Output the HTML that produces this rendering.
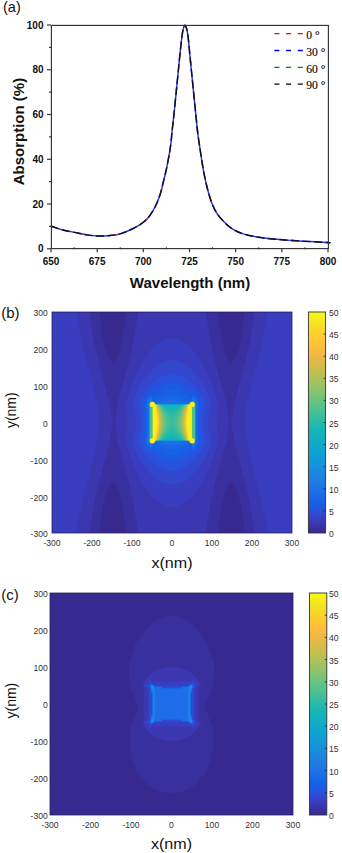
<!DOCTYPE html>
<html><head><meta charset="utf-8"><style>
html,body{margin:0;padding:0;background:#fff;}
body{width:342px;height:853px;position:relative;overflow:hidden;font-family:"Liberation Sans", sans-serif;}
</style></head><body>
<svg width="342" height="853" viewBox="0 0 342 853" style="position:absolute;left:0;top:0">
<defs><filter id="soft" x="-20%" y="-20%" width="140%" height="140%"><feGaussianBlur stdDeviation="0.45"/></filter><linearGradient id="cbg" x1="0" y1="0" x2="0" y2="1"><stop offset="0.0000" stop-color="#f9fb10"/><stop offset="0.0156" stop-color="#f7f316"/><stop offset="0.0312" stop-color="#f5ec1a"/><stop offset="0.0469" stop-color="#f5e61f"/><stop offset="0.0625" stop-color="#f5e023"/><stop offset="0.0781" stop-color="#f7da27"/><stop offset="0.0938" stop-color="#f9d42a"/><stop offset="0.1094" stop-color="#fccf2e"/><stop offset="0.1250" stop-color="#fec932"/><stop offset="0.1406" stop-color="#fec437"/><stop offset="0.1562" stop-color="#febf3c"/><stop offset="0.1719" stop-color="#f9bb41"/><stop offset="0.1875" stop-color="#f2ba43"/><stop offset="0.2031" stop-color="#eaba44"/><stop offset="0.2188" stop-color="#e1ba45"/><stop offset="0.2344" stop-color="#d9bb47"/><stop offset="0.2500" stop-color="#d0bd4a"/><stop offset="0.2656" stop-color="#c6be4e"/><stop offset="0.2812" stop-color="#bdbf53"/><stop offset="0.2969" stop-color="#b3c058"/><stop offset="0.3125" stop-color="#a8c15e"/><stop offset="0.3281" stop-color="#9ec263"/><stop offset="0.3438" stop-color="#93c369"/><stop offset="0.3594" stop-color="#88c36f"/><stop offset="0.3750" stop-color="#7dc375"/><stop offset="0.3906" stop-color="#72c37c"/><stop offset="0.4062" stop-color="#66c282"/><stop offset="0.4219" stop-color="#5cc288"/><stop offset="0.4375" stop-color="#51c08f"/><stop offset="0.4531" stop-color="#48bf95"/><stop offset="0.4688" stop-color="#3ebd9c"/><stop offset="0.4844" stop-color="#33bca2"/><stop offset="0.5000" stop-color="#29baa8"/><stop offset="0.5156" stop-color="#1fb8ae"/><stop offset="0.5312" stop-color="#18b6b4"/><stop offset="0.5469" stop-color="#13b3b9"/><stop offset="0.5625" stop-color="#11b1bf"/><stop offset="0.5781" stop-color="#0faec4"/><stop offset="0.5938" stop-color="#0eabc8"/><stop offset="0.6094" stop-color="#0da8cc"/><stop offset="0.6250" stop-color="#0ea5d0"/><stop offset="0.6406" stop-color="#0fa1d3"/><stop offset="0.6562" stop-color="#109dd6"/><stop offset="0.6719" stop-color="#1199d8"/><stop offset="0.6875" stop-color="#1495da"/><stop offset="0.7031" stop-color="#1790dc"/><stop offset="0.7188" stop-color="#1a8ade"/><stop offset="0.7344" stop-color="#1c85df"/><stop offset="0.7500" stop-color="#1e81e1"/><stop offset="0.7656" stop-color="#1f7ce2"/><stop offset="0.7812" stop-color="#1f78e4"/><stop offset="0.7969" stop-color="#1f73e5"/><stop offset="0.8125" stop-color="#1d6fe6"/><stop offset="0.8281" stop-color="#1b6ae7"/><stop offset="0.8438" stop-color="#1866e7"/><stop offset="0.8594" stop-color="#1761e7"/><stop offset="0.8750" stop-color="#195be5"/><stop offset="0.8906" stop-color="#2155e1"/><stop offset="0.9062" stop-color="#2c4dd8"/><stop offset="0.9219" stop-color="#3446cd"/><stop offset="0.9375" stop-color="#383fc1"/><stop offset="0.9531" stop-color="#3939b5"/><stop offset="0.9688" stop-color="#3a34a9"/><stop offset="0.9844" stop-color="#392e9d"/><stop offset="1.0000" stop-color="#382991"/></linearGradient></defs>
<text x="3" y="12" font-family="Liberation Sans" font-size="14.5" fill="#111">(a)</text>
<path d="M51.00,226.20 C51.33,226.30 51.00,226.17 53.00,226.80 C55.00,227.43 59.40,229.07 63.00,230.00 C66.60,230.93 70.60,231.58 74.60,232.40 C78.60,233.22 83.10,234.30 87.00,234.90 C90.90,235.50 94.17,235.90 98.00,236.00 C101.83,236.10 106.33,235.85 110.00,235.50 C113.67,235.15 116.67,234.82 120.00,233.90 C123.33,232.98 126.67,231.55 130.00,230.00 C133.33,228.45 137.17,226.42 140.00,224.60 C142.83,222.78 144.85,221.38 147.00,219.10 C149.15,216.82 151.23,213.63 152.90,210.90 C154.57,208.17 155.73,205.63 157.00,202.70 C158.27,199.77 159.43,196.82 160.50,193.30 C161.57,189.78 162.48,185.32 163.40,181.60 C164.32,177.88 165.22,174.52 166.00,171.00 C166.78,167.48 167.45,163.92 168.10,160.50 C168.75,157.08 169.40,153.63 169.90,150.50 C170.40,147.37 170.72,145.12 171.10,141.70 C171.48,138.28 171.73,134.45 172.20,130.00 C172.67,125.55 173.25,121.15 173.90,115.00 C174.55,108.85 175.37,100.40 176.10,93.10 C176.83,85.80 177.57,78.52 178.30,71.20 C179.03,63.88 179.77,55.78 180.50,49.20 C181.23,42.62 181.93,35.67 182.70,31.70 C183.47,27.73 184.25,24.92 185.10,25.40 C185.95,25.88 186.98,29.42 187.80,34.60 C188.62,39.78 189.27,49.18 190.00,56.50 C190.73,63.82 191.47,71.18 192.20,78.50 C192.93,85.82 193.72,93.58 194.40,100.40 C195.08,107.22 195.72,113.73 196.30,119.40 C196.88,125.07 197.38,130.20 197.90,134.40 C198.42,138.60 198.78,140.47 199.40,144.60 C200.02,148.73 200.82,154.32 201.60,159.20 C202.38,164.08 203.13,169.02 204.10,173.90 C205.07,178.78 206.12,183.63 207.40,188.50 C208.68,193.37 210.22,198.97 211.80,203.10 C213.38,207.23 214.83,210.13 216.90,213.30 C218.97,216.47 221.52,219.42 224.20,222.10 C226.88,224.78 229.70,227.40 233.00,229.40 C236.30,231.40 238.88,232.67 244.00,234.10 C249.12,235.53 255.65,236.93 263.70,238.00 C271.75,239.07 281.73,239.75 292.30,240.50 C302.87,241.25 321.15,242.15 327.10,242.50 C333.05,242.85 327.85,242.58 328.00,242.60" fill="none" stroke="#2233ff" stroke-width="1.45"/>
<path d="M51.00,226.20 C51.33,226.30 51.00,226.17 53.00,226.80 C55.00,227.43 59.40,229.07 63.00,230.00 C66.60,230.93 70.60,231.58 74.60,232.40 C78.60,233.22 83.10,234.30 87.00,234.90 C90.90,235.50 94.17,235.90 98.00,236.00 C101.83,236.10 106.33,235.85 110.00,235.50 C113.67,235.15 116.67,234.82 120.00,233.90 C123.33,232.98 126.67,231.55 130.00,230.00 C133.33,228.45 137.17,226.42 140.00,224.60 C142.83,222.78 144.85,221.38 147.00,219.10 C149.15,216.82 151.23,213.63 152.90,210.90 C154.57,208.17 155.73,205.63 157.00,202.70 C158.27,199.77 159.43,196.82 160.50,193.30 C161.57,189.78 162.48,185.32 163.40,181.60 C164.32,177.88 165.22,174.52 166.00,171.00 C166.78,167.48 167.45,163.92 168.10,160.50 C168.75,157.08 169.40,153.63 169.90,150.50 C170.40,147.37 170.72,145.12 171.10,141.70 C171.48,138.28 171.73,134.45 172.20,130.00 C172.67,125.55 173.25,121.15 173.90,115.00 C174.55,108.85 175.37,100.40 176.10,93.10 C176.83,85.80 177.57,78.52 178.30,71.20 C179.03,63.88 179.77,55.78 180.50,49.20 C181.23,42.62 181.93,35.67 182.70,31.70 C183.47,27.73 184.25,24.92 185.10,25.40 C185.95,25.88 186.98,29.42 187.80,34.60 C188.62,39.78 189.27,49.18 190.00,56.50 C190.73,63.82 191.47,71.18 192.20,78.50 C192.93,85.82 193.72,93.58 194.40,100.40 C195.08,107.22 195.72,113.73 196.30,119.40 C196.88,125.07 197.38,130.20 197.90,134.40 C198.42,138.60 198.78,140.47 199.40,144.60 C200.02,148.73 200.82,154.32 201.60,159.20 C202.38,164.08 203.13,169.02 204.10,173.90 C205.07,178.78 206.12,183.63 207.40,188.50 C208.68,193.37 210.22,198.97 211.80,203.10 C213.38,207.23 214.83,210.13 216.90,213.30 C218.97,216.47 221.52,219.42 224.20,222.10 C226.88,224.78 229.70,227.40 233.00,229.40 C236.30,231.40 238.88,232.67 244.00,234.10 C249.12,235.53 255.65,236.93 263.70,238.00 C271.75,239.07 281.73,239.75 292.30,240.50 C302.87,241.25 321.15,242.15 327.10,242.50 C333.05,242.85 327.85,242.58 328.00,242.60" fill="none" stroke="#ff2020" stroke-width="1.45" stroke-dasharray="3 31" stroke-dashoffset="3"/>
<path d="M51.00,226.20 C51.33,226.30 51.00,226.17 53.00,226.80 C55.00,227.43 59.40,229.07 63.00,230.00 C66.60,230.93 70.60,231.58 74.60,232.40 C78.60,233.22 83.10,234.30 87.00,234.90 C90.90,235.50 94.17,235.90 98.00,236.00 C101.83,236.10 106.33,235.85 110.00,235.50 C113.67,235.15 116.67,234.82 120.00,233.90 C123.33,232.98 126.67,231.55 130.00,230.00 C133.33,228.45 137.17,226.42 140.00,224.60 C142.83,222.78 144.85,221.38 147.00,219.10 C149.15,216.82 151.23,213.63 152.90,210.90 C154.57,208.17 155.73,205.63 157.00,202.70 C158.27,199.77 159.43,196.82 160.50,193.30 C161.57,189.78 162.48,185.32 163.40,181.60 C164.32,177.88 165.22,174.52 166.00,171.00 C166.78,167.48 167.45,163.92 168.10,160.50 C168.75,157.08 169.40,153.63 169.90,150.50 C170.40,147.37 170.72,145.12 171.10,141.70 C171.48,138.28 171.73,134.45 172.20,130.00 C172.67,125.55 173.25,121.15 173.90,115.00 C174.55,108.85 175.37,100.40 176.10,93.10 C176.83,85.80 177.57,78.52 178.30,71.20 C179.03,63.88 179.77,55.78 180.50,49.20 C181.23,42.62 181.93,35.67 182.70,31.70 C183.47,27.73 184.25,24.92 185.10,25.40 C185.95,25.88 186.98,29.42 187.80,34.60 C188.62,39.78 189.27,49.18 190.00,56.50 C190.73,63.82 191.47,71.18 192.20,78.50 C192.93,85.82 193.72,93.58 194.40,100.40 C195.08,107.22 195.72,113.73 196.30,119.40 C196.88,125.07 197.38,130.20 197.90,134.40 C198.42,138.60 198.78,140.47 199.40,144.60 C200.02,148.73 200.82,154.32 201.60,159.20 C202.38,164.08 203.13,169.02 204.10,173.90 C205.07,178.78 206.12,183.63 207.40,188.50 C208.68,193.37 210.22,198.97 211.80,203.10 C213.38,207.23 214.83,210.13 216.90,213.30 C218.97,216.47 221.52,219.42 224.20,222.10 C226.88,224.78 229.70,227.40 233.00,229.40 C236.30,231.40 238.88,232.67 244.00,234.10 C249.12,235.53 255.65,236.93 263.70,238.00 C271.75,239.07 281.73,239.75 292.30,240.50 C302.87,241.25 321.15,242.15 327.10,242.50 C333.05,242.85 327.85,242.58 328.00,242.60" fill="none" stroke="#111" stroke-width="1.45" stroke-dasharray="8 3.5"/>
<rect x="51.4" y="25.4" width="277.0" height="223.2" fill="none" stroke="#333" stroke-width="1.15"/>
<line x1="47.0" y1="248.80" x2="51.0" y2="248.80" stroke="#3a3a3a" stroke-width="1.2"/>
<text x="43.5" y="252.40" text-anchor="end" font-family="Liberation Sans" font-weight="bold" font-size="10" fill="#111">0</text>
<line x1="47.0" y1="204.04" x2="51.0" y2="204.04" stroke="#3a3a3a" stroke-width="1.2"/>
<text x="43.5" y="207.64" text-anchor="end" font-family="Liberation Sans" font-weight="bold" font-size="10" fill="#111">20</text>
<line x1="47.0" y1="159.28" x2="51.0" y2="159.28" stroke="#3a3a3a" stroke-width="1.2"/>
<text x="43.5" y="162.88" text-anchor="end" font-family="Liberation Sans" font-weight="bold" font-size="10" fill="#111">40</text>
<line x1="47.0" y1="114.52" x2="51.0" y2="114.52" stroke="#3a3a3a" stroke-width="1.2"/>
<text x="43.5" y="118.12" text-anchor="end" font-family="Liberation Sans" font-weight="bold" font-size="10" fill="#111">60</text>
<line x1="47.0" y1="69.76" x2="51.0" y2="69.76" stroke="#3a3a3a" stroke-width="1.2"/>
<text x="43.5" y="73.36" text-anchor="end" font-family="Liberation Sans" font-weight="bold" font-size="10" fill="#111">80</text>
<line x1="47.0" y1="25.00" x2="51.0" y2="25.00" stroke="#3a3a3a" stroke-width="1.2"/>
<text x="43.5" y="28.60" text-anchor="end" font-family="Liberation Sans" font-weight="bold" font-size="10" fill="#111">100</text>
<line x1="49.0" y1="226.42" x2="51.0" y2="226.42" stroke="#3a3a3a" stroke-width="1.1"/>
<line x1="49.0" y1="181.66" x2="51.0" y2="181.66" stroke="#3a3a3a" stroke-width="1.1"/>
<line x1="49.0" y1="136.90" x2="51.0" y2="136.90" stroke="#3a3a3a" stroke-width="1.1"/>
<line x1="49.0" y1="92.14" x2="51.0" y2="92.14" stroke="#3a3a3a" stroke-width="1.1"/>
<line x1="49.0" y1="47.38" x2="51.0" y2="47.38" stroke="#3a3a3a" stroke-width="1.1"/>
<line x1="51.00" y1="248.8" x2="51.00" y2="252.3" stroke="#3a3a3a" stroke-width="1.2"/>
<text x="51.00" y="265" text-anchor="middle" font-family="Liberation Sans" font-weight="bold" font-size="10" fill="#111">650</text>
<line x1="97.17" y1="248.8" x2="97.17" y2="252.3" stroke="#3a3a3a" stroke-width="1.2"/>
<text x="97.17" y="265" text-anchor="middle" font-family="Liberation Sans" font-weight="bold" font-size="10" fill="#111">675</text>
<line x1="143.33" y1="248.8" x2="143.33" y2="252.3" stroke="#3a3a3a" stroke-width="1.2"/>
<text x="143.33" y="265" text-anchor="middle" font-family="Liberation Sans" font-weight="bold" font-size="10" fill="#111">700</text>
<line x1="189.50" y1="248.8" x2="189.50" y2="252.3" stroke="#3a3a3a" stroke-width="1.2"/>
<text x="189.50" y="265" text-anchor="middle" font-family="Liberation Sans" font-weight="bold" font-size="10" fill="#111">725</text>
<line x1="235.67" y1="248.8" x2="235.67" y2="252.3" stroke="#3a3a3a" stroke-width="1.2"/>
<text x="235.67" y="265" text-anchor="middle" font-family="Liberation Sans" font-weight="bold" font-size="10" fill="#111">750</text>
<line x1="281.83" y1="248.8" x2="281.83" y2="252.3" stroke="#3a3a3a" stroke-width="1.2"/>
<text x="281.83" y="265" text-anchor="middle" font-family="Liberation Sans" font-weight="bold" font-size="10" fill="#111">775</text>
<line x1="328.00" y1="248.8" x2="328.00" y2="252.3" stroke="#3a3a3a" stroke-width="1.2"/>
<text x="328.00" y="265" text-anchor="middle" font-family="Liberation Sans" font-weight="bold" font-size="10" fill="#111">800</text>
<line x1="74.08" y1="247.3" x2="74.08" y2="249.3" stroke="#3a3a3a" stroke-width="1.1"/>
<line x1="120.25" y1="247.3" x2="120.25" y2="249.3" stroke="#3a3a3a" stroke-width="1.1"/>
<line x1="166.42" y1="247.3" x2="166.42" y2="249.3" stroke="#3a3a3a" stroke-width="1.1"/>
<line x1="212.58" y1="247.3" x2="212.58" y2="249.3" stroke="#3a3a3a" stroke-width="1.1"/>
<line x1="258.75" y1="247.3" x2="258.75" y2="249.3" stroke="#3a3a3a" stroke-width="1.1"/>
<line x1="304.92" y1="247.3" x2="304.92" y2="249.3" stroke="#3a3a3a" stroke-width="1.1"/>
<text x="190" y="288" text-anchor="middle" font-family="Liberation Sans" font-weight="bold" font-size="15" fill="#111">Wavelength (nm)</text>
<text transform="translate(23.6,131.6) rotate(-90)" x="0" y="0" text-anchor="middle" font-family="Liberation Sans" font-weight="bold" font-size="15" fill="#111">Absorption (%)</text>
<line x1="274.4" y1="33.7" x2="303" y2="33.7" stroke="#ff0000" stroke-width="1.3" stroke-dasharray="5 6.7"/>
<text transform="translate(306.3,39.0) scale(0.88,1)" font-family="Liberation Serif" font-size="13.2" fill="#000" stroke="#000" stroke-width="0.12">0 °</text>
<line x1="274.4" y1="50.5" x2="303" y2="50.5" stroke="#0000ff" stroke-width="1.3" stroke-dasharray="5 6.7"/>
<text transform="translate(306.3,55.8) scale(0.88,1)" font-family="Liberation Serif" font-size="13.2" fill="#000" stroke="#000" stroke-width="0.12">30 °</text>
<line x1="274.4" y1="67.3" x2="303" y2="67.3" stroke="#008000" stroke-width="1.3" stroke-dasharray="5 6.7"/>
<text transform="translate(306.3,72.6) scale(0.88,1)" font-family="Liberation Serif" font-size="13.2" fill="#000" stroke="#000" stroke-width="0.12">60 °</text>
<line x1="274.4" y1="84.1" x2="303" y2="84.1" stroke="#000000" stroke-width="1.3" stroke-dasharray="5 6.7"/>
<text transform="translate(306.3,89.4) scale(0.88,1)" font-family="Liberation Serif" font-size="13.2" fill="#000" stroke="#000" stroke-width="0.12">90 °</text>
<text x="1.2" y="318.2" font-family="Liberation Sans" font-size="15" fill="#111">(b)</text>
<rect x="52.0" y="312.0" width="240.0" height="221.0" fill="#382991"/>
<path fill="#3930a0" fill-rule="evenodd" d="M52.0 312.0L53.5 312.0L55.0 312.0L56.5 312.0L58.0 312.0L59.5 312.0L61.0 312.0L62.5 312.0L64.0 312.0L65.5 312.0L67.0 312.0L68.5 312.0L70.0 312.0L71.5 312.0L73.0 312.0L74.5 312.0L76.0 312.0L77.5 312.0L79.0 312.0L80.5 312.0L82.0 312.0L83.5 312.0L85.0 312.0L86.5 312.0L88.0 312.0L89.5 312.0L91.0 312.0L92.5 312.0L94.0 312.0L95.5 312.0L97.0 312.0L98.5 312.0L99.5 312.0L99.6 313.5L99.7 315.0L99.8 316.5L99.9 318.0L100.0 318.7L100.1 319.5L100.2 321.0L100.4 322.5L100.6 324.0L100.8 325.5L101.0 327.0L101.2 328.5L101.4 330.0L101.5 330.8L101.6 331.5L101.9 333.0L102.2 334.6L102.4 336.1L102.7 337.6L103.0 339.0L103.0 339.1L103.4 340.6L103.7 342.1L104.1 343.6L104.4 345.1L104.5 345.4L104.8 346.6L105.3 348.1L105.7 349.6L106.0 350.5L106.2 351.1L106.7 352.6L107.3 354.1L107.5 354.7L107.9 355.6L108.6 357.1L109.0 358.0L109.4 358.6L110.4 360.1L110.5 360.3L112.0 361.6L112.0 361.6L113.5 361.9L114.0 361.6L115.0 361.0L115.7 360.1L116.5 359.0L116.7 358.6L117.4 357.1L118.0 355.7L118.0 355.6L118.6 354.1L119.1 352.6L119.5 351.2L119.5 351.1L119.9 349.6L120.3 348.1L120.7 346.6L121.0 345.4L121.1 345.1L121.4 343.6L121.7 342.1L122.0 340.6L122.3 339.1L122.5 338.1L122.6 337.6L122.8 336.1L123.1 334.6L123.3 333.0L123.5 331.5L123.8 330.0L124.0 328.5L124.0 328.3L124.2 327.0L124.3 325.5L124.5 324.0L124.7 322.5L124.8 321.0L125.0 319.5L125.1 318.0L125.2 316.5L125.3 315.0L125.4 313.5L125.5 312.0L125.5 312.0L127.0 312.0L128.5 312.0L130.0 312.0L131.5 312.0L133.0 312.0L134.5 312.0L136.0 312.0L137.5 312.0L139.0 312.0L140.5 312.0L142.0 312.0L143.5 312.0L145.0 312.0L146.5 312.0L148.0 312.0L149.5 312.0L151.0 312.0L152.5 312.0L154.0 312.0L155.5 312.0L157.0 312.0L158.5 312.0L160.0 312.0L161.5 312.0L163.0 312.0L164.5 312.0L166.0 312.0L167.5 312.0L169.0 312.0L170.5 312.0L172.0 312.0L173.5 312.0L175.0 312.0L176.5 312.0L178.0 312.0L179.5 312.0L181.0 312.0L182.5 312.0L184.0 312.0L185.5 312.0L187.0 312.0L188.5 312.0L190.0 312.0L191.5 312.0L193.0 312.0L194.5 312.0L196.0 312.0L197.5 312.0L199.0 312.0L200.5 312.0L202.0 312.0L203.5 312.0L205.0 312.0L206.5 312.0L208.0 312.0L209.5 312.0L211.0 312.0L212.5 312.0L214.0 312.0L215.5 312.0L217.0 312.0L218.5 312.0L218.5 312.0L218.6 313.5L218.7 315.0L218.8 316.5L218.9 318.0L219.0 319.5L219.2 321.0L219.3 322.5L219.5 324.0L219.7 325.5L219.8 327.0L220.0 328.3L220.0 328.5L220.2 330.0L220.5 331.5L220.7 333.0L220.9 334.6L221.2 336.1L221.4 337.6L221.5 338.1L221.7 339.1L222.0 340.6L222.3 342.1L222.6 343.6L222.9 345.1L223.0 345.4L223.3 346.6L223.7 348.1L224.1 349.6L224.5 351.1L224.5 351.2L224.9 352.6L225.4 354.1L226.0 355.6L226.0 355.7L226.6 357.1L227.3 358.6L227.5 359.0L228.3 360.1L229.0 361.0L230.0 361.6L230.5 361.9L232.0 361.6L232.0 361.6L233.5 360.3L233.6 360.1L234.6 358.6L235.0 358.0L235.4 357.1L236.1 355.6L236.5 354.7L236.7 354.1L237.3 352.6L237.8 351.1L238.0 350.5L238.3 349.6L238.7 348.1L239.2 346.6L239.5 345.4L239.6 345.1L239.9 343.6L240.3 342.1L240.6 340.6L241.0 339.1L241.0 339.0L241.3 337.6L241.6 336.1L241.8 334.6L242.1 333.0L242.4 331.5L242.5 330.8L242.6 330.0L242.8 328.5L243.0 327.0L243.2 325.5L243.4 324.0L243.6 322.5L243.8 321.0L243.9 319.5L244.0 318.7L244.1 318.0L244.2 316.5L244.3 315.0L244.4 313.5L244.5 312.0L245.5 312.0L247.0 312.0L248.5 312.0L250.0 312.0L251.5 312.0L253.0 312.0L254.5 312.0L256.0 312.0L257.5 312.0L259.0 312.0L260.5 312.0L262.0 312.0L263.5 312.0L265.0 312.0L266.5 312.0L268.0 312.0L269.5 312.0L271.0 312.0L272.5 312.0L274.0 312.0L275.5 312.0L277.0 312.0L278.5 312.0L280.0 312.0L281.5 312.0L283.0 312.0L284.5 312.0L286.0 312.0L287.5 312.0L289.0 312.0L290.5 312.0L292.0 312.0L292.0 313.5L292.0 315.0L292.0 316.5L292.0 318.0L292.0 319.5L292.0 321.0L292.0 322.5L292.0 324.0L292.0 325.5L292.0 327.0L292.0 328.5L292.0 330.0L292.0 331.5L292.0 333.0L292.0 334.6L292.0 336.1L292.0 337.6L292.0 339.1L292.0 340.6L292.0 342.1L292.0 343.6L292.0 345.1L292.0 346.6L292.0 348.1L292.0 349.6L292.0 351.1L292.0 352.6L292.0 354.1L292.0 355.6L292.0 357.1L292.0 358.6L292.0 360.1L292.0 361.6L292.0 363.1L292.0 364.6L292.0 366.1L292.0 367.6L292.0 369.1L292.0 370.6L292.0 372.1L292.0 373.6L292.0 375.1L292.0 376.6L292.0 378.1L292.0 379.7L292.0 381.2L292.0 382.7L292.0 384.2L292.0 385.7L292.0 387.2L292.0 388.7L292.0 390.2L292.0 391.7L292.0 393.2L292.0 394.7L292.0 396.2L292.0 397.7L292.0 399.2L292.0 400.7L292.0 402.2L292.0 403.7L292.0 405.2L292.0 406.7L292.0 408.2L292.0 409.7L292.0 411.2L292.0 412.7L292.0 414.2L292.0 415.7L292.0 417.2L292.0 418.7L292.0 420.2L292.0 421.7L292.0 423.3L292.0 424.8L292.0 426.3L292.0 427.8L292.0 429.3L292.0 430.8L292.0 432.3L292.0 433.8L292.0 435.3L292.0 436.8L292.0 438.3L292.0 439.8L292.0 441.3L292.0 442.8L292.0 444.3L292.0 445.8L292.0 447.3L292.0 448.8L292.0 450.3L292.0 451.8L292.0 453.3L292.0 454.8L292.0 456.3L292.0 457.8L292.0 459.3L292.0 460.8L292.0 462.3L292.0 463.8L292.0 465.3L292.0 466.9L292.0 468.4L292.0 469.9L292.0 471.4L292.0 472.9L292.0 474.4L292.0 475.9L292.0 477.4L292.0 478.9L292.0 480.4L292.0 481.9L292.0 483.4L292.0 484.9L292.0 486.4L292.0 487.9L292.0 489.4L292.0 490.9L292.0 492.4L292.0 493.9L292.0 495.4L292.0 496.9L292.0 498.4L292.0 499.9L292.0 501.4L292.0 502.9L292.0 504.4L292.0 505.9L292.0 507.4L292.0 508.9L292.0 510.4L292.0 512.0L292.0 513.5L292.0 515.0L292.0 516.5L292.0 518.0L292.0 519.5L292.0 521.0L292.0 522.5L292.0 524.0L292.0 525.5L292.0 527.0L292.0 528.5L292.0 530.0L292.0 531.5L292.0 533.0L290.5 533.0L289.0 533.0L287.5 533.0L286.0 533.0L284.5 533.0L283.0 533.0L281.5 533.0L280.0 533.0L278.5 533.0L277.0 533.0L275.5 533.0L274.0 533.0L272.5 533.0L271.0 533.0L269.5 533.0L268.0 533.0L266.5 533.0L265.0 533.0L263.5 533.0L262.0 533.0L260.5 533.0L259.0 533.0L257.5 533.0L256.0 533.0L254.5 533.0L253.0 533.0L251.5 533.0L250.0 533.0L248.5 533.0L247.0 533.0L245.5 533.0L244.5 533.0L244.4 531.5L244.3 530.0L244.2 528.5L244.1 527.0L244.0 526.3L243.9 525.5L243.8 524.0L243.6 522.5L243.4 521.0L243.2 519.5L243.0 518.0L242.8 516.5L242.6 515.0L242.5 514.2L242.4 513.5L242.1 512.0L241.8 510.4L241.6 508.9L241.3 507.4L241.0 506.0L241.0 505.9L240.6 504.4L240.3 502.9L239.9 501.4L239.6 499.9L239.5 499.6L239.2 498.4L238.7 496.9L238.3 495.4L238.0 494.5L237.8 493.9L237.3 492.4L236.7 490.9L236.5 490.3L236.1 489.4L235.4 487.9L235.0 487.0L234.6 486.4L233.6 484.9L233.5 484.7L232.0 483.4L232.0 483.4L230.5 483.1L230.0 483.4L229.0 484.0L228.3 484.9L227.5 486.0L227.3 486.4L226.6 487.9L226.0 489.3L226.0 489.4L225.4 490.9L224.9 492.4L224.5 493.8L224.5 493.9L224.1 495.4L223.7 496.9L223.3 498.4L223.0 499.6L222.9 499.9L222.6 501.4L222.3 502.9L222.0 504.4L221.7 505.9L221.5 506.9L221.4 507.4L221.2 508.9L220.9 510.4L220.7 512.0L220.5 513.5L220.2 515.0L220.0 516.5L220.0 516.7L219.8 518.0L219.7 519.5L219.5 521.0L219.3 522.5L219.2 524.0L219.0 525.5L218.9 527.0L218.8 528.5L218.7 530.0L218.6 531.5L218.5 533.0L218.5 533.0L217.0 533.0L215.5 533.0L214.0 533.0L212.5 533.0L211.0 533.0L209.5 533.0L208.0 533.0L206.5 533.0L205.0 533.0L203.5 533.0L202.0 533.0L200.5 533.0L199.0 533.0L197.5 533.0L196.0 533.0L194.5 533.0L193.0 533.0L191.5 533.0L190.0 533.0L188.5 533.0L187.0 533.0L185.5 533.0L184.0 533.0L182.5 533.0L181.0 533.0L179.5 533.0L178.0 533.0L176.5 533.0L175.0 533.0L173.5 533.0L172.0 533.0L170.5 533.0L169.0 533.0L167.5 533.0L166.0 533.0L164.5 533.0L163.0 533.0L161.5 533.0L160.0 533.0L158.5 533.0L157.0 533.0L155.5 533.0L154.0 533.0L152.5 533.0L151.0 533.0L149.5 533.0L148.0 533.0L146.5 533.0L145.0 533.0L143.5 533.0L142.0 533.0L140.5 533.0L139.0 533.0L137.5 533.0L136.0 533.0L134.5 533.0L133.0 533.0L131.5 533.0L130.0 533.0L128.5 533.0L127.0 533.0L125.5 533.0L125.5 533.0L125.4 531.5L125.3 530.0L125.2 528.5L125.1 527.0L125.0 525.5L124.8 524.0L124.7 522.5L124.5 521.0L124.3 519.5L124.2 518.0L124.0 516.7L124.0 516.5L123.8 515.0L123.5 513.5L123.3 512.0L123.1 510.4L122.8 508.9L122.6 507.4L122.5 506.9L122.3 505.9L122.0 504.4L121.7 502.9L121.4 501.4L121.1 499.9L121.0 499.6L120.7 498.4L120.3 496.9L119.9 495.4L119.5 493.9L119.5 493.8L119.1 492.4L118.6 490.9L118.0 489.4L118.0 489.3L117.4 487.9L116.7 486.4L116.5 486.0L115.7 484.9L115.0 484.0L114.0 483.4L113.5 483.1L112.0 483.4L112.0 483.4L110.5 484.7L110.4 484.9L109.4 486.4L109.0 487.0L108.6 487.9L107.9 489.4L107.5 490.3L107.3 490.9L106.7 492.4L106.2 493.9L106.0 494.5L105.7 495.4L105.3 496.9L104.8 498.4L104.5 499.6L104.4 499.9L104.1 501.4L103.7 502.9L103.4 504.4L103.0 505.9L103.0 506.0L102.7 507.4L102.4 508.9L102.2 510.4L101.9 512.0L101.6 513.5L101.5 514.2L101.4 515.0L101.2 516.5L101.0 518.0L100.8 519.5L100.6 521.0L100.4 522.5L100.2 524.0L100.1 525.5L100.0 526.3L99.9 527.0L99.8 528.5L99.7 530.0L99.6 531.5L99.5 533.0L98.5 533.0L97.0 533.0L95.5 533.0L94.0 533.0L92.5 533.0L91.0 533.0L89.5 533.0L88.0 533.0L86.5 533.0L85.0 533.0L83.5 533.0L82.0 533.0L80.5 533.0L79.0 533.0L77.5 533.0L76.0 533.0L74.5 533.0L73.0 533.0L71.5 533.0L70.0 533.0L68.5 533.0L67.0 533.0L65.5 533.0L64.0 533.0L62.5 533.0L61.0 533.0L59.5 533.0L58.0 533.0L56.5 533.0L55.0 533.0L53.5 533.0L52.0 533.0L52.0 531.5L52.0 530.0L52.0 528.5L52.0 527.0L52.0 525.5L52.0 524.0L52.0 522.5L52.0 521.0L52.0 519.5L52.0 518.0L52.0 516.5L52.0 515.0L52.0 513.5L52.0 512.0L52.0 510.4L52.0 508.9L52.0 507.4L52.0 505.9L52.0 504.4L52.0 502.9L52.0 501.4L52.0 499.9L52.0 498.4L52.0 496.9L52.0 495.4L52.0 493.9L52.0 492.4L52.0 490.9L52.0 489.4L52.0 487.9L52.0 486.4L52.0 484.9L52.0 483.4L52.0 481.9L52.0 480.4L52.0 478.9L52.0 477.4L52.0 475.9L52.0 474.4L52.0 472.9L52.0 471.4L52.0 469.9L52.0 468.4L52.0 466.9L52.0 465.3L52.0 463.8L52.0 462.3L52.0 460.8L52.0 459.3L52.0 457.8L52.0 456.3L52.0 454.8L52.0 453.3L52.0 451.8L52.0 450.3L52.0 448.8L52.0 447.3L52.0 445.8L52.0 444.3L52.0 442.8L52.0 441.3L52.0 439.8L52.0 438.3L52.0 436.8L52.0 435.3L52.0 433.8L52.0 432.3L52.0 430.8L52.0 429.3L52.0 427.8L52.0 426.3L52.0 424.8L52.0 423.3L52.0 421.7L52.0 420.2L52.0 418.7L52.0 417.2L52.0 415.7L52.0 414.2L52.0 412.7L52.0 411.2L52.0 409.7L52.0 408.2L52.0 406.7L52.0 405.2L52.0 403.7L52.0 402.2L52.0 400.7L52.0 399.2L52.0 397.7L52.0 396.2L52.0 394.7L52.0 393.2L52.0 391.7L52.0 390.2L52.0 388.7L52.0 387.2L52.0 385.7L52.0 384.2L52.0 382.7L52.0 381.2L52.0 379.7L52.0 378.1L52.0 376.6L52.0 375.1L52.0 373.6L52.0 372.1L52.0 370.6L52.0 369.1L52.0 367.6L52.0 366.1L52.0 364.6L52.0 363.1L52.0 361.6L52.0 360.1L52.0 358.6L52.0 357.1L52.0 355.6L52.0 354.1L52.0 352.6L52.0 351.1L52.0 349.6L52.0 348.1L52.0 346.6L52.0 345.1L52.0 343.6L52.0 342.1L52.0 340.6L52.0 339.1L52.0 337.6L52.0 336.1L52.0 334.6L52.0 333.0L52.0 331.5L52.0 330.0L52.0 328.5L52.0 327.0L52.0 325.5L52.0 324.0L52.0 322.5L52.0 321.0L52.0 319.5L52.0 318.0L52.0 316.5L52.0 315.0L52.0 313.5Z"/>
<path fill="#3a37b0" fill-rule="evenodd" d="M52.0 312.0L53.5 312.0L55.0 312.0L56.5 312.0L58.0 312.0L59.5 312.0L61.0 312.0L62.5 312.0L64.0 312.0L65.5 312.0L67.0 312.0L68.5 312.0L70.0 312.0L71.5 312.0L73.0 312.0L74.5 312.0L76.0 312.0L77.5 312.0L79.0 312.0L80.5 312.0L82.0 312.0L83.5 312.0L85.0 312.0L86.5 312.0L88.0 312.0L89.5 312.0L89.6 312.0L89.7 313.5L89.9 315.0L90.1 316.5L90.3 318.0L90.5 319.5L90.7 321.0L91.0 322.5L91.0 322.8L91.2 324.0L91.4 325.5L91.6 327.0L91.9 328.5L92.1 330.0L92.4 331.5L92.5 332.3L92.6 333.0L92.9 334.6L93.2 336.1L93.4 337.6L93.7 339.1L94.0 340.5L94.0 340.6L94.3 342.1L94.6 343.6L94.9 345.1L95.2 346.6L95.5 347.8L95.5 348.1L95.9 349.6L96.2 351.1L96.5 352.6L96.9 354.1L97.0 354.6L97.2 355.6L97.6 357.1L98.0 358.6L98.3 360.1L98.5 360.8L98.7 361.6L99.1 363.1L99.5 364.6L99.8 366.1L100.0 366.7L100.2 367.6L100.6 369.1L101.0 370.6L101.4 372.1L101.5 372.4L101.8 373.6L102.2 375.1L102.6 376.6L103.0 378.0L103.0 378.1L103.4 379.7L103.9 381.2L104.3 382.7L104.5 383.6L104.7 384.2L105.1 385.7L105.5 387.2L105.8 388.7L106.0 389.3L106.2 390.2L106.6 391.7L107.0 393.2L107.4 394.7L107.5 395.3L107.7 396.2L108.1 397.7L108.4 399.2L108.8 400.7L109.0 401.9L109.1 402.2L109.4 403.7L109.7 405.2L110.0 406.7L110.2 408.2L110.5 409.7L110.5 410.0L110.8 411.2L111.1 412.7L111.4 414.2L111.6 415.7L111.8 417.2L112.0 418.7L112.0 418.9L112.4 420.2L112.7 421.7L112.7 423.3L112.4 424.8L112.0 426.1L112.0 426.3L111.8 427.8L111.6 429.3L111.4 430.8L111.1 432.3L110.8 433.8L110.5 435.0L110.5 435.3L110.2 436.8L110.0 438.3L109.7 439.8L109.4 441.3L109.1 442.8L109.0 443.1L108.8 444.3L108.4 445.8L108.1 447.3L107.7 448.8L107.5 449.7L107.4 450.3L107.0 451.8L106.6 453.3L106.2 454.8L106.0 455.7L105.8 456.3L105.5 457.8L105.1 459.3L104.7 460.8L104.5 461.4L104.3 462.3L103.9 463.8L103.4 465.3L103.0 466.9L103.0 467.0L102.6 468.4L102.2 469.9L101.8 471.4L101.5 472.6L101.4 472.9L101.0 474.4L100.6 475.9L100.2 477.4L100.0 478.3L99.8 478.9L99.5 480.4L99.1 481.9L98.7 483.4L98.5 484.2L98.3 484.9L98.0 486.4L97.6 487.9L97.2 489.4L97.0 490.4L96.9 490.9L96.5 492.4L96.2 493.9L95.9 495.4L95.5 496.9L95.5 497.2L95.2 498.4L94.9 499.9L94.6 501.4L94.3 502.9L94.0 504.4L94.0 504.5L93.7 505.9L93.4 507.4L93.2 508.9L92.9 510.4L92.6 512.0L92.5 512.7L92.4 513.5L92.1 515.0L91.9 516.5L91.6 518.0L91.4 519.5L91.2 521.0L91.0 522.2L91.0 522.5L90.7 524.0L90.5 525.5L90.3 527.0L90.1 528.5L89.9 530.0L89.7 531.5L89.6 533.0L89.5 533.0L88.0 533.0L86.5 533.0L85.0 533.0L83.5 533.0L82.0 533.0L80.5 533.0L79.0 533.0L77.5 533.0L76.0 533.0L74.5 533.0L73.0 533.0L71.5 533.0L70.0 533.0L68.5 533.0L67.0 533.0L65.5 533.0L64.0 533.0L62.5 533.0L61.0 533.0L59.5 533.0L58.0 533.0L56.5 533.0L55.0 533.0L53.5 533.0L52.0 533.0L52.0 531.5L52.0 530.0L52.0 528.5L52.0 527.0L52.0 525.5L52.0 524.0L52.0 522.5L52.0 521.0L52.0 519.5L52.0 518.0L52.0 516.5L52.0 515.0L52.0 513.5L52.0 512.0L52.0 510.4L52.0 508.9L52.0 507.4L52.0 505.9L52.0 504.4L52.0 502.9L52.0 501.4L52.0 499.9L52.0 498.4L52.0 496.9L52.0 495.4L52.0 493.9L52.0 492.4L52.0 490.9L52.0 489.4L52.0 487.9L52.0 486.4L52.0 484.9L52.0 483.4L52.0 481.9L52.0 480.4L52.0 478.9L52.0 477.4L52.0 475.9L52.0 474.4L52.0 472.9L52.0 471.4L52.0 469.9L52.0 468.4L52.0 466.9L52.0 465.3L52.0 463.8L52.0 462.3L52.0 460.8L52.0 459.3L52.0 457.8L52.0 456.3L52.0 454.8L52.0 453.3L52.0 451.8L52.0 450.3L52.0 448.8L52.0 447.3L52.0 445.8L52.0 444.3L52.0 442.8L52.0 441.3L52.0 439.8L52.0 438.3L52.0 436.8L52.0 435.3L52.0 433.8L52.0 432.3L52.0 430.8L52.0 429.3L52.0 427.8L52.0 426.3L52.0 424.8L52.0 423.3L52.0 421.7L52.0 420.2L52.0 418.7L52.0 417.2L52.0 415.7L52.0 414.2L52.0 412.7L52.0 411.2L52.0 409.7L52.0 408.2L52.0 406.7L52.0 405.2L52.0 403.7L52.0 402.2L52.0 400.7L52.0 399.2L52.0 397.7L52.0 396.2L52.0 394.7L52.0 393.2L52.0 391.7L52.0 390.2L52.0 388.7L52.0 387.2L52.0 385.7L52.0 384.2L52.0 382.7L52.0 381.2L52.0 379.7L52.0 378.1L52.0 376.6L52.0 375.1L52.0 373.6L52.0 372.1L52.0 370.6L52.0 369.1L52.0 367.6L52.0 366.1L52.0 364.6L52.0 363.1L52.0 361.6L52.0 360.1L52.0 358.6L52.0 357.1L52.0 355.6L52.0 354.1L52.0 352.6L52.0 351.1L52.0 349.6L52.0 348.1L52.0 346.6L52.0 345.1L52.0 343.6L52.0 342.1L52.0 340.6L52.0 339.1L52.0 337.6L52.0 336.1L52.0 334.6L52.0 333.0L52.0 331.5L52.0 330.0L52.0 328.5L52.0 327.0L52.0 325.5L52.0 324.0L52.0 322.5L52.0 321.0L52.0 319.5L52.0 318.0L52.0 316.5L52.0 315.0L52.0 313.5ZM138.4 312.0L139.0 312.0L140.5 312.0L142.0 312.0L143.5 312.0L145.0 312.0L146.5 312.0L148.0 312.0L149.5 312.0L151.0 312.0L152.5 312.0L154.0 312.0L155.5 312.0L157.0 312.0L158.5 312.0L160.0 312.0L161.5 312.0L163.0 312.0L164.5 312.0L166.0 312.0L167.5 312.0L169.0 312.0L170.5 312.0L172.0 312.0L173.5 312.0L175.0 312.0L176.5 312.0L178.0 312.0L179.5 312.0L181.0 312.0L182.5 312.0L184.0 312.0L185.5 312.0L187.0 312.0L188.5 312.0L190.0 312.0L191.5 312.0L193.0 312.0L194.5 312.0L196.0 312.0L197.5 312.0L199.0 312.0L200.5 312.0L202.0 312.0L203.5 312.0L205.0 312.0L205.6 312.0L205.8 313.5L206.1 315.0L206.3 316.5L206.5 317.4L206.6 318.0L206.8 319.5L207.1 321.0L207.3 322.5L207.6 324.0L207.8 325.5L208.0 326.4L208.1 327.0L208.3 328.5L208.6 330.0L208.8 331.5L209.1 333.0L209.4 334.6L209.5 335.3L209.6 336.1L209.9 337.6L210.1 339.1L210.4 340.6L210.7 342.1L210.9 343.6L211.0 343.9L211.2 345.1L211.5 346.6L211.7 348.1L212.0 349.6L212.3 351.1L212.5 352.1L212.6 352.6L212.9 354.1L213.3 355.6L213.7 357.1L214.0 358.3L214.1 358.6L214.5 360.1L214.9 361.6L215.3 363.1L215.5 363.9L215.7 364.6L216.1 366.1L216.5 367.6L217.0 369.1L217.0 369.3L217.4 370.6L217.8 372.1L218.2 373.6L218.5 374.6L218.6 375.1L219.1 376.6L219.5 378.1L219.9 379.7L220.0 379.9L220.3 381.2L220.8 382.7L221.2 384.2L221.5 385.3L221.6 385.7L222.0 387.2L222.5 388.7L222.9 390.2L223.0 390.6L223.3 391.7L223.7 393.2L224.1 394.7L224.5 396.1L224.5 396.2L225.0 397.7L225.4 399.2L225.8 400.7L226.0 401.5L226.2 402.2L226.7 403.7L226.9 405.2L227.1 406.7L227.2 408.2L227.3 409.7L227.4 411.2L227.5 412.3L227.6 412.7L227.7 414.2L227.9 415.7L228.1 417.2L228.2 418.7L228.5 420.2L228.7 421.7L228.7 423.3L228.5 424.8L228.2 426.3L228.1 427.8L227.9 429.3L227.7 430.8L227.6 432.3L227.5 432.7L227.4 433.8L227.3 435.3L227.2 436.8L227.1 438.3L226.9 439.8L226.7 441.3L226.2 442.8L226.0 443.5L225.8 444.3L225.4 445.8L225.0 447.3L224.5 448.8L224.5 448.9L224.1 450.3L223.7 451.8L223.3 453.3L223.0 454.4L222.9 454.8L222.5 456.3L222.0 457.8L221.6 459.3L221.5 459.7L221.2 460.8L220.8 462.3L220.3 463.8L220.0 465.1L219.9 465.3L219.5 466.9L219.1 468.4L218.6 469.9L218.5 470.4L218.2 471.4L217.8 472.9L217.4 474.4L217.0 475.7L217.0 475.9L216.5 477.4L216.1 478.9L215.7 480.4L215.5 481.1L215.3 481.9L214.9 483.4L214.5 484.9L214.1 486.4L214.0 486.7L213.7 487.9L213.3 489.4L212.9 490.9L212.6 492.4L212.5 492.9L212.3 493.9L212.0 495.4L211.7 496.9L211.5 498.4L211.2 499.9L211.0 501.1L210.9 501.4L210.7 502.9L210.4 504.4L210.1 505.9L209.9 507.4L209.6 508.9L209.5 509.7L209.4 510.4L209.1 512.0L208.8 513.5L208.6 515.0L208.3 516.5L208.1 518.0L208.0 518.6L207.8 519.5L207.6 521.0L207.3 522.5L207.1 524.0L206.8 525.5L206.6 527.0L206.5 527.6L206.3 528.5L206.1 530.0L205.8 531.5L205.6 533.0L205.0 533.0L203.5 533.0L202.0 533.0L200.5 533.0L199.0 533.0L197.5 533.0L196.0 533.0L194.5 533.0L193.0 533.0L191.5 533.0L190.0 533.0L188.5 533.0L187.0 533.0L185.5 533.0L184.0 533.0L182.5 533.0L181.0 533.0L179.5 533.0L178.0 533.0L176.5 533.0L175.0 533.0L173.5 533.0L172.0 533.0L170.5 533.0L169.0 533.0L167.5 533.0L166.0 533.0L164.5 533.0L163.0 533.0L161.5 533.0L160.0 533.0L158.5 533.0L157.0 533.0L155.5 533.0L154.0 533.0L152.5 533.0L151.0 533.0L149.5 533.0L148.0 533.0L146.5 533.0L145.0 533.0L143.5 533.0L142.0 533.0L140.5 533.0L139.0 533.0L138.4 533.0L138.2 531.5L137.9 530.0L137.7 528.5L137.5 527.6L137.4 527.0L137.2 525.5L136.9 524.0L136.7 522.5L136.4 521.0L136.2 519.5L136.0 518.6L135.9 518.0L135.7 516.5L135.4 515.0L135.2 513.5L134.9 512.0L134.6 510.4L134.5 509.7L134.4 508.9L134.1 507.4L133.9 505.9L133.6 504.4L133.3 502.9L133.1 501.4L133.0 501.1L132.8 499.9L132.5 498.4L132.3 496.9L132.0 495.4L131.7 493.9L131.5 492.9L131.4 492.4L131.1 490.9L130.7 489.4L130.3 487.9L130.0 486.7L129.9 486.4L129.5 484.9L129.1 483.4L128.7 481.9L128.5 481.1L128.3 480.4L127.9 478.9L127.5 477.4L127.0 475.9L127.0 475.7L126.6 474.4L126.2 472.9L125.8 471.4L125.5 470.4L125.4 469.9L124.9 468.4L124.5 466.9L124.1 465.3L124.0 465.1L123.7 463.8L123.2 462.3L122.8 460.8L122.5 459.7L122.4 459.3L122.0 457.8L121.5 456.3L121.1 454.8L121.0 454.4L120.7 453.3L120.3 451.8L119.9 450.3L119.5 448.9L119.5 448.8L119.0 447.3L118.6 445.8L118.2 444.3L118.0 443.5L117.8 442.8L117.3 441.3L117.1 439.8L116.9 438.3L116.8 436.8L116.7 435.3L116.6 433.8L116.5 432.7L116.4 432.3L116.3 430.8L116.1 429.3L115.9 427.8L115.8 426.3L115.5 424.8L115.3 423.3L115.3 421.7L115.5 420.2L115.8 418.7L115.9 417.2L116.1 415.7L116.3 414.2L116.4 412.7L116.5 412.3L116.6 411.2L116.7 409.7L116.8 408.2L116.9 406.7L117.1 405.2L117.3 403.7L117.8 402.2L118.0 401.5L118.2 400.7L118.6 399.2L119.0 397.7L119.5 396.2L119.5 396.1L119.9 394.7L120.3 393.2L120.7 391.7L121.0 390.6L121.1 390.2L121.5 388.7L122.0 387.2L122.4 385.7L122.5 385.3L122.8 384.2L123.2 382.7L123.7 381.2L124.0 379.9L124.1 379.7L124.5 378.1L124.9 376.6L125.4 375.1L125.5 374.6L125.8 373.6L126.2 372.1L126.6 370.6L127.0 369.3L127.0 369.1L127.5 367.6L127.9 366.1L128.3 364.6L128.5 363.9L128.7 363.1L129.1 361.6L129.5 360.1L129.9 358.6L130.0 358.3L130.3 357.1L130.7 355.6L131.1 354.1L131.4 352.6L131.5 352.1L131.7 351.1L132.0 349.6L132.3 348.1L132.5 346.6L132.8 345.1L133.0 343.9L133.1 343.6L133.3 342.1L133.6 340.6L133.9 339.1L134.1 337.6L134.4 336.1L134.5 335.3L134.6 334.6L134.9 333.0L135.2 331.5L135.4 330.0L135.7 328.5L135.9 327.0L136.0 326.4L136.2 325.5L136.4 324.0L136.7 322.5L136.9 321.0L137.2 319.5L137.4 318.0L137.5 317.4L137.7 316.5L137.9 315.0L138.2 313.5ZM254.4 312.0L254.5 312.0L256.0 312.0L257.5 312.0L259.0 312.0L260.5 312.0L262.0 312.0L263.5 312.0L265.0 312.0L266.5 312.0L268.0 312.0L269.5 312.0L271.0 312.0L272.5 312.0L274.0 312.0L275.5 312.0L277.0 312.0L278.5 312.0L280.0 312.0L281.5 312.0L283.0 312.0L284.5 312.0L286.0 312.0L287.5 312.0L289.0 312.0L290.5 312.0L292.0 312.0L292.0 313.5L292.0 315.0L292.0 316.5L292.0 318.0L292.0 319.5L292.0 321.0L292.0 322.5L292.0 324.0L292.0 325.5L292.0 327.0L292.0 328.5L292.0 330.0L292.0 331.5L292.0 333.0L292.0 334.6L292.0 336.1L292.0 337.6L292.0 339.1L292.0 340.6L292.0 342.1L292.0 343.6L292.0 345.1L292.0 346.6L292.0 348.1L292.0 349.6L292.0 351.1L292.0 352.6L292.0 354.1L292.0 355.6L292.0 357.1L292.0 358.6L292.0 360.1L292.0 361.6L292.0 363.1L292.0 364.6L292.0 366.1L292.0 367.6L292.0 369.1L292.0 370.6L292.0 372.1L292.0 373.6L292.0 375.1L292.0 376.6L292.0 378.1L292.0 379.7L292.0 381.2L292.0 382.7L292.0 384.2L292.0 385.7L292.0 387.2L292.0 388.7L292.0 390.2L292.0 391.7L292.0 393.2L292.0 394.7L292.0 396.2L292.0 397.7L292.0 399.2L292.0 400.7L292.0 402.2L292.0 403.7L292.0 405.2L292.0 406.7L292.0 408.2L292.0 409.7L292.0 411.2L292.0 412.7L292.0 414.2L292.0 415.7L292.0 417.2L292.0 418.7L292.0 420.2L292.0 421.7L292.0 423.3L292.0 424.8L292.0 426.3L292.0 427.8L292.0 429.3L292.0 430.8L292.0 432.3L292.0 433.8L292.0 435.3L292.0 436.8L292.0 438.3L292.0 439.8L292.0 441.3L292.0 442.8L292.0 444.3L292.0 445.8L292.0 447.3L292.0 448.8L292.0 450.3L292.0 451.8L292.0 453.3L292.0 454.8L292.0 456.3L292.0 457.8L292.0 459.3L292.0 460.8L292.0 462.3L292.0 463.8L292.0 465.3L292.0 466.9L292.0 468.4L292.0 469.9L292.0 471.4L292.0 472.9L292.0 474.4L292.0 475.9L292.0 477.4L292.0 478.9L292.0 480.4L292.0 481.9L292.0 483.4L292.0 484.9L292.0 486.4L292.0 487.9L292.0 489.4L292.0 490.9L292.0 492.4L292.0 493.9L292.0 495.4L292.0 496.9L292.0 498.4L292.0 499.9L292.0 501.4L292.0 502.9L292.0 504.4L292.0 505.9L292.0 507.4L292.0 508.9L292.0 510.4L292.0 512.0L292.0 513.5L292.0 515.0L292.0 516.5L292.0 518.0L292.0 519.5L292.0 521.0L292.0 522.5L292.0 524.0L292.0 525.5L292.0 527.0L292.0 528.5L292.0 530.0L292.0 531.5L292.0 533.0L290.5 533.0L289.0 533.0L287.5 533.0L286.0 533.0L284.5 533.0L283.0 533.0L281.5 533.0L280.0 533.0L278.5 533.0L277.0 533.0L275.5 533.0L274.0 533.0L272.5 533.0L271.0 533.0L269.5 533.0L268.0 533.0L266.5 533.0L265.0 533.0L263.5 533.0L262.0 533.0L260.5 533.0L259.0 533.0L257.5 533.0L256.0 533.0L254.5 533.0L254.4 533.0L254.3 531.5L254.1 530.0L253.9 528.5L253.7 527.0L253.5 525.5L253.3 524.0L253.0 522.5L253.0 522.2L252.8 521.0L252.6 519.5L252.4 518.0L252.1 516.5L251.9 515.0L251.6 513.5L251.5 512.7L251.4 512.0L251.1 510.4L250.8 508.9L250.6 507.4L250.3 505.9L250.0 504.5L250.0 504.4L249.7 502.9L249.4 501.4L249.1 499.9L248.8 498.4L248.5 497.2L248.5 496.9L248.1 495.4L247.8 493.9L247.5 492.4L247.1 490.9L247.0 490.4L246.8 489.4L246.4 487.9L246.0 486.4L245.7 484.9L245.5 484.2L245.3 483.4L244.9 481.9L244.5 480.4L244.2 478.9L244.0 478.3L243.8 477.4L243.4 475.9L243.0 474.4L242.6 472.9L242.5 472.6L242.2 471.4L241.8 469.9L241.4 468.4L241.0 467.0L241.0 466.9L240.6 465.3L240.1 463.8L239.7 462.3L239.5 461.4L239.3 460.8L238.9 459.3L238.5 457.8L238.2 456.3L238.0 455.7L237.8 454.8L237.4 453.3L237.0 451.8L236.6 450.3L236.5 449.7L236.3 448.8L235.9 447.3L235.6 445.8L235.2 444.3L235.0 443.1L234.9 442.8L234.6 441.3L234.3 439.8L234.0 438.3L233.8 436.8L233.5 435.3L233.5 435.0L233.2 433.8L232.9 432.3L232.6 430.8L232.4 429.3L232.2 427.8L232.0 426.3L232.0 426.1L231.6 424.8L231.3 423.3L231.3 421.7L231.6 420.2L232.0 418.9L232.0 418.7L232.2 417.2L232.4 415.7L232.6 414.2L232.9 412.7L233.2 411.2L233.5 410.0L233.5 409.7L233.8 408.2L234.0 406.7L234.3 405.2L234.6 403.7L234.9 402.2L235.0 401.9L235.2 400.7L235.6 399.2L235.9 397.7L236.3 396.2L236.5 395.3L236.6 394.7L237.0 393.2L237.4 391.7L237.8 390.2L238.0 389.3L238.2 388.7L238.5 387.2L238.9 385.7L239.3 384.2L239.5 383.6L239.7 382.7L240.1 381.2L240.6 379.7L241.0 378.1L241.0 378.0L241.4 376.6L241.8 375.1L242.2 373.6L242.5 372.4L242.6 372.1L243.0 370.6L243.4 369.1L243.8 367.6L244.0 366.7L244.2 366.1L244.5 364.6L244.9 363.1L245.3 361.6L245.5 360.8L245.7 360.1L246.0 358.6L246.4 357.1L246.8 355.6L247.0 354.6L247.1 354.1L247.5 352.6L247.8 351.1L248.1 349.6L248.5 348.1L248.5 347.8L248.8 346.6L249.1 345.1L249.4 343.6L249.7 342.1L250.0 340.6L250.0 340.5L250.3 339.1L250.6 337.6L250.8 336.1L251.1 334.6L251.4 333.0L251.5 332.3L251.6 331.5L251.9 330.0L252.1 328.5L252.4 327.0L252.6 325.5L252.8 324.0L253.0 322.8L253.0 322.5L253.3 321.0L253.5 319.5L253.7 318.0L253.9 316.5L254.1 315.0L254.3 313.5Z"/>
<path fill="#383ebf" fill-rule="evenodd" d="M52.0 312.0L53.5 312.0L55.0 312.0L56.5 312.0L58.0 312.0L59.5 312.0L61.0 312.0L62.5 312.0L64.0 312.0L65.5 312.0L67.0 312.0L68.5 312.0L70.0 312.0L71.5 312.0L73.0 312.0L74.5 312.0L76.0 312.0L76.3 312.0L76.5 313.5L76.8 315.0L77.0 316.5L77.3 318.0L77.5 319.3L77.5 319.5L77.8 321.0L78.1 322.5L78.3 324.0L78.6 325.5L78.9 327.0L79.0 327.5L79.2 328.5L79.5 330.0L79.8 331.5L80.1 333.0L80.4 334.6L80.5 334.9L80.7 336.1L81.1 337.6L81.4 339.1L81.7 340.6L82.0 341.7L82.1 342.1L82.4 343.6L82.8 345.1L83.1 346.6L83.5 348.0L83.5 348.1L83.9 349.6L84.3 351.1L84.6 352.6L85.0 354.0L85.0 354.1L85.4 355.6L85.8 357.1L86.2 358.6L86.5 359.7L86.6 360.1L87.0 361.6L87.4 363.1L87.8 364.6L88.0 365.3L88.2 366.1L88.6 367.6L89.0 369.1L89.4 370.6L89.5 370.9L89.8 372.1L90.2 373.6L90.6 375.1L91.0 376.5L91.0 376.6L91.4 378.1L91.8 379.7L92.2 381.2L92.5 382.3L92.6 382.7L92.9 384.2L93.3 385.7L93.7 387.2L94.0 388.5L94.0 388.7L94.4 390.2L94.7 391.7L95.0 393.2L95.3 394.7L95.5 395.4L95.6 396.2L95.9 397.7L96.2 399.2L96.4 400.7L96.7 402.2L96.9 403.7L97.0 404.2L97.1 405.2L97.3 406.7L97.5 408.2L97.7 409.7L97.8 411.2L98.0 412.7L98.1 414.2L98.2 415.7L98.3 417.2L98.4 418.7L98.4 420.2L98.5 421.7L98.5 423.3L98.4 424.8L98.4 426.3L98.3 427.8L98.2 429.3L98.1 430.8L98.0 432.3L97.8 433.8L97.7 435.3L97.5 436.8L97.3 438.3L97.1 439.8L97.0 440.8L96.9 441.3L96.7 442.8L96.4 444.3L96.2 445.8L95.9 447.3L95.6 448.8L95.5 449.6L95.3 450.3L95.0 451.8L94.7 453.3L94.4 454.8L94.0 456.3L94.0 456.5L93.7 457.8L93.3 459.3L92.9 460.8L92.6 462.3L92.5 462.7L92.2 463.8L91.8 465.3L91.4 466.9L91.0 468.4L91.0 468.5L90.6 469.9L90.2 471.4L89.8 472.9L89.5 474.1L89.4 474.4L89.0 475.9L88.6 477.4L88.2 478.9L88.0 479.7L87.8 480.4L87.4 481.9L87.0 483.4L86.6 484.9L86.5 485.3L86.2 486.4L85.8 487.9L85.4 489.4L85.0 490.9L85.0 491.0L84.6 492.4L84.3 493.9L83.9 495.4L83.5 496.9L83.5 497.0L83.1 498.4L82.8 499.9L82.4 501.4L82.1 502.9L82.0 503.3L81.7 504.4L81.4 505.9L81.1 507.4L80.7 508.9L80.5 510.1L80.4 510.4L80.1 512.0L79.8 513.5L79.5 515.0L79.2 516.5L79.0 517.5L78.9 518.0L78.6 519.5L78.3 521.0L78.1 522.5L77.8 524.0L77.5 525.5L77.5 525.7L77.3 527.0L77.0 528.5L76.8 530.0L76.5 531.5L76.3 533.0L76.0 533.0L74.5 533.0L73.0 533.0L71.5 533.0L70.0 533.0L68.5 533.0L67.0 533.0L65.5 533.0L64.0 533.0L62.5 533.0L61.0 533.0L59.5 533.0L58.0 533.0L56.5 533.0L55.0 533.0L53.5 533.0L52.0 533.0L52.0 531.5L52.0 530.0L52.0 528.5L52.0 527.0L52.0 525.5L52.0 524.0L52.0 522.5L52.0 521.0L52.0 519.5L52.0 518.0L52.0 516.5L52.0 515.0L52.0 513.5L52.0 512.0L52.0 510.4L52.0 508.9L52.0 507.4L52.0 505.9L52.0 504.4L52.0 502.9L52.0 501.4L52.0 499.9L52.0 498.4L52.0 496.9L52.0 495.4L52.0 493.9L52.0 492.4L52.0 490.9L52.0 489.4L52.0 487.9L52.0 486.4L52.0 484.9L52.0 483.4L52.0 481.9L52.0 480.4L52.0 478.9L52.0 477.4L52.0 475.9L52.0 474.4L52.0 472.9L52.0 471.4L52.0 469.9L52.0 468.4L52.0 466.9L52.0 465.3L52.0 463.8L52.0 462.3L52.0 460.8L52.0 459.3L52.0 457.8L52.0 456.3L52.0 454.8L52.0 453.3L52.0 451.8L52.0 450.3L52.0 448.8L52.0 447.3L52.0 445.8L52.0 444.3L52.0 442.8L52.0 441.3L52.0 439.8L52.0 438.3L52.0 436.8L52.0 435.3L52.0 433.8L52.0 432.3L52.0 430.8L52.0 429.3L52.0 427.8L52.0 426.3L52.0 424.8L52.0 423.3L52.0 421.7L52.0 420.2L52.0 418.7L52.0 417.2L52.0 415.7L52.0 414.2L52.0 412.7L52.0 411.2L52.0 409.7L52.0 408.2L52.0 406.7L52.0 405.2L52.0 403.7L52.0 402.2L52.0 400.7L52.0 399.2L52.0 397.7L52.0 396.2L52.0 394.7L52.0 393.2L52.0 391.7L52.0 390.2L52.0 388.7L52.0 387.2L52.0 385.7L52.0 384.2L52.0 382.7L52.0 381.2L52.0 379.7L52.0 378.1L52.0 376.6L52.0 375.1L52.0 373.6L52.0 372.1L52.0 370.6L52.0 369.1L52.0 367.6L52.0 366.1L52.0 364.6L52.0 363.1L52.0 361.6L52.0 360.1L52.0 358.6L52.0 357.1L52.0 355.6L52.0 354.1L52.0 352.6L52.0 351.1L52.0 349.6L52.0 348.1L52.0 346.6L52.0 345.1L52.0 343.6L52.0 342.1L52.0 340.6L52.0 339.1L52.0 337.6L52.0 336.1L52.0 334.6L52.0 333.0L52.0 331.5L52.0 330.0L52.0 328.5L52.0 327.0L52.0 325.5L52.0 324.0L52.0 322.5L52.0 321.0L52.0 319.5L52.0 318.0L52.0 316.5L52.0 315.0L52.0 313.5ZM267.7 312.0L268.0 312.0L269.5 312.0L271.0 312.0L272.5 312.0L274.0 312.0L275.5 312.0L277.0 312.0L278.5 312.0L280.0 312.0L281.5 312.0L283.0 312.0L284.5 312.0L286.0 312.0L287.5 312.0L289.0 312.0L290.5 312.0L292.0 312.0L292.0 313.5L292.0 315.0L292.0 316.5L292.0 318.0L292.0 319.5L292.0 321.0L292.0 322.5L292.0 324.0L292.0 325.5L292.0 327.0L292.0 328.5L292.0 330.0L292.0 331.5L292.0 333.0L292.0 334.6L292.0 336.1L292.0 337.6L292.0 339.1L292.0 340.6L292.0 342.1L292.0 343.6L292.0 345.1L292.0 346.6L292.0 348.1L292.0 349.6L292.0 351.1L292.0 352.6L292.0 354.1L292.0 355.6L292.0 357.1L292.0 358.6L292.0 360.1L292.0 361.6L292.0 363.1L292.0 364.6L292.0 366.1L292.0 367.6L292.0 369.1L292.0 370.6L292.0 372.1L292.0 373.6L292.0 375.1L292.0 376.6L292.0 378.1L292.0 379.7L292.0 381.2L292.0 382.7L292.0 384.2L292.0 385.7L292.0 387.2L292.0 388.7L292.0 390.2L292.0 391.7L292.0 393.2L292.0 394.7L292.0 396.2L292.0 397.7L292.0 399.2L292.0 400.7L292.0 402.2L292.0 403.7L292.0 405.2L292.0 406.7L292.0 408.2L292.0 409.7L292.0 411.2L292.0 412.7L292.0 414.2L292.0 415.7L292.0 417.2L292.0 418.7L292.0 420.2L292.0 421.7L292.0 423.3L292.0 424.8L292.0 426.3L292.0 427.8L292.0 429.3L292.0 430.8L292.0 432.3L292.0 433.8L292.0 435.3L292.0 436.8L292.0 438.3L292.0 439.8L292.0 441.3L292.0 442.8L292.0 444.3L292.0 445.8L292.0 447.3L292.0 448.8L292.0 450.3L292.0 451.8L292.0 453.3L292.0 454.8L292.0 456.3L292.0 457.8L292.0 459.3L292.0 460.8L292.0 462.3L292.0 463.8L292.0 465.3L292.0 466.9L292.0 468.4L292.0 469.9L292.0 471.4L292.0 472.9L292.0 474.4L292.0 475.9L292.0 477.4L292.0 478.9L292.0 480.4L292.0 481.9L292.0 483.4L292.0 484.9L292.0 486.4L292.0 487.9L292.0 489.4L292.0 490.9L292.0 492.4L292.0 493.9L292.0 495.4L292.0 496.9L292.0 498.4L292.0 499.9L292.0 501.4L292.0 502.9L292.0 504.4L292.0 505.9L292.0 507.4L292.0 508.9L292.0 510.4L292.0 512.0L292.0 513.5L292.0 515.0L292.0 516.5L292.0 518.0L292.0 519.5L292.0 521.0L292.0 522.5L292.0 524.0L292.0 525.5L292.0 527.0L292.0 528.5L292.0 530.0L292.0 531.5L292.0 533.0L290.5 533.0L289.0 533.0L287.5 533.0L286.0 533.0L284.5 533.0L283.0 533.0L281.5 533.0L280.0 533.0L278.5 533.0L277.0 533.0L275.5 533.0L274.0 533.0L272.5 533.0L271.0 533.0L269.5 533.0L268.0 533.0L267.7 533.0L267.5 531.5L267.2 530.0L267.0 528.5L266.7 527.0L266.5 525.7L266.5 525.5L266.2 524.0L265.9 522.5L265.7 521.0L265.4 519.5L265.1 518.0L265.0 517.5L264.8 516.5L264.5 515.0L264.2 513.5L263.9 512.0L263.6 510.4L263.5 510.1L263.3 508.9L262.9 507.4L262.6 505.9L262.3 504.4L262.0 503.3L261.9 502.9L261.6 501.4L261.2 499.9L260.9 498.4L260.5 497.0L260.5 496.9L260.1 495.4L259.7 493.9L259.4 492.4L259.0 491.0L259.0 490.9L258.6 489.4L258.2 487.9L257.8 486.4L257.5 485.3L257.4 484.9L257.0 483.4L256.6 481.9L256.2 480.4L256.0 479.7L255.8 478.9L255.4 477.4L255.0 475.9L254.6 474.4L254.5 474.1L254.2 472.9L253.8 471.4L253.4 469.9L253.0 468.5L253.0 468.4L252.6 466.9L252.2 465.3L251.8 463.8L251.5 462.7L251.4 462.3L251.1 460.8L250.7 459.3L250.3 457.8L250.0 456.5L250.0 456.3L249.6 454.8L249.3 453.3L249.0 451.8L248.7 450.3L248.5 449.6L248.4 448.8L248.1 447.3L247.8 445.8L247.6 444.3L247.3 442.8L247.1 441.3L247.0 440.8L246.9 439.8L246.7 438.3L246.5 436.8L246.3 435.3L246.2 433.8L246.0 432.3L245.9 430.8L245.8 429.3L245.7 427.8L245.6 426.3L245.6 424.8L245.5 423.3L245.5 421.7L245.6 420.2L245.6 418.7L245.7 417.2L245.8 415.7L245.9 414.2L246.0 412.7L246.2 411.2L246.3 409.7L246.5 408.2L246.7 406.7L246.9 405.2L247.0 404.2L247.1 403.7L247.3 402.2L247.6 400.7L247.8 399.2L248.1 397.7L248.4 396.2L248.5 395.4L248.7 394.7L249.0 393.2L249.3 391.7L249.6 390.2L250.0 388.7L250.0 388.5L250.3 387.2L250.7 385.7L251.1 384.2L251.4 382.7L251.5 382.3L251.8 381.2L252.2 379.7L252.6 378.1L253.0 376.6L253.0 376.5L253.4 375.1L253.8 373.6L254.2 372.1L254.5 370.9L254.6 370.6L255.0 369.1L255.4 367.6L255.8 366.1L256.0 365.3L256.2 364.6L256.6 363.1L257.0 361.6L257.4 360.1L257.5 359.7L257.8 358.6L258.2 357.1L258.6 355.6L259.0 354.1L259.0 354.0L259.4 352.6L259.7 351.1L260.1 349.6L260.5 348.1L260.5 348.0L260.9 346.6L261.2 345.1L261.6 343.6L261.9 342.1L262.0 341.7L262.3 340.6L262.6 339.1L262.9 337.6L263.3 336.1L263.5 334.9L263.6 334.6L263.9 333.0L264.2 331.5L264.5 330.0L264.8 328.5L265.0 327.5L265.1 327.0L265.4 325.5L265.7 324.0L265.9 322.5L266.2 321.0L266.5 319.5L266.5 319.3L266.7 318.0L267.0 316.5L267.2 315.0L267.5 313.5ZM167.4 339.1L167.5 339.0L169.0 338.8L170.5 338.6L172.0 338.5L173.5 338.6L175.0 338.8L176.5 339.0L176.6 339.1L178.0 339.4L179.5 340.0L180.9 340.6L181.0 340.6L182.5 341.3L183.7 342.1L184.0 342.2L185.5 343.2L186.0 343.6L187.0 344.3L187.9 345.1L188.5 345.6L189.6 346.6L190.0 346.9L191.2 348.1L191.5 348.4L192.6 349.6L193.0 350.0L193.9 351.1L194.5 351.8L195.1 352.6L196.0 353.7L196.3 354.1L197.4 355.6L197.5 355.8L198.4 357.1L199.0 358.0L199.4 358.6L200.3 360.1L200.5 360.4L201.2 361.6L202.0 362.9L202.1 363.1L203.0 364.6L203.5 365.6L203.8 366.1L204.6 367.6L205.0 368.4L205.4 369.1L206.1 370.6L206.5 371.4L206.9 372.1L207.6 373.6L208.0 374.5L208.3 375.1L209.0 376.6L209.5 377.8L209.6 378.1L210.3 379.7L210.9 381.2L211.0 381.4L211.5 382.7L212.1 384.2L212.5 385.1L212.7 385.7L213.2 387.2L213.8 388.7L214.0 389.3L214.3 390.2L214.8 391.7L215.3 393.2L215.5 394.0L215.7 394.7L216.2 396.2L216.6 397.7L217.0 399.2L217.0 399.3L217.4 400.7L217.8 402.2L218.1 403.7L218.1 405.2L218.0 406.7L217.9 408.2L217.7 409.7L217.6 411.2L217.5 412.7L217.3 414.2L217.2 415.7L217.1 417.2L217.0 418.4L217.0 418.7L216.9 420.2L216.9 421.7L216.9 423.3L216.9 424.8L217.0 426.3L217.0 426.6L217.1 427.8L217.2 429.3L217.3 430.8L217.5 432.3L217.6 433.8L217.7 435.3L217.9 436.8L218.0 438.3L218.1 439.8L218.1 441.3L217.8 442.8L217.4 444.3L217.0 445.7L217.0 445.8L216.6 447.3L216.2 448.8L215.7 450.3L215.5 451.0L215.3 451.8L214.8 453.3L214.3 454.8L214.0 455.7L213.8 456.3L213.2 457.8L212.7 459.3L212.5 459.9L212.1 460.8L211.5 462.3L211.0 463.6L210.9 463.8L210.3 465.3L209.6 466.9L209.5 467.2L209.0 468.4L208.3 469.9L208.0 470.5L207.6 471.4L206.9 472.9L206.5 473.6L206.1 474.4L205.4 475.9L205.0 476.6L204.6 477.4L203.8 478.9L203.5 479.4L203.0 480.4L202.1 481.9L202.0 482.1L201.2 483.4L200.5 484.6L200.3 484.9L199.4 486.4L199.0 487.0L198.4 487.9L197.5 489.2L197.4 489.4L196.3 490.9L196.0 491.3L195.1 492.4L194.5 493.2L193.9 493.9L193.0 495.0L192.6 495.4L191.5 496.6L191.2 496.9L190.0 498.1L189.6 498.4L188.5 499.4L187.9 499.9L187.0 500.7L186.0 501.4L185.5 501.8L184.0 502.8L183.7 502.9L182.5 503.7L181.0 504.4L180.9 504.4L179.5 505.0L178.0 505.6L176.6 505.9L176.5 506.0L175.0 506.2L173.5 506.4L172.0 506.5L170.5 506.4L169.0 506.2L167.5 506.0L167.4 505.9L166.0 505.6L164.5 505.0L163.1 504.4L163.0 504.4L161.5 503.7L160.3 502.9L160.0 502.8L158.5 501.8L158.0 501.4L157.0 500.7L156.1 499.9L155.5 499.4L154.4 498.4L154.0 498.1L152.8 496.9L152.5 496.6L151.4 495.4L151.0 495.0L150.1 493.9L149.5 493.2L148.9 492.4L148.0 491.3L147.7 490.9L146.6 489.4L146.5 489.2L145.6 487.9L145.0 487.0L144.6 486.4L143.7 484.9L143.5 484.6L142.8 483.4L142.0 482.1L141.9 481.9L141.0 480.4L140.5 479.4L140.2 478.9L139.4 477.4L139.0 476.6L138.6 475.9L137.9 474.4L137.5 473.6L137.1 472.9L136.4 471.4L136.0 470.5L135.7 469.9L135.0 468.4L134.5 467.2L134.4 466.9L133.7 465.3L133.1 463.8L133.0 463.6L132.5 462.3L131.9 460.8L131.5 459.9L131.3 459.3L130.8 457.8L130.2 456.3L130.0 455.7L129.7 454.8L129.2 453.3L128.7 451.8L128.5 451.0L128.3 450.3L127.8 448.8L127.4 447.3L127.0 445.8L127.0 445.7L126.6 444.3L126.2 442.8L125.9 441.3L125.9 439.8L126.0 438.3L126.1 436.8L126.3 435.3L126.4 433.8L126.5 432.3L126.7 430.8L126.8 429.3L126.9 427.8L127.0 426.6L127.0 426.3L127.1 424.8L127.1 423.3L127.1 421.7L127.1 420.2L127.0 418.7L127.0 418.4L126.9 417.2L126.8 415.7L126.7 414.2L126.5 412.7L126.4 411.2L126.3 409.7L126.1 408.2L126.0 406.7L125.9 405.2L125.9 403.7L126.2 402.2L126.6 400.7L127.0 399.3L127.0 399.2L127.4 397.7L127.8 396.2L128.3 394.7L128.5 394.0L128.7 393.2L129.2 391.7L129.7 390.2L130.0 389.3L130.2 388.7L130.8 387.2L131.3 385.7L131.5 385.1L131.9 384.2L132.5 382.7L133.0 381.4L133.1 381.2L133.7 379.7L134.4 378.1L134.5 377.8L135.0 376.6L135.7 375.1L136.0 374.5L136.4 373.6L137.1 372.1L137.5 371.4L137.9 370.6L138.6 369.1L139.0 368.4L139.4 367.6L140.2 366.1L140.5 365.6L141.0 364.6L141.9 363.1L142.0 362.9L142.8 361.6L143.5 360.4L143.7 360.1L144.6 358.6L145.0 358.0L145.6 357.1L146.5 355.8L146.6 355.6L147.7 354.1L148.0 353.7L148.9 352.6L149.5 351.8L150.1 351.1L151.0 350.0L151.4 349.6L152.5 348.4L152.8 348.1L154.0 346.9L154.4 346.6L155.5 345.6L156.1 345.1L157.0 344.3L158.0 343.6L158.5 343.2L160.0 342.2L160.3 342.1L161.5 341.3L163.0 340.6L163.1 340.6L164.5 340.0L166.0 339.4Z"/>
<path fill="#3346ce" fill-rule="evenodd" d="M164.3 361.6L164.5 361.5L166.0 361.0L167.5 360.7L169.0 360.4L170.5 360.2L172.0 360.2L173.5 360.2L175.0 360.4L176.5 360.7L178.0 361.0L179.5 361.5L179.7 361.6L181.0 362.2L182.5 362.9L182.9 363.1L184.0 363.7L185.5 364.6L185.5 364.6L187.0 365.7L187.6 366.1L188.5 366.8L189.4 367.6L190.0 368.1L191.1 369.1L191.5 369.5L192.7 370.6L193.0 371.0L194.1 372.1L194.5 372.6L195.4 373.6L196.0 374.3L196.7 375.1L197.5 376.1L197.9 376.6L199.0 378.1L199.1 378.1L200.1 379.7L200.5 380.1L201.2 381.2L202.0 382.4L202.2 382.7L203.1 384.2L203.5 384.8L204.0 385.7L204.9 387.2L205.0 387.4L205.7 388.7L206.5 390.2L206.5 390.2L207.2 391.7L207.9 393.2L208.0 393.4L208.6 394.7L209.2 396.2L209.5 397.1L209.7 397.7L210.2 399.2L210.7 400.7L211.0 402.1L211.0 402.2L211.3 403.7L211.1 405.2L211.0 405.8L210.8 406.7L210.4 408.2L209.9 409.7L209.5 411.2L209.5 411.2L209.2 412.7L208.9 414.2L208.6 415.7L208.3 417.2L208.1 418.7L208.0 420.1L208.0 420.2L207.9 421.7L207.9 423.3L208.0 424.8L208.0 424.9L208.1 426.3L208.3 427.8L208.6 429.3L208.9 430.8L209.2 432.3L209.5 433.8L209.5 433.8L209.9 435.3L210.4 436.8L210.8 438.3L211.0 439.2L211.1 439.8L211.3 441.3L211.0 442.8L211.0 442.9L210.7 444.3L210.2 445.8L209.7 447.3L209.5 447.9L209.2 448.8L208.6 450.3L208.0 451.6L207.9 451.8L207.2 453.3L206.5 454.8L206.5 454.8L205.7 456.3L205.0 457.6L204.9 457.8L204.0 459.3L203.5 460.2L203.1 460.8L202.2 462.3L202.0 462.6L201.2 463.8L200.5 464.9L200.1 465.3L199.1 466.9L199.0 466.9L197.9 468.4L197.5 468.9L196.7 469.9L196.0 470.7L195.4 471.4L194.5 472.4L194.1 472.9L193.0 474.0L192.7 474.4L191.5 475.5L191.1 475.9L190.0 476.9L189.4 477.4L188.5 478.2L187.6 478.9L187.0 479.3L185.5 480.4L185.5 480.4L184.0 481.3L182.9 481.9L182.5 482.1L181.0 482.8L179.7 483.4L179.5 483.5L178.0 484.0L176.5 484.3L175.0 484.6L173.5 484.8L172.0 484.8L170.5 484.8L169.0 484.6L167.5 484.3L166.0 484.0L164.5 483.5L164.3 483.4L163.0 482.8L161.5 482.1L161.1 481.9L160.0 481.3L158.5 480.4L158.5 480.4L157.0 479.3L156.4 478.9L155.5 478.2L154.6 477.4L154.0 476.9L152.9 475.9L152.5 475.5L151.3 474.4L151.0 474.0L149.9 472.9L149.5 472.4L148.6 471.4L148.0 470.7L147.3 469.9L146.5 468.9L146.1 468.4L145.0 466.9L144.9 466.9L143.9 465.3L143.5 464.9L142.8 463.8L142.0 462.6L141.8 462.3L140.9 460.8L140.5 460.2L140.0 459.3L139.1 457.8L139.0 457.6L138.3 456.3L137.5 454.8L137.5 454.8L136.8 453.3L136.1 451.8L136.0 451.6L135.4 450.3L134.8 448.8L134.5 447.9L134.3 447.3L133.8 445.8L133.3 444.3L133.0 442.9L133.0 442.8L132.7 441.3L132.9 439.8L133.0 439.2L133.2 438.3L133.6 436.8L134.1 435.3L134.5 433.8L134.5 433.8L134.8 432.3L135.1 430.8L135.4 429.3L135.7 427.8L135.9 426.3L136.0 424.9L136.0 424.8L136.1 423.3L136.1 421.7L136.0 420.2L136.0 420.1L135.9 418.7L135.7 417.2L135.4 415.7L135.1 414.2L134.8 412.7L134.5 411.2L134.5 411.2L134.1 409.7L133.6 408.2L133.2 406.7L133.0 405.8L132.9 405.2L132.7 403.7L133.0 402.2L133.0 402.1L133.3 400.7L133.8 399.2L134.3 397.7L134.5 397.1L134.8 396.2L135.4 394.7L136.0 393.4L136.1 393.2L136.8 391.7L137.5 390.2L137.5 390.2L138.3 388.7L139.0 387.4L139.1 387.2L140.0 385.7L140.5 384.8L140.9 384.2L141.8 382.7L142.0 382.4L142.8 381.2L143.5 380.1L143.9 379.7L144.9 378.1L145.0 378.1L146.1 376.6L146.5 376.1L147.3 375.1L148.0 374.3L148.6 373.6L149.5 372.6L149.9 372.1L151.0 371.0L151.3 370.6L152.5 369.5L152.9 369.1L154.0 368.1L154.6 367.6L155.5 366.8L156.4 366.1L157.0 365.7L158.5 364.6L158.5 364.6L160.0 363.7L161.1 363.1L161.5 362.9L163.0 362.2Z"/>
<path fill="#2850dc" fill-rule="evenodd" d="M165.3 375.1L166.0 374.9L167.5 374.5L169.0 374.3L170.5 374.1L172.0 374.0L173.5 374.1L175.0 374.3L176.5 374.5L178.0 374.9L178.7 375.1L179.5 375.4L181.0 376.0L182.3 376.6L182.5 376.7L184.0 377.5L185.0 378.1L185.5 378.5L187.0 379.5L187.2 379.7L188.5 380.6L189.1 381.2L190.0 381.9L190.9 382.7L191.5 383.2L192.5 384.2L193.0 384.6L194.0 385.7L194.5 386.2L195.4 387.2L196.0 387.8L196.7 388.7L197.5 389.7L197.9 390.2L199.0 391.6L199.1 391.7L200.2 393.2L200.5 393.6L201.2 394.7L202.0 395.9L202.2 396.2L203.1 397.7L203.5 398.5L203.9 399.2L204.5 400.7L205.0 402.2L205.0 402.2L205.4 403.7L205.2 405.2L205.0 406.2L204.9 406.7L204.5 408.2L204.2 409.7L203.8 411.2L203.5 412.4L203.4 412.7L203.1 414.2L202.9 415.7L202.7 417.2L202.5 418.7L202.4 420.2L202.3 421.7L202.3 423.3L202.4 424.8L202.5 426.3L202.7 427.8L202.9 429.3L203.1 430.8L203.4 432.3L203.5 432.6L203.8 433.8L204.2 435.3L204.5 436.8L204.9 438.3L205.0 438.8L205.2 439.8L205.4 441.3L205.0 442.8L205.0 442.8L204.5 444.3L203.9 445.8L203.5 446.5L203.1 447.3L202.2 448.8L202.0 449.1L201.2 450.3L200.5 451.4L200.2 451.8L199.1 453.3L199.0 453.4L197.9 454.8L197.5 455.3L196.7 456.3L196.0 457.2L195.4 457.8L194.5 458.8L194.0 459.3L193.0 460.4L192.5 460.8L191.5 461.8L190.9 462.3L190.0 463.1L189.1 463.8L188.5 464.4L187.2 465.3L187.0 465.5L185.5 466.5L185.0 466.9L184.0 467.5L182.5 468.3L182.3 468.4L181.0 469.0L179.5 469.6L178.7 469.9L178.0 470.1L176.5 470.5L175.0 470.7L173.5 470.9L172.0 471.0L170.5 470.9L169.0 470.7L167.5 470.5L166.0 470.1L165.3 469.9L164.5 469.6L163.0 469.0L161.7 468.4L161.5 468.3L160.0 467.5L159.0 466.9L158.5 466.5L157.0 465.5L156.8 465.3L155.5 464.4L154.9 463.8L154.0 463.1L153.1 462.3L152.5 461.8L151.5 460.8L151.0 460.4L150.0 459.3L149.5 458.8L148.6 457.8L148.0 457.2L147.3 456.3L146.5 455.3L146.1 454.8L145.0 453.4L144.9 453.3L143.8 451.8L143.5 451.4L142.8 450.3L142.0 449.1L141.8 448.8L140.9 447.3L140.5 446.5L140.1 445.8L139.5 444.3L139.0 442.8L139.0 442.8L138.6 441.3L138.8 439.8L139.0 438.8L139.1 438.3L139.5 436.8L139.8 435.3L140.2 433.8L140.5 432.6L140.6 432.3L140.9 430.8L141.1 429.3L141.3 427.8L141.5 426.3L141.6 424.8L141.7 423.3L141.7 421.7L141.6 420.2L141.5 418.7L141.3 417.2L141.1 415.7L140.9 414.2L140.6 412.7L140.5 412.4L140.2 411.2L139.8 409.7L139.5 408.2L139.1 406.7L139.0 406.2L138.8 405.2L138.6 403.7L139.0 402.2L139.0 402.2L139.5 400.7L140.1 399.2L140.5 398.5L140.9 397.7L141.8 396.2L142.0 395.9L142.8 394.7L143.5 393.6L143.8 393.2L144.9 391.7L145.0 391.6L146.1 390.2L146.5 389.7L147.3 388.7L148.0 387.8L148.6 387.2L149.5 386.2L150.0 385.7L151.0 384.6L151.5 384.2L152.5 383.2L153.1 382.7L154.0 381.9L154.9 381.2L155.5 380.6L156.8 379.7L157.0 379.5L158.5 378.5L159.0 378.1L160.0 377.5L161.5 376.7L161.7 376.6L163.0 376.0L164.5 375.4Z"/>
<path fill="#1b59e4" fill-rule="evenodd" d="M166.3 384.2L167.5 383.8L169.0 383.5L170.5 383.3L172.0 383.3L173.5 383.3L175.0 383.5L176.5 383.8L177.7 384.2L178.0 384.2L179.5 384.6L181.0 385.2L181.8 385.7L182.5 386.0L184.0 386.7L184.6 387.2L185.5 387.7L186.8 388.7L187.0 388.8L188.5 389.8L188.9 390.2L190.0 391.0L190.7 391.7L191.5 392.4L192.0 391.7L193.0 390.9L193.8 391.7L194.5 392.2L195.5 393.2L196.0 393.7L196.9 394.7L197.5 395.4L198.1 396.2L199.0 397.5L199.1 397.7L200.0 399.2L200.5 400.4L200.7 400.7L201.2 402.2L201.5 403.7L201.4 405.2L201.2 406.7L200.9 408.2L200.7 409.7L200.5 411.0L200.5 411.2L200.3 412.7L200.2 414.2L200.1 415.7L200.0 417.2L199.9 418.7L199.8 420.2L199.8 421.7L199.8 423.3L199.8 424.8L199.9 426.3L200.0 427.8L200.1 429.3L200.2 430.8L200.3 432.3L200.5 433.8L200.5 434.0L200.7 435.3L200.9 436.8L201.2 438.3L201.4 439.8L201.5 441.3L201.2 442.8L200.7 444.3L200.5 444.6L200.0 445.8L199.1 447.3L199.0 447.5L198.1 448.8L197.5 449.6L196.9 450.3L196.0 451.3L195.5 451.8L194.5 452.8L193.8 453.3L193.0 454.1L192.0 453.3L191.5 452.6L190.7 453.3L190.0 454.0L188.9 454.8L188.5 455.2L187.0 456.2L186.8 456.3L185.5 457.3L184.6 457.8L184.0 458.3L182.5 459.0L181.8 459.3L181.0 459.8L179.5 460.4L178.0 460.8L177.7 460.8L176.5 461.2L175.0 461.5L173.5 461.7L172.0 461.7L170.5 461.7L169.0 461.5L167.5 461.2L166.3 460.8L166.0 460.8L164.5 460.4L163.0 459.8L162.2 459.3L161.5 459.0L160.0 458.3L159.4 457.8L158.5 457.3L157.2 456.3L157.0 456.2L155.5 455.2L155.1 454.8L154.0 454.0L153.3 453.3L152.5 452.6L152.0 453.3L151.0 454.1L150.2 453.3L149.5 452.8L148.5 451.8L148.0 451.3L147.1 450.3L146.5 449.6L145.9 448.8L145.0 447.5L144.9 447.3L144.0 445.8L143.5 444.6L143.3 444.3L142.8 442.8L142.5 441.3L142.6 439.8L142.8 438.3L143.1 436.8L143.3 435.3L143.5 434.0L143.5 433.8L143.7 432.3L143.8 430.8L143.9 429.3L144.0 427.8L144.1 426.3L144.2 424.8L144.2 423.3L144.2 421.7L144.2 420.2L144.1 418.7L144.0 417.2L143.9 415.7L143.8 414.2L143.7 412.7L143.5 411.2L143.5 411.0L143.3 409.7L143.1 408.2L142.8 406.7L142.6 405.2L142.5 403.7L142.8 402.2L143.3 400.7L143.5 400.4L144.0 399.2L144.9 397.7L145.0 397.5L145.9 396.2L146.5 395.4L147.1 394.7L148.0 393.7L148.5 393.2L149.5 392.2L150.2 391.7L151.0 390.9L152.0 391.7L152.5 392.4L153.3 391.7L154.0 391.0L155.1 390.2L155.5 389.8L157.0 388.8L157.2 388.7L158.5 387.7L159.4 387.2L160.0 386.7L161.5 386.0L162.2 385.7L163.0 385.2L164.5 384.6L166.0 384.2Z"/>
<path fill="#1761e7" fill-rule="evenodd" d="M167.1 390.2L167.5 390.1L169.0 389.8L170.5 389.7L172.0 389.6L173.5 389.7L175.0 389.8L176.5 390.1L176.9 390.2L178.0 390.5L179.5 390.9L181.0 391.5L181.3 391.7L182.5 392.2L184.0 393.0L184.2 393.2L185.5 394.0L186.6 394.7L187.0 395.0L188.5 396.1L188.6 396.2L190.0 397.3L190.4 397.7L191.5 398.7L191.6 397.7L191.8 396.2L192.3 394.7L193.0 393.6L194.1 394.7L194.5 395.0L195.6 396.2L196.0 396.7L196.8 397.7L197.5 399.0L197.6 399.2L198.4 400.7L198.9 402.2L199.0 402.5L199.3 403.7L199.3 405.2L199.1 406.7L199.0 407.8L199.0 408.2L198.9 409.7L198.8 411.2L198.7 412.7L198.6 414.2L198.5 415.7L198.4 417.2L198.4 418.7L198.3 420.2L198.3 421.7L198.3 423.3L198.3 424.8L198.4 426.3L198.4 427.8L198.5 429.3L198.6 430.8L198.7 432.3L198.8 433.8L198.9 435.3L199.0 436.8L199.0 437.2L199.1 438.3L199.3 439.8L199.3 441.3L199.0 442.5L198.9 442.8L198.4 444.3L197.6 445.8L197.5 446.0L196.8 447.3L196.0 448.3L195.6 448.8L194.5 450.0L194.1 450.3L193.0 451.4L192.3 450.3L191.8 448.8L191.6 447.3L191.5 446.3L190.4 447.3L190.0 447.7L188.6 448.8L188.5 448.9L187.0 450.0L186.6 450.3L185.5 451.0L184.2 451.8L184.0 452.0L182.5 452.8L181.3 453.3L181.0 453.5L179.5 454.1L178.0 454.5L176.9 454.8L176.5 454.9L175.0 455.2L173.5 455.3L172.0 455.4L170.5 455.3L169.0 455.2L167.5 454.9L167.1 454.8L166.0 454.5L164.5 454.1L163.0 453.5L162.7 453.3L161.5 452.8L160.0 452.0L159.8 451.8L158.5 451.0L157.4 450.3L157.0 450.0L155.5 448.9L155.4 448.8L154.0 447.7L153.6 447.3L152.5 446.3L152.4 447.3L152.2 448.8L151.7 450.3L151.0 451.4L149.9 450.3L149.5 450.0L148.4 448.8L148.0 448.3L147.2 447.3L146.5 446.0L146.4 445.8L145.6 444.3L145.1 442.8L145.0 442.5L144.7 441.3L144.7 439.8L144.9 438.3L145.0 437.2L145.0 436.8L145.1 435.3L145.2 433.8L145.3 432.3L145.4 430.8L145.5 429.3L145.6 427.8L145.6 426.3L145.7 424.8L145.7 423.3L145.7 421.7L145.7 420.2L145.6 418.7L145.6 417.2L145.5 415.7L145.4 414.2L145.3 412.7L145.2 411.2L145.1 409.7L145.0 408.2L145.0 407.8L144.9 406.7L144.7 405.2L144.7 403.7L145.0 402.5L145.1 402.2L145.6 400.7L146.4 399.2L146.5 399.0L147.2 397.7L148.0 396.7L148.4 396.2L149.5 395.0L149.9 394.7L151.0 393.6L151.7 394.7L152.2 396.2L152.4 397.7L152.5 398.7L153.6 397.7L154.0 397.3L155.4 396.2L155.5 396.1L157.0 395.0L157.4 394.7L158.5 394.0L159.8 393.2L160.0 393.0L161.5 392.2L162.7 391.7L163.0 391.5L164.5 390.9L166.0 390.5Z"/>
<path fill="#1967e7" fill-rule="evenodd" d="M150.1 396.2L151.0 395.2L151.5 396.2L152.0 397.7L152.2 399.2L152.4 400.7L152.5 400.9L154.0 400.9L155.5 401.3L157.0 400.9L157.4 400.7L158.5 399.9L159.6 399.2L160.0 399.0L161.5 398.2L162.6 397.7L163.0 397.4L164.5 396.9L166.0 396.4L166.8 396.2L167.5 396.0L169.0 395.7L170.5 395.5L172.0 395.5L173.5 395.5L175.0 395.7L176.5 396.0L177.2 396.2L178.0 396.4L179.5 396.9L181.0 397.4L181.4 397.7L182.5 398.2L184.0 399.0L184.4 399.2L185.5 399.9L186.6 400.7L187.0 400.9L188.5 401.3L190.0 400.9L191.5 400.9L191.6 400.7L191.8 399.2L192.0 397.7L192.5 396.2L193.0 395.2L193.9 396.2L194.5 396.8L195.2 397.7L196.0 398.9L196.2 399.2L197.0 400.7L197.5 402.2L197.5 402.2L197.9 403.7L197.9 405.2L197.8 406.7L197.7 408.2L197.6 409.7L197.5 410.8L197.5 411.2L197.4 412.7L197.4 414.2L197.3 415.7L197.3 417.2L197.3 418.7L197.2 420.2L197.2 421.7L197.2 423.3L197.2 424.8L197.3 426.3L197.3 427.8L197.3 429.3L197.4 430.8L197.4 432.3L197.5 433.8L197.5 434.2L197.6 435.3L197.7 436.8L197.8 438.3L197.9 439.8L197.9 441.3L197.5 442.8L197.5 442.8L197.0 444.3L196.2 445.8L196.0 446.1L195.2 447.3L194.5 448.2L193.9 448.8L193.0 449.8L192.5 448.8L192.0 447.3L191.8 445.8L191.6 444.3L191.5 444.1L190.0 444.1L188.5 443.7L187.0 444.1L186.6 444.3L185.5 445.1L184.4 445.8L184.0 446.0L182.5 446.8L181.4 447.3L181.0 447.6L179.5 448.1L178.0 448.6L177.2 448.8L176.5 449.0L175.0 449.3L173.5 449.5L172.0 449.5L170.5 449.5L169.0 449.3L167.5 449.0L166.8 448.8L166.0 448.6L164.5 448.1L163.0 447.6L162.6 447.3L161.5 446.8L160.0 446.0L159.6 445.8L158.5 445.1L157.4 444.3L157.0 444.1L155.5 443.7L154.0 444.1L152.5 444.1L152.4 444.3L152.2 445.8L152.0 447.3L151.5 448.8L151.0 449.8L150.1 448.8L149.5 448.2L148.8 447.3L148.0 446.1L147.8 445.8L147.0 444.3L146.5 442.8L146.5 442.8L146.1 441.3L146.1 439.8L146.2 438.3L146.3 436.8L146.4 435.3L146.5 434.2L146.5 433.8L146.6 432.3L146.6 430.8L146.7 429.3L146.7 427.8L146.7 426.3L146.8 424.8L146.8 423.3L146.8 421.7L146.8 420.2L146.7 418.7L146.7 417.2L146.7 415.7L146.6 414.2L146.6 412.7L146.5 411.2L146.5 410.8L146.4 409.7L146.3 408.2L146.2 406.7L146.1 405.2L146.1 403.7L146.5 402.2L146.5 402.2L147.0 400.7L147.8 399.2L148.0 398.9L148.8 397.7L149.5 396.8Z"/>
<path fill="#1c6de7" fill-rule="evenodd" d="M149.9 397.7L151.0 396.5L151.5 397.7L151.9 399.2L152.1 400.7L152.5 401.3L154.0 401.6L154.9 402.2L155.5 402.7L156.8 403.7L157.0 403.7L158.5 403.7L159.0 403.7L160.0 403.1L161.5 402.3L161.7 402.2L163.0 401.6L164.5 401.0L165.4 400.7L166.0 400.5L167.5 400.1L169.0 399.9L170.5 399.7L172.0 399.7L173.5 399.7L175.0 399.9L176.5 400.1L178.0 400.5L178.6 400.7L179.5 401.0L181.0 401.6L182.3 402.2L182.5 402.3L184.0 403.1L185.0 403.7L185.5 403.7L187.0 403.7L187.2 403.7L188.5 402.7L189.1 402.2L190.0 401.6L191.5 401.3L191.9 400.7L192.1 399.2L192.5 397.7L193.0 396.5L194.1 397.7L194.5 398.3L195.1 399.2L195.9 400.7L196.0 401.1L196.5 402.2L196.9 403.7L196.9 405.2L196.8 406.7L196.7 408.2L196.6 409.7L196.6 411.2L196.5 412.7L196.5 414.2L196.4 415.7L196.4 417.2L196.4 418.7L196.4 420.2L196.4 421.7L196.4 423.3L196.4 424.8L196.4 426.3L196.4 427.8L196.4 429.3L196.5 430.8L196.5 432.3L196.6 433.8L196.6 435.3L196.7 436.8L196.8 438.3L196.9 439.8L196.9 441.3L196.5 442.8L196.0 443.9L195.9 444.3L195.1 445.8L194.5 446.7L194.1 447.3L193.0 448.5L192.5 447.3L192.1 445.8L191.9 444.3L191.5 443.7L190.0 443.4L189.1 442.8L188.5 442.3L187.2 441.3L187.0 441.3L185.5 441.3L185.0 441.3L184.0 441.9L182.5 442.7L182.3 442.8L181.0 443.4L179.5 444.0L178.6 444.3L178.0 444.5L176.5 444.9L175.0 445.1L173.5 445.3L172.0 445.3L170.5 445.3L169.0 445.1L167.5 444.9L166.0 444.5L165.4 444.3L164.5 444.0L163.0 443.4L161.7 442.8L161.5 442.7L160.0 441.9L159.0 441.3L158.5 441.3L157.0 441.3L156.8 441.3L155.5 442.3L154.9 442.8L154.0 443.4L152.5 443.7L152.1 444.3L151.9 445.8L151.5 447.3L151.0 448.5L149.9 447.3L149.5 446.7L148.9 445.8L148.1 444.3L148.0 443.9L147.5 442.8L147.1 441.3L147.1 439.8L147.2 438.3L147.3 436.8L147.4 435.3L147.4 433.8L147.5 432.3L147.5 430.8L147.6 429.3L147.6 427.8L147.6 426.3L147.6 424.8L147.6 423.3L147.6 421.7L147.6 420.2L147.6 418.7L147.6 417.2L147.6 415.7L147.5 414.2L147.5 412.7L147.4 411.2L147.4 409.7L147.3 408.2L147.2 406.7L147.1 405.2L147.1 403.7L147.5 402.2L148.0 401.1L148.1 400.7L148.9 399.2L149.5 398.3Z"/>
<path fill="#1e72e5" fill-rule="evenodd" d="M150.9 397.7L151.0 397.6L151.0 397.7L151.5 399.2L151.9 400.7L152.5 401.6L153.9 402.2L154.0 402.2L155.5 403.5L155.8 403.7L157.0 403.8L158.5 403.8L160.0 403.8L161.5 403.8L163.0 403.8L164.5 403.7L166.0 403.7L167.5 403.7L169.0 403.7L170.5 403.7L172.0 403.7L173.5 403.7L175.0 403.7L176.5 403.7L178.0 403.7L179.5 403.7L181.0 403.8L182.5 403.8L184.0 403.8L185.5 403.8L187.0 403.8L188.2 403.7L188.5 403.5L190.0 402.2L190.1 402.2L191.5 401.6L192.1 400.7L192.5 399.2L193.0 397.7L193.0 397.6L193.1 397.7L194.2 399.2L194.5 399.8L195.0 400.7L195.7 402.2L196.0 403.7L196.0 404.3L196.0 405.2L196.0 405.6L195.9 406.7L195.8 408.2L195.8 409.7L195.8 411.2L195.7 412.7L195.7 414.2L195.7 415.7L195.7 417.2L195.7 418.7L195.6 420.2L195.6 421.7L195.6 423.3L195.6 424.8L195.7 426.3L195.7 427.8L195.7 429.3L195.7 430.8L195.7 432.3L195.8 433.8L195.8 435.3L195.8 436.8L195.9 438.3L196.0 439.4L196.0 439.8L196.0 440.7L196.0 441.3L195.7 442.8L195.0 444.3L194.5 445.2L194.2 445.8L193.1 447.3L193.0 447.4L193.0 447.3L192.5 445.8L192.1 444.3L191.5 443.4L190.1 442.8L190.0 442.8L188.5 441.5L188.2 441.3L187.0 441.2L185.5 441.2L184.0 441.2L182.5 441.2L181.0 441.2L179.5 441.3L178.0 441.3L176.5 441.3L175.0 441.3L173.5 441.3L172.0 441.3L170.5 441.3L169.0 441.3L167.5 441.3L166.0 441.3L164.5 441.3L163.0 441.2L161.5 441.2L160.0 441.2L158.5 441.2L157.0 441.2L155.8 441.3L155.5 441.5L154.0 442.8L153.9 442.8L152.5 443.4L151.9 444.3L151.5 445.8L151.0 447.3L151.0 447.4L150.9 447.3L149.8 445.8L149.5 445.2L149.0 444.3L148.3 442.8L148.0 441.3L148.0 440.7L148.0 439.8L148.0 439.4L148.1 438.3L148.2 436.8L148.2 435.3L148.2 433.8L148.3 432.3L148.3 430.8L148.3 429.3L148.3 427.8L148.3 426.3L148.4 424.8L148.4 423.3L148.4 421.7L148.4 420.2L148.3 418.7L148.3 417.2L148.3 415.7L148.3 414.2L148.3 412.7L148.2 411.2L148.2 409.7L148.2 408.2L148.1 406.7L148.0 405.6L148.0 405.2L148.0 404.3L148.0 403.7L148.3 402.2L149.0 400.7L149.5 399.8L149.8 399.2Z"/>
<path fill="#2078e4" fill-rule="evenodd" d="M150.5 399.2L151.0 398.6L151.2 399.2L151.6 400.7L152.5 402.0L153.0 402.2L154.0 402.4L155.4 403.7L155.5 403.7L157.0 403.8L158.5 403.8L160.0 403.9L161.5 403.9L163.0 403.9L164.5 403.9L166.0 403.8L167.5 403.8L169.0 403.8L170.5 403.8L172.0 403.8L173.5 403.8L175.0 403.8L176.5 403.8L178.0 403.8L179.5 403.9L181.0 403.9L182.5 403.9L184.0 403.9L185.5 403.8L187.0 403.8L188.5 403.7L188.6 403.7L190.0 402.4L191.0 402.2L191.5 402.0L192.4 400.7L192.8 399.2L193.0 398.6L193.5 399.2L194.3 400.7L194.5 401.1L195.1 402.2L195.7 403.7L195.7 405.2L195.5 406.7L195.2 408.2L195.1 409.7L195.1 411.2L195.1 412.7L195.1 414.2L195.0 415.7L195.0 417.2L195.0 418.7L195.0 420.2L195.0 421.7L195.0 423.3L195.0 424.8L195.0 426.3L195.0 427.8L195.0 429.3L195.1 430.8L195.1 432.3L195.1 433.8L195.1 435.3L195.2 436.8L195.5 438.3L195.7 439.8L195.7 441.3L195.1 442.8L194.5 443.9L194.3 444.3L193.5 445.8L193.0 446.4L192.8 445.8L192.4 444.3L191.5 443.0L191.0 442.8L190.0 442.6L188.6 441.3L188.5 441.3L187.0 441.2L185.5 441.2L184.0 441.1L182.5 441.1L181.0 441.1L179.5 441.1L178.0 441.2L176.5 441.2L175.0 441.2L173.5 441.2L172.0 441.2L170.5 441.2L169.0 441.2L167.5 441.2L166.0 441.2L164.5 441.1L163.0 441.1L161.5 441.1L160.0 441.1L158.5 441.2L157.0 441.2L155.5 441.3L155.4 441.3L154.0 442.6L153.0 442.8L152.5 443.0L151.6 444.3L151.2 445.8L151.0 446.4L150.5 445.8L149.7 444.3L149.5 443.9L148.9 442.8L148.3 441.3L148.3 439.8L148.5 438.3L148.8 436.8L148.9 435.3L148.9 433.8L148.9 432.3L148.9 430.8L149.0 429.3L149.0 427.8L149.0 426.3L149.0 424.8L149.0 423.3L149.0 421.7L149.0 420.2L149.0 418.7L149.0 417.2L149.0 415.7L148.9 414.2L148.9 412.7L148.9 411.2L148.9 409.7L148.8 408.2L148.5 406.7L148.3 405.2L148.3 403.7L148.9 402.2L149.5 401.1L149.7 400.7Z"/>
<path fill="#1f7ee2" fill-rule="evenodd" d="M150.3 400.7L151.0 399.5L151.3 400.7L152.4 402.2L152.5 402.2L154.0 402.5L155.2 403.7L155.5 403.8L157.0 403.9L158.5 403.9L160.0 403.9L161.5 403.9L163.0 404.0L164.5 404.0L166.0 404.0L167.5 404.0L169.0 404.0L170.5 404.0L172.0 404.0L173.5 404.0L175.0 404.0L176.5 404.0L178.0 404.0L179.5 404.0L181.0 404.0L182.5 403.9L184.0 403.9L185.5 403.9L187.0 403.9L188.5 403.8L188.8 403.7L190.0 402.5L191.5 402.2L191.6 402.2L192.7 400.7L193.0 399.5L193.7 400.7L194.5 402.2L194.5 402.2L195.3 403.7L195.5 405.2L195.1 406.7L194.6 408.2L194.5 409.1L194.5 409.7L194.5 411.2L194.5 412.7L194.4 414.2L194.4 415.7L194.4 417.2L194.4 418.7L194.4 420.2L194.4 421.7L194.4 423.3L194.4 424.8L194.4 426.3L194.4 427.8L194.4 429.3L194.4 430.8L194.5 432.3L194.5 433.8L194.5 435.3L194.5 435.9L194.6 436.8L195.1 438.3L195.5 439.8L195.3 441.3L194.5 442.8L194.5 442.8L193.7 444.3L193.0 445.5L192.7 444.3L191.6 442.8L191.5 442.8L190.0 442.5L188.8 441.3L188.5 441.2L187.0 441.1L185.5 441.1L184.0 441.1L182.5 441.1L181.0 441.0L179.5 441.0L178.0 441.0L176.5 441.0L175.0 441.0L173.5 441.0L172.0 441.0L170.5 441.0L169.0 441.0L167.5 441.0L166.0 441.0L164.5 441.0L163.0 441.0L161.5 441.1L160.0 441.1L158.5 441.1L157.0 441.1L155.5 441.2L155.2 441.3L154.0 442.5L152.5 442.8L152.4 442.8L151.3 444.3L151.0 445.5L150.3 444.3L149.5 442.8L149.5 442.8L148.7 441.3L148.5 439.8L148.9 438.3L149.4 436.8L149.5 435.9L149.5 435.3L149.5 433.8L149.5 432.3L149.6 430.8L149.6 429.3L149.6 427.8L149.6 426.3L149.6 424.8L149.6 423.3L149.6 421.7L149.6 420.2L149.6 418.7L149.6 417.2L149.6 415.7L149.6 414.2L149.5 412.7L149.5 411.2L149.5 409.7L149.5 409.1L149.4 408.2L148.9 406.7L148.5 405.2L148.7 403.7L149.5 402.2L149.5 402.2Z"/>
<path fill="#1c84df" fill-rule="evenodd" d="M150.9 400.7L151.0 400.5L151.1 400.7L152.1 402.2L152.5 402.3L154.0 402.7L155.0 403.7L155.5 403.8L157.0 403.9L158.5 404.0L160.0 404.0L161.5 404.0L163.0 404.1L164.5 404.1L166.0 404.1L167.5 404.1L169.0 404.1L170.5 404.1L172.0 404.1L173.5 404.1L175.0 404.1L176.5 404.1L178.0 404.1L179.5 404.1L181.0 404.1L182.5 404.0L184.0 404.0L185.5 404.0L187.0 403.9L188.5 403.8L189.0 403.7L190.0 402.7L191.5 402.3L191.9 402.2L192.9 400.7L193.0 400.5L193.1 400.7L194.2 402.2L194.5 402.8L195.0 403.7L195.2 405.2L194.6 406.7L194.5 407.0L194.1 408.2L194.0 409.7L194.0 411.2L194.0 412.7L194.0 414.2L194.0 415.7L194.0 417.2L194.0 418.7L194.0 420.2L194.0 421.7L194.0 423.3L194.0 424.8L194.0 426.3L194.0 427.8L194.0 429.3L194.0 430.8L194.0 432.3L194.0 433.8L194.0 435.3L194.1 436.8L194.5 438.0L194.6 438.3L195.2 439.8L195.0 441.3L194.5 442.2L194.2 442.8L193.1 444.3L193.0 444.5L192.9 444.3L191.9 442.8L191.5 442.7L190.0 442.3L189.0 441.3L188.5 441.2L187.0 441.1L185.5 441.0L184.0 441.0L182.5 441.0L181.0 440.9L179.5 440.9L178.0 440.9L176.5 440.9L175.0 440.9L173.5 440.9L172.0 440.9L170.5 440.9L169.0 440.9L167.5 440.9L166.0 440.9L164.5 440.9L163.0 440.9L161.5 441.0L160.0 441.0L158.5 441.0L157.0 441.1L155.5 441.2L155.0 441.3L154.0 442.3L152.5 442.7L152.1 442.8L151.1 444.3L151.0 444.5L150.9 444.3L149.8 442.8L149.5 442.2L149.0 441.3L148.8 439.8L149.4 438.3L149.5 438.0L149.9 436.8L150.0 435.3L150.0 433.8L150.0 432.3L150.0 430.8L150.0 429.3L150.0 427.8L150.0 426.3L150.0 424.8L150.0 423.3L150.0 421.7L150.0 420.2L150.0 418.7L150.0 417.2L150.0 415.7L150.0 414.2L150.0 412.7L150.0 411.2L150.0 409.7L149.9 408.2L149.5 407.0L149.4 406.7L148.8 405.2L149.0 403.7L149.5 402.8L149.8 402.2Z"/>
<path fill="#1a8ade" fill-rule="evenodd" d="M150.1 402.2L151.0 401.0L151.8 402.2L152.5 402.4L154.0 402.9L154.9 403.7L155.5 403.9L157.0 404.0L158.5 404.0L160.0 404.1L161.5 404.1L163.0 404.2L164.5 404.2L166.0 404.2L167.5 404.2L169.0 404.2L170.5 404.2L172.0 404.2L173.5 404.2L175.0 404.2L176.5 404.2L178.0 404.2L179.5 404.2L181.0 404.2L182.5 404.1L184.0 404.1L185.5 404.0L187.0 404.0L188.5 403.9L189.1 403.7L190.0 402.9L191.5 402.4L192.2 402.2L193.0 401.0L193.9 402.2L194.5 403.4L194.7 403.7L194.9 405.2L194.5 406.2L194.4 406.7L193.7 408.2L193.5 409.7L193.5 411.2L193.5 412.7L193.5 414.2L193.5 415.7L193.5 417.2L193.5 418.7L193.5 420.2L193.5 421.7L193.5 423.3L193.5 424.8L193.5 426.3L193.5 427.8L193.5 429.3L193.5 430.8L193.5 432.3L193.5 433.8L193.5 435.3L193.7 436.8L194.4 438.3L194.5 438.8L194.9 439.8L194.7 441.3L194.5 441.6L193.9 442.8L193.0 444.0L192.2 442.8L191.5 442.6L190.0 442.1L189.1 441.3L188.5 441.1L187.0 441.0L185.5 441.0L184.0 440.9L182.5 440.9L181.0 440.8L179.5 440.8L178.0 440.8L176.5 440.8L175.0 440.8L173.5 440.8L172.0 440.8L170.5 440.8L169.0 440.8L167.5 440.8L166.0 440.8L164.5 440.8L163.0 440.8L161.5 440.9L160.0 440.9L158.5 441.0L157.0 441.0L155.5 441.1L154.9 441.3L154.0 442.1L152.5 442.6L151.8 442.8L151.0 444.0L150.1 442.8L149.5 441.6L149.3 441.3L149.1 439.8L149.5 438.8L149.6 438.3L150.3 436.8L150.5 435.3L150.5 433.8L150.5 432.3L150.5 430.8L150.5 429.3L150.5 427.8L150.5 426.3L150.5 424.8L150.5 423.3L150.5 421.7L150.5 420.2L150.5 418.7L150.5 417.2L150.5 415.7L150.5 414.2L150.5 412.7L150.5 411.2L150.5 409.7L150.3 408.2L149.6 406.7L149.5 406.2L149.1 405.2L149.3 403.7L149.5 403.4Z"/>
<path fill="#1691dc" fill-rule="evenodd" d="M150.5 402.2L151.0 401.5L151.5 402.2L152.5 402.5L154.0 403.0L154.7 403.7L155.5 403.9L157.0 404.0L158.5 404.1L160.0 404.2L161.5 404.2L163.0 404.3L164.5 404.3L166.0 404.3L167.5 404.3L169.0 404.3L170.5 404.3L172.0 404.3L173.5 404.3L175.0 404.3L176.5 404.3L178.0 404.3L179.5 404.3L181.0 404.3L182.5 404.2L184.0 404.2L185.5 404.1L187.0 404.0L188.5 403.9L189.3 403.7L190.0 403.0L191.5 402.5L192.5 402.2L193.0 401.5L193.5 402.2L194.4 403.7L194.5 404.5L194.6 405.2L194.5 405.5L194.2 406.7L193.3 408.2L193.0 409.7L193.0 411.2L193.0 412.7L193.0 414.2L193.0 415.7L193.0 417.2L193.0 418.7L193.0 420.2L193.0 421.7L193.0 423.3L193.0 424.8L193.0 426.3L193.0 427.8L193.0 429.3L193.0 430.8L193.0 432.3L193.0 433.8L193.0 435.3L193.3 436.8L194.2 438.3L194.5 439.5L194.6 439.8L194.5 440.5L194.4 441.3L193.5 442.8L193.0 443.5L192.5 442.8L191.5 442.5L190.0 442.0L189.3 441.3L188.5 441.1L187.0 441.0L185.5 440.9L184.0 440.8L182.5 440.8L181.0 440.7L179.5 440.7L178.0 440.7L176.5 440.7L175.0 440.7L173.5 440.7L172.0 440.7L170.5 440.7L169.0 440.7L167.5 440.7L166.0 440.7L164.5 440.7L163.0 440.7L161.5 440.8L160.0 440.8L158.5 440.9L157.0 441.0L155.5 441.1L154.7 441.3L154.0 442.0L152.5 442.5L151.5 442.8L151.0 443.5L150.5 442.8L149.6 441.3L149.5 440.5L149.4 439.8L149.5 439.5L149.8 438.3L150.7 436.8L151.0 435.3L151.0 433.8L151.0 432.3L151.0 430.8L151.0 429.3L151.0 427.8L151.0 426.3L151.0 424.8L151.0 423.3L151.0 421.7L151.0 420.2L151.0 418.7L151.0 417.2L151.0 415.7L151.0 414.2L151.0 412.7L151.0 411.2L151.0 409.7L150.7 408.2L149.8 406.7L149.5 405.5L149.4 405.2L149.5 404.5L149.6 403.7Z"/>
<path fill="#1397da" fill-rule="evenodd" d="M150.8 402.2L151.0 401.9L151.2 402.2L152.5 402.6L154.0 403.2L154.5 403.7L155.5 403.9L157.0 404.1L158.5 404.2L160.0 404.3L161.5 404.3L163.0 404.4L164.5 404.4L166.0 404.4L167.5 404.4L169.0 404.4L170.5 404.4L172.0 404.5L173.5 404.4L175.0 404.4L176.5 404.4L178.0 404.4L179.5 404.4L181.0 404.4L182.5 404.3L184.0 404.3L185.5 404.2L187.0 404.1L188.5 403.9L189.5 403.7L190.0 403.2L191.5 402.6L192.8 402.2L193.0 401.9L193.2 402.2L194.3 403.7L194.5 405.2L194.0 406.7L193.0 408.1L193.0 408.2L193.0 409.7L193.0 411.2L193.0 412.7L193.0 414.2L193.0 415.7L193.0 417.2L193.0 418.7L193.0 420.2L193.0 421.7L193.0 423.3L193.0 424.8L193.0 426.3L193.0 427.8L193.0 429.3L193.0 430.8L193.0 432.3L193.0 433.8L193.0 435.3L193.0 436.8L193.0 436.9L194.0 438.3L194.5 439.8L194.3 441.3L193.2 442.8L193.0 443.1L192.8 442.8L191.5 442.4L190.0 441.8L189.5 441.3L188.5 441.1L187.0 440.9L185.5 440.8L184.0 440.7L182.5 440.7L181.0 440.6L179.5 440.6L178.0 440.6L176.5 440.6L175.0 440.6L173.5 440.6L172.0 440.5L170.5 440.6L169.0 440.6L167.5 440.6L166.0 440.6L164.5 440.6L163.0 440.6L161.5 440.7L160.0 440.7L158.5 440.8L157.0 440.9L155.5 441.1L154.5 441.3L154.0 441.8L152.5 442.4L151.2 442.8L151.0 443.1L150.8 442.8L149.7 441.3L149.5 439.8L150.0 438.3L151.0 436.9L151.0 436.8L151.0 435.3L151.0 433.8L151.0 432.3L151.0 430.8L151.0 429.3L151.0 427.8L151.0 426.3L151.0 424.8L151.0 423.3L151.0 421.7L151.0 420.2L151.0 418.7L151.0 417.2L151.0 415.7L151.0 414.2L151.0 412.7L151.0 411.2L151.0 409.7L151.0 408.2L151.0 408.1L150.0 406.7L149.5 405.2L149.7 403.7Z"/>
<path fill="#109cd7" fill-rule="evenodd" d="M149.8 403.7L151.0 402.2L152.5 402.7L154.0 403.4L154.4 403.7L155.5 404.0L157.0 404.1L158.5 404.2L160.0 404.3L161.5 404.4L163.0 404.5L164.5 404.5L166.0 404.5L167.5 404.5L169.0 404.6L170.5 404.6L172.0 404.6L173.5 404.6L175.0 404.6L176.5 404.5L178.0 404.5L179.5 404.5L181.0 404.5L182.5 404.4L184.0 404.3L185.5 404.2L187.0 404.1L188.5 404.0L189.6 403.7L190.0 403.4L191.5 402.7L193.0 402.2L194.2 403.7L194.4 405.2L193.8 406.7L193.0 407.9L192.9 408.2L192.9 409.7L192.9 411.2L192.9 412.7L192.9 414.2L192.9 415.7L192.9 417.2L192.9 418.7L192.9 420.2L192.9 421.7L192.9 423.3L192.9 424.8L192.9 426.3L192.9 427.8L192.9 429.3L192.9 430.8L192.9 432.3L192.9 433.8L192.9 435.3L192.9 436.8L193.0 437.1L193.8 438.3L194.4 439.8L194.2 441.3L193.0 442.8L191.5 442.3L190.0 441.6L189.6 441.3L188.5 441.0L187.0 440.9L185.5 440.8L184.0 440.7L182.5 440.6L181.0 440.5L179.5 440.5L178.0 440.5L176.5 440.5L175.0 440.4L173.5 440.4L172.0 440.4L170.5 440.4L169.0 440.4L167.5 440.5L166.0 440.5L164.5 440.5L163.0 440.5L161.5 440.6L160.0 440.7L158.5 440.8L157.0 440.9L155.5 441.0L154.4 441.3L154.0 441.6L152.5 442.3L151.0 442.8L149.8 441.3L149.6 439.8L150.2 438.3L151.0 437.1L151.1 436.8L151.1 435.3L151.1 433.8L151.1 432.3L151.1 430.8L151.1 429.3L151.1 427.8L151.1 426.3L151.1 424.8L151.1 423.3L151.1 421.7L151.1 420.2L151.1 418.7L151.1 417.2L151.1 415.7L151.1 414.2L151.1 412.7L151.1 411.2L151.1 409.7L151.1 408.2L151.0 407.9L150.2 406.7L149.6 405.2Z"/>
<path fill="#0fa1d3" fill-rule="evenodd" d="M149.9 403.7L151.0 402.4L152.5 402.8L154.0 403.5L154.2 403.7L155.5 404.0L157.0 404.2L158.5 404.3L160.0 404.4L161.5 404.5L163.0 404.6L164.5 404.6L166.0 404.6L167.5 404.7L169.0 404.7L170.5 404.7L172.0 404.7L173.5 404.7L175.0 404.7L176.5 404.7L178.0 404.6L179.5 404.6L181.0 404.6L182.5 404.5L184.0 404.4L185.5 404.3L187.0 404.2L188.5 404.0L189.8 403.7L190.0 403.5L191.5 402.8L193.0 402.4L194.1 403.7L194.3 405.2L193.6 406.7L193.0 407.6L192.9 408.2L192.9 409.7L192.9 411.2L192.9 412.7L192.9 414.2L192.9 415.7L192.9 417.2L192.9 418.7L192.9 420.2L192.9 421.7L192.9 423.3L192.9 424.8L192.9 426.3L192.9 427.8L192.9 429.3L192.9 430.8L192.9 432.3L192.9 433.8L192.9 435.3L192.9 436.8L193.0 437.4L193.6 438.3L194.3 439.8L194.1 441.3L193.0 442.6L191.5 442.2L190.0 441.5L189.8 441.3L188.5 441.0L187.0 440.8L185.5 440.7L184.0 440.6L182.5 440.5L181.0 440.4L179.5 440.4L178.0 440.4L176.5 440.3L175.0 440.3L173.5 440.3L172.0 440.3L170.5 440.3L169.0 440.3L167.5 440.3L166.0 440.4L164.5 440.4L163.0 440.4L161.5 440.5L160.0 440.6L158.5 440.7L157.0 440.8L155.5 441.0L154.2 441.3L154.0 441.5L152.5 442.2L151.0 442.6L149.9 441.3L149.7 439.8L150.4 438.3L151.0 437.4L151.1 436.8L151.1 435.3L151.1 433.8L151.1 432.3L151.1 430.8L151.1 429.3L151.1 427.8L151.1 426.3L151.1 424.8L151.1 423.3L151.1 421.7L151.1 420.2L151.1 418.7L151.1 417.2L151.1 415.7L151.1 414.2L151.1 412.7L151.1 411.2L151.1 409.7L151.1 408.2L151.0 407.6L150.4 406.7L149.7 405.2Z"/>
<path fill="#0ea6cf" fill-rule="evenodd" d="M150.0 403.7L151.0 402.5L152.5 402.9L154.0 403.7L154.0 403.7L155.5 404.1L157.0 404.2L158.5 404.4L160.0 404.5L161.5 404.6L163.0 404.7L164.5 404.7L166.0 404.8L167.5 404.8L169.0 404.8L170.5 404.8L172.0 404.8L173.5 404.8L175.0 404.8L176.5 404.8L178.0 404.8L179.5 404.7L181.0 404.7L182.5 404.6L184.0 404.5L185.5 404.4L187.0 404.2L188.5 404.1L190.0 403.7L190.0 403.7L191.5 402.9L193.0 402.5L194.0 403.7L194.2 405.2L193.4 406.7L193.0 407.4L192.9 408.2L192.8 409.7L192.8 411.2L192.8 412.7L192.8 414.2L192.8 415.7L192.8 417.2L192.8 418.7L192.8 420.2L192.8 421.7L192.8 423.3L192.8 424.8L192.8 426.3L192.8 427.8L192.8 429.3L192.8 430.8L192.8 432.3L192.8 433.8L192.8 435.3L192.9 436.8L193.0 437.6L193.4 438.3L194.2 439.8L194.0 441.3L193.0 442.5L191.5 442.1L190.0 441.3L190.0 441.3L188.5 440.9L187.0 440.8L185.5 440.6L184.0 440.5L182.5 440.4L181.0 440.3L179.5 440.3L178.0 440.2L176.5 440.2L175.0 440.2L173.5 440.2L172.0 440.2L170.5 440.2L169.0 440.2L167.5 440.2L166.0 440.2L164.5 440.3L163.0 440.3L161.5 440.4L160.0 440.5L158.5 440.6L157.0 440.8L155.5 440.9L154.0 441.3L154.0 441.3L152.5 442.1L151.0 442.5L150.0 441.3L149.8 439.8L150.6 438.3L151.0 437.6L151.1 436.8L151.2 435.3L151.2 433.8L151.2 432.3L151.2 430.8L151.2 429.3L151.2 427.8L151.2 426.3L151.2 424.8L151.2 423.3L151.2 421.7L151.2 420.2L151.2 418.7L151.2 417.2L151.2 415.7L151.2 414.2L151.2 412.7L151.2 411.2L151.2 409.7L151.1 408.2L151.0 407.4L150.6 406.7L149.8 405.2Z"/>
<path fill="#0daaca" fill-rule="evenodd" d="M150.1 403.7L151.0 402.6L152.5 402.9L153.9 403.7L154.0 403.8L155.5 404.1L157.0 404.3L158.5 404.4L160.0 404.6L161.5 404.7L163.0 404.8L164.5 404.8L166.0 404.9L167.5 404.9L169.0 404.9L170.5 404.9L172.0 404.9L173.5 404.9L175.0 404.9L176.5 404.9L178.0 404.9L179.5 404.8L181.0 404.8L182.5 404.7L184.0 404.6L185.5 404.4L187.0 404.3L188.5 404.1L190.0 403.8L190.1 403.7L191.5 402.9L193.0 402.6L193.9 403.7L194.1 405.2L193.3 406.7L193.0 407.1L192.8 408.2L192.8 409.7L192.8 411.2L192.8 412.7L192.8 414.2L192.8 415.7L192.8 417.2L192.8 418.7L192.8 420.2L192.8 421.7L192.8 423.3L192.8 424.8L192.8 426.3L192.8 427.8L192.8 429.3L192.8 430.8L192.8 432.3L192.8 433.8L192.8 435.3L192.8 436.8L193.0 437.9L193.3 438.3L194.1 439.8L193.9 441.3L193.0 442.4L191.5 442.1L190.1 441.3L190.0 441.2L188.5 440.9L187.0 440.7L185.5 440.6L184.0 440.4L182.5 440.3L181.0 440.2L179.5 440.2L178.0 440.1L176.5 440.1L175.0 440.1L173.5 440.1L172.0 440.1L170.5 440.1L169.0 440.1L167.5 440.1L166.0 440.1L164.5 440.2L163.0 440.2L161.5 440.3L160.0 440.4L158.5 440.6L157.0 440.7L155.5 440.9L154.0 441.2L153.9 441.3L152.5 442.1L151.0 442.4L150.1 441.3L149.9 439.8L150.7 438.3L151.0 437.9L151.2 436.8L151.2 435.3L151.2 433.8L151.2 432.3L151.2 430.8L151.2 429.3L151.2 427.8L151.2 426.3L151.2 424.8L151.2 423.3L151.2 421.7L151.2 420.2L151.2 418.7L151.2 417.2L151.2 415.7L151.2 414.2L151.2 412.7L151.2 411.2L151.2 409.7L151.2 408.2L151.0 407.1L150.7 406.7L149.9 405.2Z"/>
<path fill="#0faec4" fill-rule="evenodd" d="M150.2 403.7L151.0 402.8L152.5 403.0L153.7 403.7L154.0 403.8L155.5 404.1L157.0 404.4L158.5 404.5L160.0 404.6L161.5 404.8L163.0 404.9L164.5 404.9L166.0 405.0L167.5 405.0L169.0 405.0L170.5 405.1L172.0 405.1L173.5 405.1L175.0 405.0L176.5 405.0L178.0 405.0L179.5 404.9L181.0 404.9L182.5 404.8L184.0 404.6L185.5 404.5L187.0 404.4L188.5 404.1L190.0 403.8L190.3 403.7L191.5 403.0L193.0 402.8L193.8 403.7L194.0 405.2L193.1 406.7L193.0 406.8L192.8 408.2L192.7 409.7L192.7 411.2L192.7 412.7L192.7 414.2L192.7 415.7L192.7 417.2L192.7 418.7L192.7 420.2L192.7 421.7L192.7 423.3L192.7 424.8L192.7 426.3L192.7 427.8L192.7 429.3L192.7 430.8L192.7 432.3L192.7 433.8L192.7 435.3L192.8 436.8L193.0 438.2L193.1 438.3L194.0 439.8L193.8 441.3L193.0 442.2L191.5 442.0L190.3 441.3L190.0 441.2L188.5 440.9L187.0 440.6L185.5 440.5L184.0 440.4L182.5 440.2L181.0 440.1L179.5 440.1L178.0 440.0L176.5 440.0L175.0 440.0L173.5 439.9L172.0 439.9L170.5 439.9L169.0 440.0L167.5 440.0L166.0 440.0L164.5 440.1L163.0 440.1L161.5 440.2L160.0 440.4L158.5 440.5L157.0 440.6L155.5 440.9L154.0 441.2L153.7 441.3L152.5 442.0L151.0 442.2L150.2 441.3L150.0 439.8L150.9 438.3L151.0 438.2L151.2 436.8L151.3 435.3L151.3 433.8L151.3 432.3L151.3 430.8L151.3 429.3L151.3 427.8L151.3 426.3L151.3 424.8L151.3 423.3L151.3 421.7L151.3 420.2L151.3 418.7L151.3 417.2L151.3 415.7L151.3 414.2L151.3 412.7L151.3 411.2L151.3 409.7L151.2 408.2L151.0 406.8L150.9 406.7L150.0 405.2Z"/>
<path fill="#11b1be" fill-rule="evenodd" d="M150.3 403.7L151.0 402.9L152.5 403.1L153.5 403.7L154.0 403.8L155.5 404.2L157.0 404.4L158.5 404.6L160.0 404.7L161.5 404.9L163.0 405.0L164.5 405.0L166.0 405.1L167.5 405.1L169.0 405.2L170.5 405.2L172.0 405.2L173.5 405.2L175.0 405.2L176.5 405.1L178.0 405.1L179.5 405.0L181.0 405.0L182.5 404.9L184.0 404.7L185.5 404.6L187.0 404.4L188.5 404.2L190.0 403.8L190.5 403.7L191.5 403.1L193.0 402.9L193.7 403.7L193.9 405.2L193.0 406.6L193.0 406.7L192.7 408.2L192.7 409.7L192.7 411.2L192.7 412.7L192.7 414.2L192.7 415.7L192.7 417.2L192.7 418.7L192.7 420.2L192.7 421.7L192.7 423.3L192.7 424.8L192.7 426.3L192.7 427.8L192.7 429.3L192.7 430.8L192.7 432.3L192.7 433.8L192.7 435.3L192.7 436.8L193.0 438.3L193.0 438.4L193.9 439.8L193.7 441.3L193.0 442.1L191.5 441.9L190.5 441.3L190.0 441.2L188.5 440.8L187.0 440.6L185.5 440.4L184.0 440.3L182.5 440.1L181.0 440.0L179.5 440.0L178.0 439.9L176.5 439.9L175.0 439.8L173.5 439.8L172.0 439.8L170.5 439.8L169.0 439.8L167.5 439.9L166.0 439.9L164.5 440.0L163.0 440.0L161.5 440.1L160.0 440.3L158.5 440.4L157.0 440.6L155.5 440.8L154.0 441.2L153.5 441.3L152.5 441.9L151.0 442.1L150.3 441.3L150.1 439.8L151.0 438.4L151.0 438.3L151.3 436.8L151.3 435.3L151.3 433.8L151.3 432.3L151.3 430.8L151.3 429.3L151.3 427.8L151.3 426.3L151.3 424.8L151.3 423.3L151.3 421.7L151.3 420.2L151.3 418.7L151.3 417.2L151.3 415.7L151.3 414.2L151.3 412.7L151.3 411.2L151.3 409.7L151.3 408.2L151.0 406.7L151.0 406.6L150.1 405.2Z"/>
<path fill="#14b4b7" fill-rule="evenodd" d="M150.5 403.7L151.0 403.1L152.5 403.2L153.4 403.7L154.0 403.9L155.5 404.2L157.0 404.5L158.5 404.6L160.0 404.8L161.5 404.9L163.0 405.1L164.5 405.1L166.0 405.2L166.0 405.2L167.5 405.9L169.0 406.4L170.1 406.7L170.5 406.8L172.0 407.2L173.5 406.8L173.9 406.7L175.0 406.4L176.5 405.9L178.0 405.2L178.0 405.2L179.5 405.1L181.0 405.1L182.5 404.9L184.0 404.8L185.5 404.6L187.0 404.5L188.5 404.2L190.0 403.9L190.6 403.7L191.5 403.2L193.0 403.1L193.5 403.7L193.8 405.2L193.0 406.5L192.9 406.7L192.7 408.2L192.7 409.7L192.7 411.2L192.7 412.7L192.7 414.2L192.7 415.7L192.7 417.2L192.7 418.7L192.7 420.2L192.7 421.7L192.7 423.3L192.7 424.8L192.7 426.3L192.7 427.8L192.7 429.3L192.7 430.8L192.7 432.3L192.7 433.8L192.7 435.3L192.7 436.8L192.9 438.3L193.0 438.5L193.8 439.8L193.5 441.3L193.0 441.9L191.5 441.8L190.6 441.3L190.0 441.1L188.5 440.8L187.0 440.5L185.5 440.4L184.0 440.2L182.5 440.1L181.0 439.9L179.5 439.9L178.0 439.8L178.0 439.8L176.5 439.1L175.0 438.6L173.9 438.3L173.5 438.2L172.0 437.8L170.5 438.2L170.1 438.3L169.0 438.6L167.5 439.1L166.0 439.8L166.0 439.8L164.5 439.9L163.0 439.9L161.5 440.1L160.0 440.2L158.5 440.4L157.0 440.5L155.5 440.8L154.0 441.1L153.4 441.3L152.5 441.8L151.0 441.9L150.5 441.3L150.2 439.8L151.0 438.5L151.1 438.3L151.3 436.8L151.3 435.3L151.3 433.8L151.3 432.3L151.3 430.8L151.3 429.3L151.3 427.8L151.3 426.3L151.3 424.8L151.3 423.3L151.3 421.7L151.3 420.2L151.3 418.7L151.3 417.2L151.3 415.7L151.3 414.2L151.3 412.7L151.3 411.2L151.3 409.7L151.3 408.2L151.1 406.7L151.0 406.5L150.2 405.2Z"/>
<path fill="#1db7b0" fill-rule="evenodd" d="M150.6 403.7L151.0 403.2L152.5 403.3L153.2 403.7L154.0 403.9L155.5 404.3L157.0 404.5L158.5 404.7L160.0 404.9L161.5 405.0L163.0 405.2L163.8 405.2L164.5 405.8L165.8 406.7L166.0 406.9L167.5 407.7L168.5 408.2L169.0 408.5L170.5 409.1L172.0 409.6L173.5 409.1L175.0 408.5L175.5 408.2L176.5 407.7L178.0 406.9L178.2 406.7L179.5 405.8L180.2 405.2L181.0 405.2L182.5 405.0L184.0 404.9L185.5 404.7L187.0 404.5L188.5 404.3L190.0 403.9L190.8 403.7L191.5 403.3L193.0 403.2L193.4 403.7L193.8 405.2L193.0 406.4L192.9 406.7L192.6 408.2L192.6 409.7L192.6 411.2L192.6 412.7L192.6 414.2L192.6 415.7L192.6 417.2L192.6 418.7L192.6 420.2L192.6 421.7L192.6 423.3L192.6 424.8L192.6 426.3L192.6 427.8L192.6 429.3L192.6 430.8L192.6 432.3L192.6 433.8L192.6 435.3L192.6 436.8L192.9 438.3L193.0 438.6L193.8 439.8L193.4 441.3L193.0 441.8L191.5 441.7L190.8 441.3L190.0 441.1L188.5 440.7L187.0 440.5L185.5 440.3L184.0 440.1L182.5 440.0L181.0 439.8L180.2 439.8L179.5 439.2L178.2 438.3L178.0 438.1L176.5 437.3L175.5 436.8L175.0 436.5L173.5 435.9L172.0 435.4L170.5 435.9L169.0 436.5L168.5 436.8L167.5 437.3L166.0 438.1L165.8 438.3L164.5 439.2L163.8 439.8L163.0 439.8L161.5 440.0L160.0 440.1L158.5 440.3L157.0 440.5L155.5 440.7L154.0 441.1L153.2 441.3L152.5 441.7L151.0 441.8L150.6 441.3L150.2 439.8L151.0 438.6L151.1 438.3L151.4 436.8L151.4 435.3L151.4 433.8L151.4 432.3L151.4 430.8L151.4 429.3L151.4 427.8L151.4 426.3L151.4 424.8L151.4 423.3L151.4 421.7L151.4 420.2L151.4 418.7L151.4 417.2L151.4 415.7L151.4 414.2L151.4 412.7L151.4 411.2L151.4 409.7L151.4 408.2L151.1 406.7L151.0 406.4L150.2 405.2Z"/>
<path fill="#29baa8" fill-rule="evenodd" d="M150.7 403.7L151.0 403.3L152.5 403.4L153.1 403.7L154.0 404.0L155.5 404.3L157.0 404.6L158.5 404.8L160.0 405.0L161.5 405.1L162.4 405.2L163.0 405.9L164.0 406.7L164.5 407.3L165.6 408.2L166.0 408.6L167.5 409.7L167.5 409.7L169.0 410.8L169.7 411.2L170.5 411.8L172.0 412.6L173.5 411.8L174.3 411.2L175.0 410.8L176.5 409.7L176.5 409.7L178.0 408.6L178.4 408.2L179.5 407.3L180.0 406.7L181.0 405.9L181.6 405.2L182.5 405.1L184.0 405.0L185.5 404.8L187.0 404.6L188.5 404.3L190.0 404.0L190.9 403.7L191.5 403.4L193.0 403.3L193.3 403.7L193.7 405.2L193.0 406.2L192.8 406.7L192.6 408.2L192.6 409.7L192.6 411.2L192.6 412.7L192.6 414.2L192.6 415.7L192.6 417.2L192.6 418.7L192.6 420.2L192.6 421.7L192.6 423.3L192.6 424.8L192.6 426.3L192.6 427.8L192.6 429.3L192.6 430.8L192.6 432.3L192.6 433.8L192.6 435.3L192.6 436.8L192.8 438.3L193.0 438.8L193.7 439.8L193.3 441.3L193.0 441.7L191.5 441.6L190.9 441.3L190.0 441.0L188.5 440.7L187.0 440.4L185.5 440.2L184.0 440.0L182.5 439.9L181.6 439.8L181.0 439.1L180.0 438.3L179.5 437.7L178.4 436.8L178.0 436.4L176.5 435.3L176.5 435.3L175.0 434.2L174.3 433.8L173.5 433.2L172.0 432.4L170.5 433.2L169.7 433.8L169.0 434.2L167.5 435.3L167.5 435.3L166.0 436.4L165.6 436.8L164.5 437.7L164.0 438.3L163.0 439.1L162.4 439.8L161.5 439.9L160.0 440.0L158.5 440.2L157.0 440.4L155.5 440.7L154.0 441.0L153.1 441.3L152.5 441.6L151.0 441.7L150.7 441.3L150.3 439.8L151.0 438.8L151.2 438.3L151.4 436.8L151.4 435.3L151.4 433.8L151.4 432.3L151.4 430.8L151.4 429.3L151.4 427.8L151.4 426.3L151.4 424.8L151.4 423.3L151.4 421.7L151.4 420.2L151.4 418.7L151.4 417.2L151.4 415.7L151.4 414.2L151.4 412.7L151.4 411.2L151.4 409.7L151.4 408.2L151.2 406.7L151.0 406.2L150.3 405.2Z"/>
<path fill="#36bca0" fill-rule="evenodd" d="M150.8 403.7L151.0 403.5L152.5 403.5L152.9 403.7L154.0 404.0L155.5 404.3L157.0 404.6L158.5 404.8L160.0 405.0L161.4 405.2L161.5 405.3L162.7 406.7L163.0 407.1L164.1 408.2L164.5 408.8L165.4 409.7L166.0 410.4L166.8 411.2L167.5 412.0L168.3 412.7L169.0 413.6L169.8 414.2L170.5 415.1L171.2 415.7L172.0 416.6L172.8 415.7L173.5 415.1L174.2 414.2L175.0 413.6L175.7 412.7L176.5 412.0L177.2 411.2L178.0 410.4L178.6 409.7L179.5 408.8L179.9 408.2L181.0 407.1L181.3 406.7L182.5 405.3L182.6 405.2L184.0 405.0L185.5 404.8L187.0 404.6L188.5 404.3L190.0 404.0L191.1 403.7L191.5 403.5L193.0 403.5L193.2 403.7L193.6 405.2L193.0 406.1L192.8 406.7L192.5 408.2L192.5 409.7L192.5 411.2L192.5 412.7L192.5 414.2L192.5 415.7L192.5 417.2L192.5 418.7L192.5 420.2L192.5 421.7L192.5 423.3L192.5 424.8L192.5 426.3L192.5 427.8L192.5 429.3L192.5 430.8L192.5 432.3L192.5 433.8L192.5 435.3L192.5 436.8L192.8 438.3L193.0 438.9L193.6 439.8L193.2 441.3L193.0 441.5L191.5 441.5L191.1 441.3L190.0 441.0L188.5 440.7L187.0 440.4L185.5 440.2L184.0 440.0L182.6 439.8L182.5 439.7L181.3 438.3L181.0 437.9L179.9 436.8L179.5 436.2L178.6 435.3L178.0 434.6L177.2 433.8L176.5 433.0L175.7 432.3L175.0 431.4L174.2 430.8L173.5 429.9L172.8 429.3L172.0 428.4L171.2 429.3L170.5 429.9L169.8 430.8L169.0 431.4L168.3 432.3L167.5 433.0L166.8 433.8L166.0 434.6L165.4 435.3L164.5 436.2L164.1 436.8L163.0 437.9L162.7 438.3L161.5 439.7L161.4 439.8L160.0 440.0L158.5 440.2L157.0 440.4L155.5 440.7L154.0 441.0L152.9 441.3L152.5 441.5L151.0 441.5L150.8 441.3L150.4 439.8L151.0 438.9L151.2 438.3L151.5 436.8L151.5 435.3L151.5 433.8L151.5 432.3L151.5 430.8L151.5 429.3L151.5 427.8L151.5 426.3L151.5 424.8L151.5 423.3L151.5 421.7L151.5 420.2L151.5 418.7L151.5 417.2L151.5 415.7L151.5 414.2L151.5 412.7L151.5 411.2L151.5 409.7L151.5 408.2L151.2 406.7L151.0 406.1L150.4 405.2Z"/>
<path fill="#43be98" fill-rule="evenodd" d="M150.9 403.7L151.0 403.6L152.5 403.6L152.8 403.7L154.0 404.1L155.5 404.4L157.0 404.7L158.5 404.9L160.0 405.1L160.8 405.2L161.5 406.4L161.8 406.7L162.9 408.2L163.0 408.4L164.0 409.7L164.5 410.5L165.1 411.2L166.0 412.6L166.1 412.7L167.2 414.2L167.5 414.8L168.1 415.7L168.9 417.2L169.0 417.4L169.7 418.7L170.1 420.2L170.4 421.7L170.4 423.3L170.1 424.8L169.7 426.3L169.0 427.6L168.9 427.8L168.1 429.3L167.5 430.2L167.2 430.8L166.1 432.3L166.0 432.4L165.1 433.8L164.5 434.5L164.0 435.3L163.0 436.6L162.9 436.8L161.8 438.3L161.5 438.6L160.8 439.8L160.0 439.9L158.5 440.1L157.0 440.3L155.5 440.6L154.0 440.9L152.8 441.3L152.5 441.4L151.0 441.4L150.9 441.3L150.5 439.8L151.0 439.0L151.3 438.3L151.5 436.8L151.5 435.3L151.5 433.8L151.5 432.3L151.5 430.8L151.5 429.3L151.5 427.8L151.5 426.3L151.5 424.8L151.5 423.3L151.5 421.7L151.5 420.2L151.5 418.7L151.5 417.2L151.5 415.7L151.5 414.2L151.5 412.7L151.5 411.2L151.5 409.7L151.5 408.2L151.3 406.7L151.0 406.0L150.5 405.2ZM191.2 403.7L191.5 403.6L193.0 403.6L193.1 403.7L193.5 405.2L193.0 406.0L192.7 406.7L192.5 408.2L192.5 409.7L192.5 411.2L192.5 412.7L192.5 414.2L192.5 415.7L192.5 417.2L192.5 418.7L192.5 420.2L192.5 421.7L192.5 423.3L192.5 424.8L192.5 426.3L192.5 427.8L192.5 429.3L192.5 430.8L192.5 432.3L192.5 433.8L192.5 435.3L192.5 436.8L192.7 438.3L193.0 439.0L193.5 439.8L193.1 441.3L193.0 441.4L191.5 441.4L191.2 441.3L190.0 440.9L188.5 440.6L187.0 440.3L185.5 440.1L184.0 439.9L183.2 439.8L182.5 438.6L182.2 438.3L181.1 436.8L181.0 436.6L180.0 435.3L179.5 434.5L178.9 433.8L178.0 432.4L177.9 432.3L176.8 430.8L176.5 430.2L175.9 429.3L175.1 427.8L175.0 427.6L174.3 426.3L173.9 424.8L173.6 423.3L173.6 421.7L173.9 420.2L174.3 418.7L175.0 417.4L175.1 417.2L175.9 415.7L176.5 414.8L176.8 414.2L177.9 412.7L178.0 412.6L178.9 411.2L179.5 410.5L180.0 409.7L181.0 408.4L181.1 408.2L182.2 406.7L182.5 406.4L183.2 405.2L184.0 405.1L185.5 404.9L187.0 404.7L188.5 404.4L190.0 404.1Z"/>
<path fill="#50c090" fill-rule="evenodd" d="M151.5 403.7L152.5 403.7L152.6 403.7L154.0 404.1L155.5 404.4L157.0 404.7L158.5 405.0L160.0 405.2L160.1 405.2L161.1 406.7L161.5 407.5L162.1 408.2L162.9 409.7L163.0 409.8L163.9 411.2L164.5 412.4L164.8 412.7L165.6 414.2L166.0 415.2L166.3 415.7L166.9 417.2L167.4 418.7L167.5 419.3L167.7 420.2L167.9 421.7L167.9 423.3L167.7 424.8L167.5 425.7L167.4 426.3L166.9 427.8L166.3 429.3L166.0 429.8L165.6 430.8L164.8 432.3L164.5 432.6L163.9 433.8L163.0 435.2L162.9 435.3L162.1 436.8L161.5 437.5L161.1 438.3L160.1 439.8L160.0 439.8L158.5 440.0L157.0 440.3L155.5 440.6L154.0 440.9L152.6 441.3L152.5 441.3L151.5 441.3L151.0 441.2L150.6 439.8L151.0 439.2L151.3 438.3L151.5 436.8L151.6 435.3L151.6 433.8L151.6 432.3L151.6 430.8L151.6 429.3L151.6 427.8L151.6 426.3L151.6 424.8L151.6 423.3L151.6 421.7L151.6 420.2L151.6 418.7L151.6 417.2L151.6 415.7L151.6 414.2L151.6 412.7L151.6 411.2L151.6 409.7L151.5 408.2L151.3 406.7L151.0 405.8L150.6 405.2L151.0 403.8ZM191.4 403.7L191.5 403.7L192.5 403.7L193.0 403.8L193.4 405.2L193.0 405.8L192.7 406.7L192.5 408.2L192.4 409.7L192.4 411.2L192.4 412.7L192.4 414.2L192.4 415.7L192.4 417.2L192.4 418.7L192.4 420.2L192.4 421.7L192.4 423.3L192.4 424.8L192.4 426.3L192.4 427.8L192.4 429.3L192.4 430.8L192.4 432.3L192.4 433.8L192.4 435.3L192.5 436.8L192.7 438.3L193.0 439.2L193.4 439.8L193.0 441.2L192.5 441.3L191.5 441.3L191.4 441.3L190.0 440.9L188.5 440.6L187.0 440.3L185.5 440.0L184.0 439.8L183.9 439.8L182.9 438.3L182.5 437.5L181.9 436.8L181.1 435.3L181.0 435.2L180.1 433.8L179.5 432.6L179.2 432.3L178.4 430.8L178.0 429.8L177.7 429.3L177.1 427.8L176.6 426.3L176.5 425.7L176.3 424.8L176.1 423.3L176.1 421.7L176.3 420.2L176.5 419.3L176.6 418.7L177.1 417.2L177.7 415.7L178.0 415.2L178.4 414.2L179.2 412.7L179.5 412.4L180.1 411.2L181.0 409.8L181.1 409.7L181.9 408.2L182.5 407.5L182.9 406.7L183.9 405.2L184.0 405.2L185.5 405.0L187.0 404.7L188.5 404.4L190.0 404.1Z"/>
<path fill="#5dc287" fill-rule="evenodd" d="M150.7 405.2L151.0 404.1L152.5 403.7L154.0 404.2L155.5 404.4L157.0 404.8L158.5 405.0L159.6 405.2L160.0 406.0L160.5 406.7L161.3 408.2L161.5 408.6L162.2 409.7L162.9 411.2L163.0 411.4L163.7 412.7L164.4 414.2L164.5 414.6L165.0 415.7L165.5 417.2L165.9 418.7L166.0 419.5L166.1 420.2L166.3 421.7L166.3 423.3L166.1 424.8L166.0 425.5L165.9 426.3L165.5 427.8L165.0 429.3L164.5 430.4L164.4 430.8L163.7 432.3L163.0 433.6L162.9 433.8L162.2 435.3L161.5 436.4L161.3 436.8L160.5 438.3L160.0 439.0L159.6 439.8L158.5 440.0L157.0 440.2L155.5 440.6L154.0 440.8L152.5 441.3L151.0 440.9L150.7 439.8L151.0 439.3L151.4 438.3L151.6 436.8L151.6 435.3L151.6 433.8L151.6 432.3L151.6 430.8L151.6 429.3L151.6 427.8L151.6 426.3L151.6 424.8L151.6 423.3L151.6 421.7L151.6 420.2L151.6 418.7L151.6 417.2L151.6 415.7L151.6 414.2L151.6 412.7L151.6 411.2L151.6 409.7L151.6 408.2L151.4 406.7L151.0 405.7ZM184.4 405.2L185.5 405.0L187.0 404.8L188.5 404.4L190.0 404.2L191.5 403.7L193.0 404.1L193.3 405.2L193.0 405.7L192.6 406.7L192.4 408.2L192.4 409.7L192.4 411.2L192.4 412.7L192.4 414.2L192.4 415.7L192.4 417.2L192.4 418.7L192.4 420.2L192.4 421.7L192.4 423.3L192.4 424.8L192.4 426.3L192.4 427.8L192.4 429.3L192.4 430.8L192.4 432.3L192.4 433.8L192.4 435.3L192.4 436.8L192.6 438.3L193.0 439.3L193.3 439.8L193.0 440.9L191.5 441.3L190.0 440.8L188.5 440.6L187.0 440.2L185.5 440.0L184.4 439.8L184.0 439.0L183.5 438.3L182.7 436.8L182.5 436.4L181.8 435.3L181.1 433.8L181.0 433.6L180.3 432.3L179.6 430.8L179.5 430.4L179.0 429.3L178.5 427.8L178.1 426.3L178.0 425.5L177.9 424.8L177.7 423.3L177.7 421.7L177.9 420.2L178.0 419.5L178.1 418.7L178.5 417.2L179.0 415.7L179.5 414.6L179.6 414.2L180.3 412.7L181.0 411.4L181.1 411.2L181.8 409.7L182.5 408.6L182.7 408.2L183.5 406.7L184.0 406.0Z"/>
<path fill="#6bc37f" fill-rule="evenodd" d="M150.8 405.2L151.0 404.4L152.5 403.8L154.0 404.2L155.5 404.5L157.0 404.8L158.5 405.1L159.2 405.2L159.9 406.7L160.0 406.9L160.8 408.2L161.5 409.7L161.5 409.8L162.2 411.2L162.8 412.7L163.0 413.2L163.5 414.2L164.0 415.7L164.4 417.2L164.5 417.8L164.7 418.7L165.0 420.2L165.1 421.7L165.1 423.3L165.0 424.8L164.7 426.3L164.5 427.2L164.4 427.8L164.0 429.3L163.5 430.8L163.0 431.8L162.8 432.3L162.2 433.8L161.5 435.2L161.5 435.3L160.8 436.8L160.0 438.1L159.9 438.3L159.2 439.8L158.5 439.9L157.0 440.2L155.5 440.5L154.0 440.8L152.5 441.2L151.0 440.6L150.8 439.8L151.0 439.4L151.4 438.3L151.6 436.8L151.6 435.3L151.6 433.8L151.6 432.3L151.6 430.8L151.6 429.3L151.6 427.8L151.6 426.3L151.6 424.8L151.6 423.3L151.6 421.7L151.6 420.2L151.6 418.7L151.6 417.2L151.6 415.7L151.6 414.2L151.6 412.7L151.6 411.2L151.6 409.7L151.6 408.2L151.4 406.7L151.0 405.6ZM184.8 405.2L185.5 405.1L187.0 404.8L188.5 404.5L190.0 404.2L191.5 403.8L193.0 404.4L193.2 405.2L193.0 405.6L192.6 406.7L192.4 408.2L192.4 409.7L192.4 411.2L192.4 412.7L192.4 414.2L192.4 415.7L192.4 417.2L192.4 418.7L192.4 420.2L192.4 421.7L192.4 423.3L192.4 424.8L192.4 426.3L192.4 427.8L192.4 429.3L192.4 430.8L192.4 432.3L192.4 433.8L192.4 435.3L192.4 436.8L192.6 438.3L193.0 439.4L193.2 439.8L193.0 440.6L191.5 441.2L190.0 440.8L188.5 440.5L187.0 440.2L185.5 439.9L184.8 439.8L184.1 438.3L184.0 438.1L183.2 436.8L182.5 435.3L182.5 435.2L181.8 433.8L181.2 432.3L181.0 431.8L180.5 430.8L180.0 429.3L179.6 427.8L179.5 427.2L179.3 426.3L179.0 424.8L178.9 423.3L178.9 421.7L179.0 420.2L179.3 418.7L179.5 417.8L179.6 417.2L180.0 415.7L180.5 414.2L181.0 413.2L181.2 412.7L181.8 411.2L182.5 409.8L182.5 409.7L183.2 408.2L184.0 406.9L184.1 406.7Z"/>
<path fill="#79c377" fill-rule="evenodd" d="M150.9 405.2L151.0 404.7L152.5 403.9L154.0 404.3L155.5 404.5L157.0 404.9L158.5 405.2L158.8 405.2L159.5 406.7L160.0 407.9L160.2 408.2L160.9 409.7L161.5 411.2L161.5 411.2L162.2 412.7L162.7 414.2L163.0 415.4L163.1 415.7L163.5 417.2L163.8 418.7L164.0 420.2L164.1 421.7L164.1 423.3L164.0 424.8L163.8 426.3L163.5 427.8L163.1 429.3L163.0 429.6L162.7 430.8L162.2 432.3L161.5 433.8L161.5 433.8L160.9 435.3L160.2 436.8L160.0 437.1L159.5 438.3L158.8 439.8L158.5 439.8L157.0 440.1L155.5 440.5L154.0 440.7L152.5 441.1L151.0 440.3L150.9 439.8L151.0 439.6L151.5 438.3L151.7 436.8L151.7 435.3L151.7 433.8L151.7 432.3L151.7 430.8L151.7 429.3L151.7 427.8L151.7 426.3L151.7 424.8L151.7 423.3L151.7 421.7L151.7 420.2L151.7 418.7L151.7 417.2L151.7 415.7L151.7 414.2L151.7 412.7L151.7 411.2L151.7 409.7L151.7 408.2L151.5 406.7L151.0 405.4ZM185.2 405.2L185.5 405.2L187.0 404.9L188.5 404.5L190.0 404.3L191.5 403.9L193.0 404.7L193.1 405.2L193.0 405.4L192.5 406.7L192.3 408.2L192.3 409.7L192.3 411.2L192.3 412.7L192.3 414.2L192.3 415.7L192.3 417.2L192.3 418.7L192.3 420.2L192.3 421.7L192.3 423.3L192.3 424.8L192.3 426.3L192.3 427.8L192.3 429.3L192.3 430.8L192.3 432.3L192.3 433.8L192.3 435.3L192.3 436.8L192.5 438.3L193.0 439.6L193.1 439.8L193.0 440.3L191.5 441.1L190.0 440.7L188.5 440.5L187.0 440.1L185.5 439.8L185.2 439.8L184.5 438.3L184.0 437.1L183.8 436.8L183.1 435.3L182.5 433.8L182.5 433.8L181.8 432.3L181.3 430.8L181.0 429.6L180.9 429.3L180.5 427.8L180.2 426.3L180.0 424.8L179.9 423.3L179.9 421.7L180.0 420.2L180.2 418.7L180.5 417.2L180.9 415.7L181.0 415.4L181.3 414.2L181.8 412.7L182.5 411.2L182.5 411.2L183.1 409.7L183.8 408.2L184.0 407.9L184.5 406.7Z"/>
<path fill="#87c370" fill-rule="evenodd" d="M150.9 405.2L151.0 405.0L152.5 403.9L154.0 404.3L155.5 404.6L157.0 404.9L158.4 405.2L158.5 405.5L159.1 406.7L159.8 408.2L160.0 408.9L160.4 409.7L161.0 411.2L161.5 412.7L161.5 412.7L162.0 414.2L162.5 415.7L162.8 417.2L163.0 418.6L163.0 418.7L163.2 420.2L163.3 421.7L163.3 423.3L163.2 424.8L163.0 426.3L163.0 426.4L162.8 427.8L162.5 429.3L162.0 430.8L161.5 432.3L161.5 432.3L161.0 433.8L160.4 435.3L160.0 436.1L159.8 436.8L159.1 438.3L158.5 439.5L158.4 439.8L157.0 440.1L155.5 440.4L154.0 440.7L152.5 441.1L151.0 440.0L150.9 439.8L151.0 439.7L151.6 438.3L151.7 436.8L151.7 435.3L151.7 433.8L151.7 432.3L151.7 430.8L151.7 429.3L151.7 427.8L151.7 426.3L151.7 424.8L151.7 423.3L151.7 421.7L151.7 420.2L151.7 418.7L151.7 417.2L151.7 415.7L151.7 414.2L151.7 412.7L151.7 411.2L151.7 409.7L151.7 408.2L151.6 406.7L151.0 405.3ZM185.6 405.2L187.0 404.9L188.5 404.6L190.0 404.3L191.5 403.9L193.0 405.0L193.1 405.2L193.0 405.3L192.4 406.7L192.3 408.2L192.3 409.7L192.3 411.2L192.3 412.7L192.3 414.2L192.3 415.7L192.3 417.2L192.3 418.7L192.3 420.2L192.3 421.7L192.3 423.3L192.3 424.8L192.3 426.3L192.3 427.8L192.3 429.3L192.3 430.8L192.3 432.3L192.3 433.8L192.3 435.3L192.3 436.8L192.4 438.3L193.0 439.7L193.1 439.8L193.0 440.0L191.5 441.1L190.0 440.7L188.5 440.4L187.0 440.1L185.6 439.8L185.5 439.5L184.9 438.3L184.2 436.8L184.0 436.1L183.6 435.3L183.0 433.8L182.5 432.3L182.5 432.3L182.0 430.8L181.5 429.3L181.2 427.8L181.0 426.4L181.0 426.3L180.8 424.8L180.7 423.3L180.7 421.7L180.8 420.2L181.0 418.7L181.0 418.6L181.2 417.2L181.5 415.7L182.0 414.2L182.5 412.7L182.5 412.7L183.0 411.2L183.6 409.7L184.0 408.9L184.2 408.2L184.9 406.7L185.5 405.5Z"/>
<path fill="#95c268" fill-rule="evenodd" d="M151.0 405.2L152.5 404.0L154.0 404.4L155.5 404.6L157.0 405.0L158.1 405.2L158.5 406.3L158.7 406.7L159.4 408.2L159.9 409.7L160.0 410.0L160.5 411.2L161.0 412.7L161.4 414.2L161.5 414.6L161.8 415.7L162.2 417.2L162.4 418.7L162.6 420.2L162.6 421.7L162.6 423.3L162.6 424.8L162.4 426.3L162.2 427.8L161.8 429.3L161.5 430.4L161.4 430.8L161.0 432.3L160.5 433.8L160.0 435.0L159.9 435.3L159.4 436.8L158.7 438.3L158.5 438.7L158.1 439.8L157.0 440.0L155.5 440.4L154.0 440.6L152.5 441.0L151.0 439.8L151.6 438.3L151.8 436.8L151.8 435.3L151.8 433.8L151.8 432.3L151.8 430.8L151.8 429.3L151.8 427.8L151.8 426.3L151.8 424.8L151.8 423.3L151.8 421.7L151.8 420.2L151.8 418.7L151.8 417.2L151.8 415.7L151.8 414.2L151.8 412.7L151.8 411.2L151.8 409.7L151.8 408.2L151.6 406.7ZM185.9 405.2L187.0 405.0L188.5 404.6L190.0 404.4L191.5 404.0L193.0 405.2L192.4 406.7L192.2 408.2L192.2 409.7L192.2 411.2L192.2 412.7L192.2 414.2L192.2 415.7L192.2 417.2L192.2 418.7L192.2 420.2L192.2 421.7L192.2 423.3L192.2 424.8L192.2 426.3L192.2 427.8L192.2 429.3L192.2 430.8L192.2 432.3L192.2 433.8L192.2 435.3L192.2 436.8L192.4 438.3L193.0 439.8L191.5 441.0L190.0 440.6L188.5 440.4L187.0 440.0L185.9 439.8L185.5 438.7L185.3 438.3L184.6 436.8L184.1 435.3L184.0 435.0L183.5 433.8L183.0 432.3L182.6 430.8L182.5 430.4L182.2 429.3L181.8 427.8L181.6 426.3L181.4 424.8L181.4 423.3L181.4 421.7L181.4 420.2L181.6 418.7L181.8 417.2L182.2 415.7L182.5 414.6L182.6 414.2L183.0 412.7L183.5 411.2L184.0 410.0L184.1 409.7L184.6 408.2L185.3 406.7L185.5 406.3Z"/>
<path fill="#a3c260" fill-rule="evenodd" d="M151.1 405.2L152.5 404.1L154.0 404.4L155.5 404.6L157.0 405.0L157.9 405.2L158.4 406.7L158.5 407.1L159.0 408.2L159.6 409.7L160.0 411.2L160.0 411.2L160.5 412.7L161.0 414.2L161.3 415.7L161.5 417.0L161.6 417.2L161.8 418.7L162.0 420.2L162.1 421.7L162.1 423.3L162.0 424.8L161.8 426.3L161.6 427.8L161.5 428.0L161.3 429.3L161.0 430.8L160.5 432.3L160.0 433.8L160.0 433.8L159.6 435.3L159.0 436.8L158.5 437.9L158.4 438.3L157.9 439.8L157.0 440.0L155.5 440.4L154.0 440.6L152.5 440.9L151.1 439.8L151.7 438.3L151.8 436.8L151.8 435.3L151.8 433.8L151.8 432.3L151.8 430.8L151.8 429.3L151.8 427.8L151.8 426.3L151.8 424.8L151.8 423.3L151.8 421.7L151.8 420.2L151.8 418.7L151.8 417.2L151.8 415.7L151.8 414.2L151.8 412.7L151.8 411.2L151.8 409.7L151.8 408.2L151.7 406.7ZM186.1 405.2L187.0 405.0L188.5 404.6L190.0 404.4L191.5 404.1L192.9 405.2L192.3 406.7L192.2 408.2L192.2 409.7L192.2 411.2L192.2 412.7L192.2 414.2L192.2 415.7L192.2 417.2L192.2 418.7L192.2 420.2L192.2 421.7L192.2 423.3L192.2 424.8L192.2 426.3L192.2 427.8L192.2 429.3L192.2 430.8L192.2 432.3L192.2 433.8L192.2 435.3L192.2 436.8L192.3 438.3L192.9 439.8L191.5 440.9L190.0 440.6L188.5 440.4L187.0 440.0L186.1 439.8L185.6 438.3L185.5 437.9L185.0 436.8L184.4 435.3L184.0 433.8L184.0 433.8L183.5 432.3L183.0 430.8L182.7 429.3L182.5 428.0L182.4 427.8L182.2 426.3L182.0 424.8L181.9 423.3L181.9 421.7L182.0 420.2L182.2 418.7L182.4 417.2L182.5 417.0L182.7 415.7L183.0 414.2L183.5 412.7L184.0 411.2L184.0 411.2L184.4 409.7L185.0 408.2L185.5 407.1L185.6 406.7Z"/>
<path fill="#b0c059" fill-rule="evenodd" d="M151.2 405.2L152.5 404.2L154.0 404.5L155.5 404.7L157.0 405.1L157.6 405.2L158.1 406.7L158.5 407.9L158.6 408.2L159.2 409.7L159.7 411.2L160.0 412.6L160.1 412.7L160.5 414.2L160.8 415.7L161.1 417.2L161.3 418.7L161.4 420.2L161.5 421.7L161.5 423.3L161.4 424.8L161.3 426.3L161.1 427.8L160.8 429.3L160.5 430.8L160.1 432.3L160.0 432.4L159.7 433.8L159.2 435.3L158.6 436.8L158.5 437.1L158.1 438.3L157.6 439.8L157.0 439.9L155.5 440.3L154.0 440.5L152.5 440.8L151.2 439.8L151.7 438.3L151.8 436.8L151.9 435.3L151.9 433.8L151.9 432.3L151.9 430.8L151.9 429.3L151.9 427.8L151.9 426.3L151.9 424.8L151.9 423.3L151.9 421.7L151.9 420.2L151.9 418.7L151.9 417.2L151.9 415.7L151.9 414.2L151.9 412.7L151.9 411.2L151.9 409.7L151.8 408.2L151.7 406.7ZM186.4 405.2L187.0 405.1L188.5 404.7L190.0 404.5L191.5 404.2L192.8 405.2L192.3 406.7L192.2 408.2L192.1 409.7L192.1 411.2L192.1 412.7L192.1 414.2L192.1 415.7L192.1 417.2L192.1 418.7L192.1 420.2L192.1 421.7L192.1 423.3L192.1 424.8L192.1 426.3L192.1 427.8L192.1 429.3L192.1 430.8L192.1 432.3L192.1 433.8L192.1 435.3L192.2 436.8L192.3 438.3L192.8 439.8L191.5 440.8L190.0 440.5L188.5 440.3L187.0 439.9L186.4 439.8L185.9 438.3L185.5 437.1L185.4 436.8L184.8 435.3L184.3 433.8L184.0 432.4L183.9 432.3L183.5 430.8L183.2 429.3L182.9 427.8L182.7 426.3L182.6 424.8L182.5 423.3L182.5 421.7L182.6 420.2L182.7 418.7L182.9 417.2L183.2 415.7L183.5 414.2L183.9 412.7L184.0 412.6L184.3 411.2L184.8 409.7L185.4 408.2L185.5 407.9L185.9 406.7Z"/>
<path fill="#bdbf53" fill-rule="evenodd" d="M151.3 405.2L152.5 404.2L154.0 404.5L155.5 404.7L157.0 405.1L157.3 405.2L157.9 406.7L158.3 408.2L158.5 408.8L158.8 409.7L159.3 411.2L159.7 412.7L160.0 414.1L160.0 414.2L160.4 415.7L160.6 417.2L160.8 418.7L161.0 420.2L161.0 421.7L161.0 423.3L161.0 424.8L160.8 426.3L160.6 427.8L160.4 429.3L160.0 430.8L160.0 430.9L159.7 432.3L159.3 433.8L158.8 435.3L158.5 436.2L158.3 436.8L157.9 438.3L157.3 439.8L157.0 439.9L155.5 440.3L154.0 440.5L152.5 440.8L151.3 439.8L151.8 438.3L151.9 436.8L151.9 435.3L151.9 433.8L151.9 432.3L151.9 430.8L151.9 429.3L151.9 427.8L151.9 426.3L151.9 424.8L151.9 423.3L151.9 421.7L151.9 420.2L151.9 418.7L151.9 417.2L151.9 415.7L151.9 414.2L151.9 412.7L151.9 411.2L151.9 409.7L151.9 408.2L151.8 406.7ZM186.7 405.2L187.0 405.1L188.5 404.7L190.0 404.5L191.5 404.2L192.7 405.2L192.2 406.7L192.1 408.2L192.1 409.7L192.1 411.2L192.1 412.7L192.1 414.2L192.1 415.7L192.1 417.2L192.1 418.7L192.1 420.2L192.1 421.7L192.1 423.3L192.1 424.8L192.1 426.3L192.1 427.8L192.1 429.3L192.1 430.8L192.1 432.3L192.1 433.8L192.1 435.3L192.1 436.8L192.2 438.3L192.7 439.8L191.5 440.8L190.0 440.5L188.5 440.3L187.0 439.9L186.7 439.8L186.1 438.3L185.7 436.8L185.5 436.2L185.2 435.3L184.7 433.8L184.3 432.3L184.0 430.9L184.0 430.8L183.6 429.3L183.4 427.8L183.2 426.3L183.0 424.8L183.0 423.3L183.0 421.7L183.0 420.2L183.2 418.7L183.4 417.2L183.6 415.7L184.0 414.2L184.0 414.1L184.3 412.7L184.7 411.2L185.2 409.7L185.5 408.8L185.7 408.2L186.1 406.7Z"/>
<path fill="#cabd4d" fill-rule="evenodd" d="M151.4 405.2L152.5 404.3L154.0 404.6L155.5 404.8L157.0 405.2L157.1 405.2L157.6 406.7L158.1 408.2L158.5 409.7L158.5 409.8L159.0 411.2L159.4 412.7L159.7 414.2L159.9 415.7L160.0 416.1L160.2 417.2L160.4 418.7L160.5 420.2L160.6 421.7L160.6 423.3L160.5 424.8L160.4 426.3L160.2 427.8L160.0 428.9L159.9 429.3L159.7 430.8L159.4 432.3L159.0 433.8L158.5 435.2L158.5 435.3L158.1 436.8L157.6 438.3L157.1 439.8L157.0 439.8L155.5 440.2L154.0 440.4L152.5 440.7L151.4 439.8L151.8 438.3L151.9 436.8L151.9 435.3L151.9 433.8L151.9 432.3L151.9 430.8L151.9 429.3L151.9 427.8L151.9 426.3L151.9 424.8L151.9 423.3L151.9 421.7L151.9 420.2L151.9 418.7L151.9 417.2L151.9 415.7L151.9 414.2L151.9 412.7L151.9 411.2L151.9 409.7L151.9 408.2L151.8 406.7ZM186.9 405.2L187.0 405.2L188.5 404.8L190.0 404.6L191.5 404.3L192.6 405.2L192.2 406.7L192.1 408.2L192.1 409.7L192.1 411.2L192.1 412.7L192.1 414.2L192.1 415.7L192.1 417.2L192.1 418.7L192.1 420.2L192.1 421.7L192.1 423.3L192.1 424.8L192.1 426.3L192.1 427.8L192.1 429.3L192.1 430.8L192.1 432.3L192.1 433.8L192.1 435.3L192.1 436.8L192.2 438.3L192.6 439.8L191.5 440.7L190.0 440.4L188.5 440.2L187.0 439.8L186.9 439.8L186.4 438.3L185.9 436.8L185.5 435.3L185.5 435.2L185.0 433.8L184.6 432.3L184.3 430.8L184.1 429.3L184.0 428.9L183.8 427.8L183.6 426.3L183.5 424.8L183.4 423.3L183.4 421.7L183.5 420.2L183.6 418.7L183.8 417.2L184.0 416.1L184.1 415.7L184.3 414.2L184.6 412.7L185.0 411.2L185.5 409.8L185.5 409.7L185.9 408.2L186.4 406.7Z"/>
<path fill="#d5bc48" fill-rule="evenodd" d="M151.5 405.2L152.5 404.4L154.0 404.6L155.5 404.8L156.9 405.2L157.0 405.7L157.4 406.7L157.8 408.2L158.2 409.7L158.5 410.8L158.6 411.2L159.0 412.7L159.4 414.2L159.6 415.7L159.8 417.2L160.0 418.7L160.0 419.2L160.1 420.2L160.2 421.7L160.2 423.3L160.1 424.8L160.0 425.8L160.0 426.3L159.8 427.8L159.6 429.3L159.4 430.8L159.0 432.3L158.6 433.8L158.5 434.2L158.2 435.3L157.8 436.8L157.4 438.3L157.0 439.3L156.9 439.8L155.5 440.2L154.0 440.4L152.5 440.6L151.5 439.8L151.9 438.3L152.0 436.8L152.0 435.3L152.0 433.8L152.0 432.3L152.0 430.8L152.0 429.3L152.0 427.8L152.0 426.3L152.0 424.8L152.0 423.3L152.0 421.7L152.0 420.2L152.0 418.7L152.0 417.2L152.0 415.7L152.0 414.2L152.0 412.7L152.0 411.2L152.0 409.7L152.0 408.2L151.9 406.7ZM187.1 405.2L188.5 404.8L190.0 404.6L191.5 404.4L192.5 405.2L192.1 406.7L192.0 408.2L192.0 409.7L192.0 411.2L192.0 412.7L192.0 414.2L192.0 415.7L192.0 417.2L192.0 418.7L192.0 420.2L192.0 421.7L192.0 423.3L192.0 424.8L192.0 426.3L192.0 427.8L192.0 429.3L192.0 430.8L192.0 432.3L192.0 433.8L192.0 435.3L192.0 436.8L192.1 438.3L192.5 439.8L191.5 440.6L190.0 440.4L188.5 440.2L187.1 439.8L187.0 439.3L186.6 438.3L186.2 436.8L185.8 435.3L185.5 434.2L185.4 433.8L185.0 432.3L184.6 430.8L184.4 429.3L184.2 427.8L184.0 426.3L184.0 425.8L183.9 424.8L183.8 423.3L183.8 421.7L183.9 420.2L184.0 419.2L184.0 418.7L184.2 417.2L184.4 415.7L184.6 414.2L185.0 412.7L185.4 411.2L185.5 410.8L185.8 409.7L186.2 408.2L186.6 406.7L187.0 405.7Z"/>
<path fill="#e1ba45" fill-rule="evenodd" d="M151.5 405.2L152.5 404.4L154.0 404.7L155.5 404.8L156.8 405.2L157.0 406.4L157.1 406.7L157.6 408.2L158.0 409.7L158.3 411.2L158.5 412.0L158.7 412.7L159.0 414.2L159.3 415.7L159.5 417.2L159.7 418.7L159.8 420.2L159.8 421.7L159.8 423.3L159.8 424.8L159.7 426.3L159.5 427.8L159.3 429.3L159.0 430.8L158.7 432.3L158.5 433.0L158.3 433.8L158.0 435.3L157.6 436.8L157.1 438.3L157.0 438.6L156.8 439.8L155.5 440.2L154.0 440.3L152.5 440.6L151.5 439.8L151.9 438.3L152.0 436.8L152.0 435.3L152.0 433.8L152.0 432.3L152.0 430.8L152.0 429.3L152.0 427.8L152.0 426.3L152.0 424.8L152.0 423.3L152.0 421.7L152.0 420.2L152.0 418.7L152.0 417.2L152.0 415.7L152.0 414.2L152.0 412.7L152.0 411.2L152.0 409.7L152.0 408.2L151.9 406.7ZM187.2 405.2L188.5 404.8L190.0 404.7L191.5 404.4L192.5 405.2L192.1 406.7L192.0 408.2L192.0 409.7L192.0 411.2L192.0 412.7L192.0 414.2L192.0 415.7L192.0 417.2L192.0 418.7L192.0 420.2L192.0 421.7L192.0 423.3L192.0 424.8L192.0 426.3L192.0 427.8L192.0 429.3L192.0 430.8L192.0 432.3L192.0 433.8L192.0 435.3L192.0 436.8L192.1 438.3L192.5 439.8L191.5 440.6L190.0 440.3L188.5 440.2L187.2 439.8L187.0 438.6L186.9 438.3L186.4 436.8L186.0 435.3L185.7 433.8L185.5 433.0L185.3 432.3L185.0 430.8L184.7 429.3L184.5 427.8L184.3 426.3L184.2 424.8L184.2 423.3L184.2 421.7L184.2 420.2L184.3 418.7L184.5 417.2L184.7 415.7L185.0 414.2L185.3 412.7L185.5 412.0L185.7 411.2L186.0 409.7L186.4 408.2L186.9 406.7L187.0 406.4Z"/>
<path fill="#ecba44" fill-rule="evenodd" d="M151.6 405.2L152.5 404.5L154.0 404.7L155.5 404.9L156.6 405.2L156.9 406.7L157.0 407.2L157.3 408.2L157.8 409.7L158.1 411.2L158.4 412.7L158.5 413.4L158.7 414.2L159.0 415.7L159.2 417.2L159.3 418.7L159.4 420.2L159.5 421.7L159.5 423.3L159.4 424.8L159.3 426.3L159.2 427.8L159.0 429.3L158.7 430.8L158.5 431.6L158.4 432.3L158.1 433.8L157.8 435.3L157.3 436.8L157.0 437.8L156.9 438.3L156.6 439.8L155.5 440.1L154.0 440.3L152.5 440.5L151.6 439.8L152.0 438.3L152.1 436.8L152.1 435.3L152.1 433.8L152.1 432.3L152.1 430.8L152.1 429.3L152.1 427.8L152.1 426.3L152.1 424.8L152.1 423.3L152.1 421.7L152.1 420.2L152.1 418.7L152.1 417.2L152.1 415.7L152.1 414.2L152.1 412.7L152.1 411.2L152.1 409.7L152.1 408.2L152.0 406.7ZM187.4 405.2L188.5 404.9L190.0 404.7L191.5 404.5L192.4 405.2L192.0 406.7L191.9 408.2L191.9 409.7L191.9 411.2L191.9 412.7L191.9 414.2L191.9 415.7L191.9 417.2L191.9 418.7L191.9 420.2L191.9 421.7L191.9 423.3L191.9 424.8L191.9 426.3L191.9 427.8L191.9 429.3L191.9 430.8L191.9 432.3L191.9 433.8L191.9 435.3L191.9 436.8L192.0 438.3L192.4 439.8L191.5 440.5L190.0 440.3L188.5 440.1L187.4 439.8L187.1 438.3L187.0 437.8L186.7 436.8L186.2 435.3L185.9 433.8L185.6 432.3L185.5 431.6L185.3 430.8L185.0 429.3L184.8 427.8L184.7 426.3L184.6 424.8L184.5 423.3L184.5 421.7L184.6 420.2L184.7 418.7L184.8 417.2L185.0 415.7L185.3 414.2L185.5 413.4L185.6 412.7L185.9 411.2L186.2 409.7L186.7 408.2L187.0 407.2L187.1 406.7Z"/>
<path fill="#f6ba42" fill-rule="evenodd" d="M151.7 405.2L152.5 404.6L154.0 404.8L155.5 404.9L156.5 405.2L156.7 406.7L157.0 408.0L157.1 408.2L157.5 409.7L157.9 411.2L158.2 412.7L158.4 414.2L158.5 415.0L158.6 415.7L158.9 417.2L159.0 418.7L159.1 420.2L159.2 421.7L159.2 423.3L159.1 424.8L159.0 426.3L158.9 427.8L158.6 429.3L158.5 430.0L158.4 430.8L158.2 432.3L157.9 433.8L157.5 435.3L157.1 436.8L157.0 437.0L156.7 438.3L156.5 439.8L155.5 440.1L154.0 440.2L152.5 440.4L151.7 439.8L152.0 438.3L152.1 436.8L152.1 435.3L152.1 433.8L152.1 432.3L152.1 430.8L152.1 429.3L152.1 427.8L152.1 426.3L152.1 424.8L152.1 423.3L152.1 421.7L152.1 420.2L152.1 418.7L152.1 417.2L152.1 415.7L152.1 414.2L152.1 412.7L152.1 411.2L152.1 409.7L152.1 408.2L152.0 406.7ZM187.5 405.2L188.5 404.9L190.0 404.8L191.5 404.6L192.3 405.2L192.0 406.7L191.9 408.2L191.9 409.7L191.9 411.2L191.9 412.7L191.9 414.2L191.9 415.7L191.9 417.2L191.9 418.7L191.9 420.2L191.9 421.7L191.9 423.3L191.9 424.8L191.9 426.3L191.9 427.8L191.9 429.3L191.9 430.8L191.9 432.3L191.9 433.8L191.9 435.3L191.9 436.8L192.0 438.3L192.3 439.8L191.5 440.4L190.0 440.2L188.5 440.1L187.5 439.8L187.3 438.3L187.0 437.0L186.9 436.8L186.5 435.3L186.1 433.8L185.8 432.3L185.6 430.8L185.5 430.0L185.4 429.3L185.1 427.8L185.0 426.3L184.9 424.8L184.8 423.3L184.8 421.7L184.9 420.2L185.0 418.7L185.1 417.2L185.4 415.7L185.5 415.0L185.6 414.2L185.8 412.7L186.1 411.2L186.5 409.7L186.9 408.2L187.0 408.0L187.3 406.7Z"/>
<path fill="#fdbe3d" fill-rule="evenodd" d="M151.8 405.2L152.5 404.6L154.0 404.8L155.5 405.0L156.4 405.2L156.6 406.7L156.9 408.2L157.0 408.8L157.3 409.7L157.6 411.2L157.9 412.7L158.2 414.2L158.4 415.7L158.5 417.0L158.5 417.2L158.7 418.7L158.8 420.2L158.8 421.7L158.8 423.3L158.8 424.8L158.7 426.3L158.5 427.8L158.5 428.0L158.4 429.3L158.2 430.8L157.9 432.3L157.6 433.8L157.3 435.3L157.0 436.2L156.9 436.8L156.6 438.3L156.4 439.8L155.5 440.0L154.0 440.2L152.5 440.4L151.8 439.8L152.1 438.3L152.2 436.8L152.2 435.3L152.2 433.8L152.2 432.3L152.2 430.8L152.2 429.3L152.2 427.8L152.2 426.3L152.2 424.8L152.2 423.3L152.2 421.7L152.2 420.2L152.2 418.7L152.2 417.2L152.2 415.7L152.2 414.2L152.2 412.7L152.2 411.2L152.2 409.7L152.2 408.2L152.1 406.7ZM187.6 405.2L188.5 405.0L190.0 404.8L191.5 404.6L192.2 405.2L191.9 406.7L191.8 408.2L191.8 409.7L191.8 411.2L191.8 412.7L191.8 414.2L191.8 415.7L191.8 417.2L191.8 418.7L191.8 420.2L191.8 421.7L191.8 423.3L191.8 424.8L191.8 426.3L191.8 427.8L191.8 429.3L191.8 430.8L191.8 432.3L191.8 433.8L191.8 435.3L191.8 436.8L191.9 438.3L192.2 439.8L191.5 440.4L190.0 440.2L188.5 440.0L187.6 439.8L187.4 438.3L187.1 436.8L187.0 436.2L186.7 435.3L186.4 433.8L186.1 432.3L185.8 430.8L185.6 429.3L185.5 428.0L185.5 427.8L185.3 426.3L185.2 424.8L185.2 423.3L185.2 421.7L185.2 420.2L185.3 418.7L185.5 417.2L185.5 417.0L185.6 415.7L185.8 414.2L186.1 412.7L186.4 411.2L186.7 409.7L187.0 408.8L187.1 408.2L187.4 406.7Z"/>
<path fill="#fec437" fill-rule="evenodd" d="M151.9 405.2L152.5 404.7L154.0 404.9L155.5 405.0L156.2 405.2L156.4 406.7L156.7 408.2L157.0 409.7L157.0 409.7L157.4 411.2L157.7 412.7L157.9 414.2L158.1 415.7L158.3 417.2L158.4 418.7L158.5 420.2L158.5 421.0L158.5 421.7L158.5 423.3L158.5 424.0L158.5 424.8L158.4 426.3L158.3 427.8L158.1 429.3L157.9 430.8L157.7 432.3L157.4 433.8L157.0 435.3L157.0 435.3L156.7 436.8L156.4 438.3L156.2 439.8L155.5 440.0L154.0 440.1L152.5 440.3L151.9 439.8L152.1 438.3L152.2 436.8L152.2 435.3L152.2 433.8L152.2 432.3L152.2 430.8L152.2 429.3L152.2 427.8L152.2 426.3L152.2 424.8L152.2 423.3L152.2 421.7L152.2 420.2L152.2 418.7L152.2 417.2L152.2 415.7L152.2 414.2L152.2 412.7L152.2 411.2L152.2 409.7L152.2 408.2L152.1 406.7ZM187.8 405.2L188.5 405.0L190.0 404.9L191.5 404.7L192.1 405.2L191.9 406.7L191.8 408.2L191.8 409.7L191.8 411.2L191.8 412.7L191.8 414.2L191.8 415.7L191.8 417.2L191.8 418.7L191.8 420.2L191.8 421.7L191.8 423.3L191.8 424.8L191.8 426.3L191.8 427.8L191.8 429.3L191.8 430.8L191.8 432.3L191.8 433.8L191.8 435.3L191.8 436.8L191.9 438.3L192.1 439.8L191.5 440.3L190.0 440.1L188.5 440.0L187.8 439.8L187.6 438.3L187.3 436.8L187.0 435.3L187.0 435.3L186.6 433.8L186.3 432.3L186.1 430.8L185.9 429.3L185.7 427.8L185.6 426.3L185.5 424.8L185.5 424.0L185.5 423.3L185.5 421.7L185.5 421.0L185.5 420.2L185.6 418.7L185.7 417.2L185.9 415.7L186.1 414.2L186.3 412.7L186.6 411.2L187.0 409.7L187.0 409.7L187.3 408.2L187.6 406.7Z"/>
<path fill="#fdcb31" fill-rule="evenodd" d="M152.0 405.2L152.5 404.8L154.0 404.9L155.5 405.0L156.1 405.2L156.3 406.7L156.5 408.2L156.8 409.7L157.0 410.7L157.1 411.2L157.4 412.7L157.7 414.2L157.9 415.7L158.1 417.2L158.2 418.7L158.2 420.2L158.3 421.7L158.3 423.3L158.2 424.8L158.2 426.3L158.1 427.8L157.9 429.3L157.7 430.8L157.4 432.3L157.1 433.8L157.0 434.3L156.8 435.3L156.5 436.8L156.3 438.3L156.1 439.8L155.5 440.0L154.0 440.1L152.5 440.2L152.0 439.8L152.2 438.3L152.2 436.8L152.2 435.3L152.2 433.8L152.2 432.3L152.2 430.8L152.2 429.3L152.2 427.8L152.2 426.3L152.2 424.8L152.2 423.3L152.2 421.7L152.2 420.2L152.2 418.7L152.2 417.2L152.2 415.7L152.2 414.2L152.2 412.7L152.2 411.2L152.2 409.7L152.2 408.2L152.2 406.7ZM187.9 405.2L188.5 405.0L190.0 404.9L191.5 404.8L192.0 405.2L191.8 406.7L191.8 408.2L191.8 409.7L191.8 411.2L191.8 412.7L191.8 414.2L191.8 415.7L191.8 417.2L191.8 418.7L191.8 420.2L191.8 421.7L191.8 423.3L191.8 424.8L191.8 426.3L191.8 427.8L191.8 429.3L191.8 430.8L191.8 432.3L191.8 433.8L191.8 435.3L191.8 436.8L191.8 438.3L192.0 439.8L191.5 440.2L190.0 440.1L188.5 440.0L187.9 439.8L187.7 438.3L187.5 436.8L187.2 435.3L187.0 434.3L186.9 433.8L186.6 432.3L186.3 430.8L186.1 429.3L185.9 427.8L185.8 426.3L185.8 424.8L185.7 423.3L185.7 421.7L185.8 420.2L185.8 418.7L185.9 417.2L186.1 415.7L186.3 414.2L186.6 412.7L186.9 411.2L187.0 410.7L187.2 409.7L187.5 408.2L187.7 406.7Z"/>
<path fill="#fad22c" fill-rule="evenodd" d="M152.1 405.2L152.5 404.9L154.0 405.0L155.5 405.1L155.9 405.2L156.1 406.7L156.4 408.2L156.6 409.7L156.9 411.2L157.0 411.8L157.2 412.7L157.5 414.2L157.7 415.7L157.8 417.2L157.9 418.7L158.0 420.2L158.1 421.7L158.1 423.3L158.0 424.8L157.9 426.3L157.8 427.8L157.7 429.3L157.5 430.8L157.2 432.3L157.0 433.2L156.9 433.8L156.6 435.3L156.4 436.8L156.1 438.3L155.9 439.8L155.5 439.9L154.0 440.0L152.5 440.1L152.1 439.8L152.2 438.3L152.3 436.8L152.3 435.3L152.3 433.8L152.3 432.3L152.3 430.8L152.3 429.3L152.3 427.8L152.3 426.3L152.3 424.8L152.3 423.3L152.3 421.7L152.3 420.2L152.3 418.7L152.3 417.2L152.3 415.7L152.3 414.2L152.3 412.7L152.3 411.2L152.3 409.7L152.3 408.2L152.2 406.7ZM188.1 405.2L188.5 405.1L190.0 405.0L191.5 404.9L191.9 405.2L191.8 406.7L191.7 408.2L191.7 409.7L191.7 411.2L191.7 412.7L191.7 414.2L191.7 415.7L191.7 417.2L191.7 418.7L191.7 420.2L191.7 421.7L191.7 423.3L191.7 424.8L191.7 426.3L191.7 427.8L191.7 429.3L191.7 430.8L191.7 432.3L191.7 433.8L191.7 435.3L191.7 436.8L191.8 438.3L191.9 439.8L191.5 440.1L190.0 440.0L188.5 439.9L188.1 439.8L187.9 438.3L187.6 436.8L187.4 435.3L187.1 433.8L187.0 433.2L186.8 432.3L186.5 430.8L186.3 429.3L186.2 427.8L186.1 426.3L186.0 424.8L185.9 423.3L185.9 421.7L186.0 420.2L186.1 418.7L186.2 417.2L186.3 415.7L186.5 414.2L186.8 412.7L187.0 411.8L187.1 411.2L187.4 409.7L187.6 408.2L187.9 406.7Z"/>
<path fill="#f7d927" fill-rule="evenodd" d="M152.2 405.2L152.5 404.9L154.0 405.0L155.5 405.1L155.8 405.2L156.0 406.7L156.2 408.2L156.4 409.7L156.6 411.2L156.9 412.7L157.0 413.0L157.2 414.2L157.4 415.7L157.6 417.2L157.7 418.7L157.8 420.2L157.8 421.7L157.8 423.3L157.8 424.8L157.7 426.3L157.6 427.8L157.4 429.3L157.2 430.8L157.0 432.0L156.9 432.3L156.6 433.8L156.4 435.3L156.2 436.8L156.0 438.3L155.8 439.8L155.5 439.9L154.0 440.0L152.5 440.1L152.2 439.8L152.3 438.3L152.3 436.8L152.3 435.3L152.3 433.8L152.3 432.3L152.3 430.8L152.3 429.3L152.3 427.8L152.3 426.3L152.3 424.8L152.3 423.3L152.3 421.7L152.3 420.2L152.3 418.7L152.3 417.2L152.3 415.7L152.3 414.2L152.3 412.7L152.3 411.2L152.3 409.7L152.3 408.2L152.3 406.7ZM188.2 405.2L188.5 405.1L190.0 405.0L191.5 404.9L191.8 405.2L191.7 406.7L191.7 408.2L191.7 409.7L191.7 411.2L191.7 412.7L191.7 414.2L191.7 415.7L191.7 417.2L191.7 418.7L191.7 420.2L191.7 421.7L191.7 423.3L191.7 424.8L191.7 426.3L191.7 427.8L191.7 429.3L191.7 430.8L191.7 432.3L191.7 433.8L191.7 435.3L191.7 436.8L191.7 438.3L191.8 439.8L191.5 440.1L190.0 440.0L188.5 439.9L188.2 439.8L188.0 438.3L187.8 436.8L187.6 435.3L187.4 433.8L187.1 432.3L187.0 432.0L186.8 430.8L186.6 429.3L186.4 427.8L186.3 426.3L186.2 424.8L186.2 423.3L186.2 421.7L186.2 420.2L186.3 418.7L186.4 417.2L186.6 415.7L186.8 414.2L187.0 413.0L187.1 412.7L187.4 411.2L187.6 409.7L187.8 408.2L188.0 406.7Z"/>
<path fill="#f5e122" fill-rule="evenodd" d="M152.2 405.2L152.5 405.0L154.0 405.1L155.5 405.2L155.7 405.2L155.8 406.7L156.0 408.2L156.1 409.7L156.3 411.2L156.6 412.7L157.0 414.2L157.0 414.4L157.2 415.7L157.3 417.2L157.5 418.7L157.5 420.2L157.6 421.7L157.6 423.3L157.5 424.8L157.5 426.3L157.3 427.8L157.2 429.3L157.0 430.6L157.0 430.8L156.6 432.3L156.3 433.8L156.1 435.3L156.0 436.8L155.8 438.3L155.7 439.8L155.5 439.8L154.0 439.9L152.5 440.0L152.2 439.8L152.3 438.3L152.4 436.8L152.4 435.3L152.4 433.8L152.4 432.3L152.4 430.8L152.4 429.3L152.4 427.8L152.4 426.3L152.4 424.8L152.4 423.3L152.4 421.7L152.4 420.2L152.4 418.7L152.4 417.2L152.4 415.7L152.4 414.2L152.4 412.7L152.4 411.2L152.4 409.7L152.4 408.2L152.3 406.7ZM188.3 405.2L188.5 405.2L190.0 405.1L191.5 405.0L191.8 405.2L191.7 406.7L191.6 408.2L191.6 409.7L191.6 411.2L191.6 412.7L191.6 414.2L191.6 415.7L191.6 417.2L191.6 418.7L191.6 420.2L191.6 421.7L191.6 423.3L191.6 424.8L191.6 426.3L191.6 427.8L191.6 429.3L191.6 430.8L191.6 432.3L191.6 433.8L191.6 435.3L191.6 436.8L191.7 438.3L191.8 439.8L191.5 440.0L190.0 439.9L188.5 439.8L188.3 439.8L188.2 438.3L188.0 436.8L187.9 435.3L187.7 433.8L187.4 432.3L187.0 430.8L187.0 430.6L186.8 429.3L186.7 427.8L186.5 426.3L186.5 424.8L186.4 423.3L186.4 421.7L186.5 420.2L186.5 418.7L186.7 417.2L186.8 415.7L187.0 414.4L187.0 414.2L187.4 412.7L187.7 411.2L187.9 409.7L188.0 408.2L188.2 406.7Z"/>
<path fill="#f5e91d" fill-rule="evenodd" d="M152.3 405.2L152.5 405.1L154.0 405.1L155.5 405.2L155.5 405.2L155.7 406.7L155.8 408.2L155.9 409.7L156.0 411.2L156.2 412.7L156.5 414.2L156.9 415.7L157.0 416.2L157.1 417.2L157.2 418.7L157.3 420.2L157.4 421.7L157.4 423.3L157.3 424.8L157.2 426.3L157.1 427.8L157.0 428.8L156.9 429.3L156.5 430.8L156.2 432.3L156.0 433.8L155.9 435.3L155.8 436.8L155.7 438.3L155.5 439.8L155.5 439.8L154.0 439.9L152.5 439.9L152.3 439.8L152.4 438.3L152.4 436.8L152.4 435.3L152.4 433.8L152.4 432.3L152.4 430.8L152.4 429.3L152.4 427.8L152.4 426.3L152.4 424.8L152.4 423.3L152.4 421.7L152.4 420.2L152.4 418.7L152.4 417.2L152.4 415.7L152.4 414.2L152.4 412.7L152.4 411.2L152.4 409.7L152.4 408.2L152.4 406.7ZM188.5 405.2L188.5 405.2L190.0 405.1L191.5 405.1L191.7 405.2L191.6 406.7L191.6 408.2L191.6 409.7L191.6 411.2L191.6 412.7L191.6 414.2L191.6 415.7L191.6 417.2L191.6 418.7L191.6 420.2L191.6 421.7L191.6 423.3L191.6 424.8L191.6 426.3L191.6 427.8L191.6 429.3L191.6 430.8L191.6 432.3L191.6 433.8L191.6 435.3L191.6 436.8L191.6 438.3L191.7 439.8L191.5 439.9L190.0 439.9L188.5 439.8L188.5 439.8L188.3 438.3L188.2 436.8L188.1 435.3L188.0 433.8L187.8 432.3L187.5 430.8L187.1 429.3L187.0 428.8L186.9 427.8L186.8 426.3L186.7 424.8L186.6 423.3L186.6 421.7L186.7 420.2L186.8 418.7L186.9 417.2L187.0 416.2L187.1 415.7L187.5 414.2L187.8 412.7L188.0 411.2L188.1 409.7L188.2 408.2L188.3 406.7Z"/>
<path fill="#f6f117" fill-rule="evenodd" d="M152.4 405.2L152.5 405.1L154.0 405.2L154.9 405.2L155.5 406.7L155.5 406.7L155.7 408.2L155.7 409.7L155.8 411.2L155.9 412.7L156.0 414.2L156.2 415.7L156.5 417.2L157.0 418.7L157.0 418.8L157.1 420.2L157.1 421.7L157.1 423.3L157.1 424.8L157.0 426.2L157.0 426.3L156.5 427.8L156.2 429.3L156.0 430.8L155.9 432.3L155.8 433.8L155.7 435.3L155.7 436.8L155.5 438.3L155.5 438.3L154.9 439.8L154.0 439.8L152.5 439.9L152.4 439.8L152.4 438.3L152.5 436.8L152.5 435.3L152.5 433.8L152.5 432.3L152.5 430.8L152.5 429.3L152.5 427.8L152.5 426.3L152.5 424.8L152.5 423.3L152.5 421.7L152.5 420.2L152.5 418.7L152.5 417.2L152.5 415.7L152.5 414.2L152.5 412.7L152.5 411.2L152.5 409.7L152.5 408.2L152.4 406.7ZM189.1 405.2L190.0 405.2L191.5 405.1L191.6 405.2L191.6 406.7L191.5 408.2L191.5 409.7L191.5 411.2L191.5 412.7L191.5 414.2L191.5 415.7L191.5 417.2L191.5 418.7L191.5 420.2L191.5 421.7L191.5 423.3L191.5 424.8L191.5 426.3L191.5 427.8L191.5 429.3L191.5 430.8L191.5 432.3L191.5 433.8L191.5 435.3L191.5 436.8L191.6 438.3L191.6 439.8L191.5 439.9L190.0 439.8L189.1 439.8L188.5 438.3L188.5 438.3L188.3 436.8L188.3 435.3L188.2 433.8L188.1 432.3L188.0 430.8L187.8 429.3L187.5 427.8L187.0 426.3L187.0 426.2L186.9 424.8L186.9 423.3L186.9 421.7L186.9 420.2L187.0 418.8L187.0 418.7L187.5 417.2L187.8 415.7L188.0 414.2L188.1 412.7L188.2 411.2L188.3 409.7L188.3 408.2L188.5 406.7L188.5 406.7Z"/>
<g filter="url(#soft)"><rect x="149.7" y="405.5" width="2.9" height="34.5" fill="#4abf94"/><rect x="192.3" y="405.5" width="2.9" height="34.5" fill="#4abf94"/>
<circle cx="152.4" cy="404.4" r="2.7" fill="#f5ed1a"/><circle cx="152.4" cy="440.8" r="2.7" fill="#f5ed1a"/><circle cx="192.2" cy="404.4" r="2.7" fill="#f5ed1a"/><circle cx="192.2" cy="440.8" r="2.7" fill="#f5ed1a"/></g>
<rect x="52.0" y="312.0" width="240.0" height="221.0" fill="none" stroke="#20204a" stroke-width="0.9" opacity="0.85"/>
<text x="47.8" y="316.3" text-anchor="end" font-family="Liberation Sans" font-size="8.6" fill="#333">300</text>
<text x="47.8" y="353.1" text-anchor="end" font-family="Liberation Sans" font-size="8.6" fill="#333">200</text>
<text x="47.8" y="390.0" text-anchor="end" font-family="Liberation Sans" font-size="8.6" fill="#333">100</text>
<text x="47.8" y="426.8" text-anchor="end" font-family="Liberation Sans" font-size="8.6" fill="#333">0</text>
<text x="47.8" y="463.6" text-anchor="end" font-family="Liberation Sans" font-size="8.6" fill="#333">-100</text>
<text x="47.8" y="500.5" text-anchor="end" font-family="Liberation Sans" font-size="8.6" fill="#333">-200</text>
<text x="47.8" y="537.3" text-anchor="end" font-family="Liberation Sans" font-size="8.6" fill="#333">-300</text>
<text x="52.0" y="546.2" text-anchor="middle" font-family="Liberation Sans" font-size="8.6" fill="#333">-300</text>
<text x="92.0" y="546.2" text-anchor="middle" font-family="Liberation Sans" font-size="8.6" fill="#333">-200</text>
<text x="132.0" y="546.2" text-anchor="middle" font-family="Liberation Sans" font-size="8.6" fill="#333">-100</text>
<text x="172.0" y="546.2" text-anchor="middle" font-family="Liberation Sans" font-size="8.6" fill="#333">0</text>
<text x="212.0" y="546.2" text-anchor="middle" font-family="Liberation Sans" font-size="8.6" fill="#333">100</text>
<text x="252.0" y="546.2" text-anchor="middle" font-family="Liberation Sans" font-size="8.6" fill="#333">200</text>
<text x="292.0" y="546.2" text-anchor="middle" font-family="Liberation Sans" font-size="8.6" fill="#333">300</text>
<text transform="translate(172.0,567.6) scale(1.15,1)" text-anchor="middle" font-family="Liberation Sans" font-size="14" fill="#111">x(nm)</text>
<text transform="translate(15.9,410.2) rotate(-90)" text-anchor="middle" font-family="Liberation Sans" font-size="14" fill="#111">y(nm)</text>
<rect x="308.4" y="312.0" width="17.2" height="221.0" fill="url(#cbg)" stroke="#333" stroke-width="0.9"/>
<text x="329" y="537.0" font-family="Liberation Sans" font-size="8.6" fill="#333">0</text>
<line x1="323.6" y1="510.9" x2="325.6" y2="510.9" stroke="#222" stroke-width="0.8"/>
<text x="329" y="514.9" font-family="Liberation Sans" font-size="8.6" fill="#333">5</text>
<line x1="323.6" y1="488.8" x2="325.6" y2="488.8" stroke="#222" stroke-width="0.8"/>
<text x="329" y="492.8" font-family="Liberation Sans" font-size="8.6" fill="#333">10</text>
<line x1="323.6" y1="466.7" x2="325.6" y2="466.7" stroke="#222" stroke-width="0.8"/>
<text x="329" y="470.7" font-family="Liberation Sans" font-size="8.6" fill="#333">15</text>
<line x1="323.6" y1="444.6" x2="325.6" y2="444.6" stroke="#222" stroke-width="0.8"/>
<text x="329" y="448.6" font-family="Liberation Sans" font-size="8.6" fill="#333">20</text>
<line x1="323.6" y1="422.5" x2="325.6" y2="422.5" stroke="#222" stroke-width="0.8"/>
<text x="329" y="426.5" font-family="Liberation Sans" font-size="8.6" fill="#333">25</text>
<line x1="323.6" y1="400.4" x2="325.6" y2="400.4" stroke="#222" stroke-width="0.8"/>
<text x="329" y="404.4" font-family="Liberation Sans" font-size="8.6" fill="#333">30</text>
<line x1="323.6" y1="378.3" x2="325.6" y2="378.3" stroke="#222" stroke-width="0.8"/>
<text x="329" y="382.3" font-family="Liberation Sans" font-size="8.6" fill="#333">35</text>
<line x1="323.6" y1="356.2" x2="325.6" y2="356.2" stroke="#222" stroke-width="0.8"/>
<text x="329" y="360.2" font-family="Liberation Sans" font-size="8.6" fill="#333">40</text>
<line x1="323.6" y1="334.1" x2="325.6" y2="334.1" stroke="#222" stroke-width="0.8"/>
<text x="329" y="338.1" font-family="Liberation Sans" font-size="8.6" fill="#333">45</text>
<text x="329" y="316.0" font-family="Liberation Sans" font-size="8.6" fill="#333">50</text>
<text x="1.2" y="600.2" font-family="Liberation Sans" font-size="15" fill="#111">(c)</text>
<rect x="50.0" y="593.0" width="243.0" height="222.0" fill="#382991"/>
<path fill="#3930a0" fill-rule="evenodd" d="M170.7 615.5L171.5 614.7L172.3 615.5L173.0 616.2L174.5 616.2L176.0 616.2L177.5 616.2L178.3 617.0L179.0 617.7L180.5 617.7L182.0 617.7L182.8 618.5L183.5 619.2L185.0 619.2L185.8 620.0L186.5 620.7L188.0 620.7L188.8 621.5L189.5 622.2L190.3 623.0L191.0 623.7L192.5 623.7L193.3 624.5L193.3 626.0L194.0 626.7L194.8 627.5L195.5 628.2L196.3 629.0L197.0 629.7L197.8 630.5L198.5 631.2L199.3 632.0L199.3 633.5L200.0 634.2L200.8 635.0L201.5 635.7L202.3 636.5L203.0 637.2L203.8 638.0L203.8 639.5L204.5 640.2L205.3 641.0L206.0 641.7L206.8 642.5L206.8 644.0L207.5 644.7L208.3 645.5L208.3 647.0L208.3 648.5L209.0 649.2L209.8 650.0L209.8 651.5L209.8 653.0L210.5 653.7L211.3 654.5L211.3 656.0L211.3 657.5L212.0 658.2L212.8 659.0L212.8 660.5L212.8 662.0L213.5 662.7L214.3 663.5L214.3 665.0L214.3 666.5L214.3 668.0L214.3 669.5L214.3 671.0L214.3 672.5L214.3 674.0L214.3 675.5L214.3 677.0L213.5 677.8L212.8 678.5L212.8 680.0L212.8 681.5L212.8 683.0L212.8 684.5L212.8 686.0L212.8 687.5L212.0 688.3L211.3 689.0L211.3 690.5L211.3 692.0L210.5 692.8L209.8 693.5L209.8 695.0L209.0 695.8L208.3 696.5L208.3 698.0L208.3 699.5L207.5 700.3L206.8 701.0L206.8 702.5L206.0 703.4L205.4 704.0L205.4 705.5L205.4 707.0L205.4 708.5L205.4 710.0L206.0 710.6L206.8 711.5L206.8 713.0L207.5 713.7L208.3 714.5L208.3 716.0L208.3 717.5L209.0 718.2L209.8 719.0L209.8 720.5L210.5 721.2L211.3 722.0L211.3 723.5L211.3 725.0L212.0 725.7L212.8 726.5L212.8 728.0L212.8 729.5L212.8 731.0L212.8 732.5L212.8 734.0L212.8 735.5L212.8 737.0L212.8 738.5L212.8 740.0L212.8 741.5L212.8 743.0L212.8 744.5L212.8 746.0L212.8 747.5L212.8 749.0L212.8 750.5L212.8 752.0L212.0 752.8L211.3 753.5L211.3 755.0L211.3 756.5L211.3 758.0L210.5 758.8L209.8 759.5L209.8 761.0L209.8 762.5L209.0 763.3L208.3 764.0L208.3 765.5L208.3 767.0L208.3 768.5L207.5 769.3L206.8 770.0L206.8 771.5L206.0 772.3L205.3 773.0L204.5 773.8L203.8 774.5L203.0 775.3L202.3 776.0L201.5 776.8L200.8 777.5L200.0 778.3L199.3 779.0L199.3 780.5L198.5 781.3L197.8 782.0L197.0 782.8L196.3 783.5L195.5 784.3L194.8 785.0L194.0 785.8L192.5 785.8L191.8 786.5L191.0 787.3L190.3 788.0L189.5 788.8L188.0 788.8L187.3 789.5L186.5 790.3L185.0 790.3L184.3 791.0L183.5 791.8L182.0 791.8L180.5 791.8L179.0 791.8L177.5 791.8L176.8 792.5L176.0 793.3L174.5 793.3L173.0 793.3L171.5 793.3L170.0 793.3L168.5 793.3L167.0 793.3L166.2 792.5L165.5 791.8L164.0 791.8L162.5 791.8L161.0 791.8L159.5 791.8L158.7 791.0L158.0 790.3L156.5 790.3L155.7 789.5L155.0 788.8L153.5 788.8L152.7 788.0L152.0 787.3L151.2 786.5L150.5 785.8L149.0 785.8L148.2 785.0L147.5 784.3L146.7 783.5L146.0 782.8L145.2 782.0L144.5 781.3L143.7 780.5L143.7 779.0L143.0 778.3L142.2 777.5L141.5 776.8L140.7 776.0L140.0 775.3L139.2 774.5L138.5 773.8L137.7 773.0L137.0 772.3L136.2 771.5L136.2 770.0L135.5 769.3L134.7 768.5L134.7 767.0L134.7 765.5L134.7 764.0L134.0 763.3L133.2 762.5L133.2 761.0L133.2 759.5L132.5 758.8L131.7 758.0L131.7 756.5L131.7 755.0L131.7 753.5L131.0 752.8L130.2 752.0L130.2 750.5L130.2 749.0L130.2 747.5L130.2 746.0L130.2 744.5L130.2 743.0L130.2 741.5L130.2 740.0L130.2 738.5L130.2 737.0L130.2 735.5L130.2 734.0L130.2 732.5L130.2 731.0L130.2 729.5L130.2 728.0L130.2 726.5L131.0 725.7L131.7 725.0L131.7 723.5L131.7 722.0L132.5 721.2L133.2 720.5L133.2 719.0L134.0 718.2L134.7 717.5L134.7 716.0L134.7 714.5L135.5 713.7L136.2 713.0L136.2 711.5L137.0 710.6L137.6 710.0L137.6 708.5L137.6 707.0L137.6 705.5L137.6 704.0L137.0 703.4L136.2 702.5L136.2 701.0L135.5 700.3L134.7 699.5L134.7 698.0L134.7 696.5L134.0 695.8L133.2 695.0L133.2 693.5L132.5 692.8L131.7 692.0L131.7 690.5L131.7 689.0L131.0 688.3L130.2 687.5L130.2 686.0L130.2 684.5L130.2 683.0L130.2 681.5L130.2 680.0L130.2 678.5L129.5 677.8L128.7 677.0L128.7 675.5L128.7 674.0L128.7 672.5L128.7 671.0L128.7 669.5L128.7 668.0L128.7 666.5L128.7 665.0L128.7 663.5L129.5 662.7L130.2 662.0L130.2 660.5L130.2 659.0L131.0 658.2L131.7 657.5L131.7 656.0L131.7 654.5L132.5 653.7L133.2 653.0L133.2 651.5L133.2 650.0L134.0 649.2L134.7 648.5L134.7 647.0L134.7 645.5L135.5 644.7L136.2 644.0L136.2 642.5L137.0 641.7L137.7 641.0L138.5 640.2L139.2 639.5L139.2 638.0L140.0 637.2L140.7 636.5L141.5 635.7L142.2 635.0L143.0 634.2L143.7 633.5L143.7 632.0L144.5 631.2L145.2 630.5L146.0 629.7L146.7 629.0L147.5 628.2L148.2 627.5L149.0 626.7L149.7 626.0L149.7 624.5L150.5 623.7L152.0 623.7L152.7 623.0L153.5 622.2L154.2 621.5L155.0 620.7L156.5 620.7L157.2 620.0L158.0 619.2L159.5 619.2L160.2 618.5L161.0 617.7L162.5 617.7L164.0 617.7L164.7 617.0L165.5 616.2L167.0 616.2L168.5 616.2L170.0 616.2Z"/>
<path fill="#3a37b0" fill-rule="evenodd" d="M163.2 668.0L164.0 667.2L165.5 667.2L167.0 667.2L168.5 667.2L170.0 667.2L171.5 667.2L173.0 667.2L174.5 667.2L176.0 667.2L177.5 667.2L179.0 667.2L179.8 668.0L180.5 668.7L182.0 668.7L183.5 668.7L184.3 669.5L185.0 670.2L186.5 670.2L187.3 671.0L188.0 671.7L189.5 671.7L190.3 672.5L191.0 673.2L191.9 674.0L192.5 674.6L193.4 675.5L194.0 676.1L195.0 677.0L195.5 677.5L196.5 678.5L197.0 679.0L198.1 680.0L198.5 680.4L199.6 681.5L199.7 683.0L200.0 683.3L201.2 684.5L201.2 686.0L200.0 687.3L199.2 687.5L199.2 689.0L199.2 690.5L199.2 692.0L199.2 693.5L199.2 695.0L199.2 696.5L199.2 698.0L199.2 699.5L199.2 701.0L199.2 702.5L199.2 704.0L199.2 705.5L199.2 707.0L199.2 708.5L199.2 710.0L199.2 711.5L199.2 713.0L199.2 714.5L199.2 716.0L199.2 717.5L199.2 719.0L199.2 720.5L200.0 720.7L201.2 722.0L201.2 723.5L200.0 724.7L199.7 725.0L199.6 726.5L198.5 727.6L198.1 728.0L197.0 729.0L196.5 729.5L195.5 730.5L195.0 731.0L194.0 731.9L193.4 732.5L192.5 733.4L191.9 734.0L191.0 734.8L190.3 735.5L189.5 736.3L188.0 736.3L187.3 737.0L186.5 737.8L185.0 737.8L184.3 738.5L183.5 739.3L182.0 739.3L180.5 739.3L179.8 740.0L179.0 740.8L177.5 740.8L176.0 740.8L174.5 740.8L173.0 740.8L171.5 740.8L170.0 740.8L168.5 740.8L167.0 740.8L165.5 740.8L164.0 740.8L163.2 740.0L162.5 739.3L161.0 739.3L159.5 739.3L158.7 738.5L158.0 737.8L156.5 737.8L155.7 737.0L155.0 736.3L153.5 736.3L152.7 735.5L152.0 734.8L151.1 734.0L150.5 733.4L149.6 732.5L149.0 731.9L148.0 731.0L147.5 730.5L146.5 729.5L146.0 729.0L144.9 728.0L144.5 727.6L143.4 726.5L143.3 725.0L143.0 724.7L141.8 723.5L141.8 722.0L143.0 720.7L143.8 720.5L143.8 719.0L143.8 717.5L143.8 716.0L143.8 714.5L143.8 713.0L143.8 711.5L143.8 710.0L143.8 708.5L143.8 707.0L143.8 705.5L143.8 704.0L143.8 702.5L143.8 701.0L143.8 699.5L143.8 698.0L143.8 696.5L143.8 695.0L143.8 693.5L143.8 692.0L143.8 690.5L143.8 689.0L143.8 687.5L143.0 687.3L141.8 686.0L141.8 684.5L143.0 683.3L143.3 683.0L143.4 681.5L144.5 680.4L144.9 680.0L146.0 679.0L146.5 678.5L147.5 677.5L148.0 677.0L149.0 676.1L149.6 675.5L150.5 674.6L151.1 674.0L152.0 673.2L152.7 672.5L153.5 671.7L155.0 671.7L155.7 671.0L156.5 670.2L158.0 670.2L158.7 669.5L159.5 668.7L161.0 668.7L162.5 668.7Z"/>
<path fill="#383ebf" fill-rule="evenodd" d="M149.2 680.0L150.5 679.4L151.2 680.0L152.0 681.4L153.5 681.4L155.0 681.4L156.5 681.4L158.0 681.4L159.5 681.4L161.0 681.4L162.5 681.4L164.0 681.4L165.5 681.4L167.0 681.4L168.5 681.4L170.0 681.4L171.5 681.4L173.0 681.4L174.5 681.4L176.0 681.4L177.5 681.4L179.0 681.4L180.5 681.4L182.0 681.4L183.5 681.4L185.0 681.4L186.5 681.4L188.0 681.4L189.5 681.4L191.0 681.4L191.8 680.0L192.5 679.4L193.8 680.0L194.0 680.1L195.5 680.7L196.6 681.5L197.0 681.8L198.2 683.0L198.5 683.6L199.1 684.5L199.2 686.0L198.5 686.2L197.0 686.7L196.5 687.5L195.6 689.0L195.6 690.5L195.6 692.0L195.6 693.5L195.6 695.0L195.6 696.5L195.6 698.0L195.6 699.5L195.6 701.0L195.6 702.5L195.6 704.0L195.6 705.5L195.6 707.0L195.6 708.5L195.6 710.0L195.6 711.5L195.6 713.0L195.6 714.5L195.6 716.0L195.6 717.5L195.6 719.0L196.5 720.5L197.0 721.3L198.5 721.8L199.2 722.0L199.1 723.5L198.5 724.4L198.2 725.0L197.0 726.2L196.6 726.5L195.5 727.3L194.0 727.9L193.8 728.0L192.5 728.6L191.8 728.0L191.0 726.6L189.5 726.6L188.0 726.6L186.5 726.6L185.0 726.6L183.5 726.6L182.0 726.6L180.5 726.6L179.0 726.6L177.5 726.6L176.0 726.6L174.5 726.6L173.0 726.6L171.5 726.6L170.0 726.6L168.5 726.6L167.0 726.6L165.5 726.6L164.0 726.6L162.5 726.6L161.0 726.6L159.5 726.6L158.0 726.6L156.5 726.6L155.0 726.6L153.5 726.6L152.0 726.6L151.2 728.0L150.5 728.6L149.2 728.0L149.0 727.9L147.5 727.3L146.4 726.5L146.0 726.2L144.8 725.0L144.5 724.4L143.9 723.5L143.8 722.0L144.5 721.8L146.0 721.3L146.5 720.5L147.4 719.0L147.4 717.5L147.4 716.0L147.4 714.5L147.4 713.0L147.4 711.5L147.4 710.0L147.4 708.5L147.4 707.0L147.4 705.5L147.4 704.0L147.4 702.5L147.4 701.0L147.4 699.5L147.4 698.0L147.4 696.5L147.4 695.0L147.4 693.5L147.4 692.0L147.4 690.5L147.4 689.0L146.5 687.5L146.0 686.7L144.5 686.2L143.8 686.0L143.9 684.5L144.5 683.6L144.8 683.0L146.0 681.8L146.4 681.5L147.5 680.7L149.0 680.1Z"/>
<path fill="#3346ce" fill-rule="evenodd" d="M148.7 683.0L149.0 682.7L150.5 681.7L151.4 683.0L152.0 683.5L153.5 683.9L154.4 684.5L155.0 685.1L156.5 685.5L158.0 685.5L159.5 685.5L161.0 685.5L162.5 685.5L164.0 685.5L165.5 685.5L167.0 685.5L168.5 685.5L170.0 685.5L171.5 685.5L173.0 685.5L174.5 685.5L176.0 685.5L177.5 685.5L179.0 685.5L180.5 685.5L182.0 685.5L183.5 685.5L185.0 685.5L186.5 685.5L188.0 685.1L188.6 684.5L189.5 683.9L191.0 683.5L191.6 683.0L192.5 681.7L194.0 682.7L194.3 683.0L195.4 684.5L195.5 685.5L195.6 686.0L195.5 687.5L195.5 687.5L194.0 688.9L194.0 689.0L193.9 690.5L193.9 692.0L193.9 693.5L193.9 695.0L193.9 696.5L193.9 698.0L193.9 699.5L193.9 701.0L193.9 702.5L193.9 704.0L193.9 705.5L193.9 707.0L193.9 708.5L193.9 710.0L193.9 711.5L193.9 713.0L193.9 714.5L193.9 716.0L193.9 717.5L194.0 719.0L194.0 719.1L195.5 720.5L195.5 720.5L195.6 722.0L195.5 722.5L195.4 723.5L194.3 725.0L194.0 725.3L192.5 726.3L191.6 725.0L191.0 724.5L189.5 724.1L188.6 723.5L188.0 722.9L186.5 722.5L185.0 722.5L183.5 722.5L182.0 722.5L180.5 722.5L179.0 722.5L177.5 722.5L176.0 722.5L174.5 722.5L173.0 722.5L171.5 722.5L170.0 722.5L168.5 722.5L167.0 722.5L165.5 722.5L164.0 722.5L162.5 722.5L161.0 722.5L159.5 722.5L158.0 722.5L156.5 722.5L155.0 722.9L154.4 723.5L153.5 724.1L152.0 724.5L151.4 725.0L150.5 726.3L149.0 725.3L148.7 725.0L147.6 723.5L147.5 722.5L147.4 722.0L147.5 720.5L147.5 720.5L149.0 719.1L149.0 719.0L149.1 717.5L149.1 716.0L149.1 714.5L149.1 713.0L149.1 711.5L149.1 710.0L149.1 708.5L149.1 707.0L149.1 705.5L149.1 704.0L149.1 702.5L149.1 701.0L149.1 699.5L149.1 698.0L149.1 696.5L149.1 695.0L149.1 693.5L149.1 692.0L149.1 690.5L149.0 689.0L149.0 688.9L147.5 687.5L147.5 687.5L147.4 686.0L147.5 685.5L147.6 684.5Z"/>
<path fill="#2850dc" fill-rule="evenodd" d="M149.1 684.5L150.5 683.0L152.0 684.2L152.6 684.5L153.5 684.8L154.7 686.0L155.0 686.1L156.5 686.2L158.0 686.2L159.5 686.2L161.0 686.2L162.3 687.5L162.5 687.7L164.0 687.7L165.5 687.7L167.0 687.7L168.5 687.7L170.0 687.7L171.5 687.7L173.0 687.7L174.5 687.7L176.0 687.7L177.5 687.7L179.0 687.7L180.5 687.7L180.7 687.5L182.0 686.2L183.5 686.2L185.0 686.2L186.5 686.2L188.0 686.1L188.3 686.0L189.5 684.8L190.4 684.5L191.0 684.2L192.5 683.0L193.9 684.5L194.0 685.3L194.2 686.0L194.1 687.5L194.0 687.6L193.0 689.0L192.9 690.5L192.9 692.0L192.9 693.5L192.9 695.0L192.9 696.5L192.9 698.0L192.9 699.5L192.9 701.0L192.9 702.5L192.9 704.0L192.9 705.5L192.9 707.0L192.9 708.5L192.9 710.0L192.9 711.5L192.9 713.0L192.9 714.5L192.9 716.0L192.9 717.5L193.0 719.0L194.0 720.4L194.1 720.5L194.2 722.0L194.0 722.7L193.9 723.5L192.5 725.0L191.0 723.8L190.4 723.5L189.5 723.2L188.3 722.0L188.0 721.9L186.5 721.8L185.0 721.8L183.5 721.8L182.0 721.8L180.7 720.5L180.5 720.3L179.0 720.3L177.5 720.3L176.0 720.3L174.5 720.3L173.0 720.3L171.5 720.3L170.0 720.3L168.5 720.3L167.0 720.3L165.5 720.3L164.0 720.3L162.5 720.3L162.3 720.5L161.0 721.8L159.5 721.8L158.0 721.8L156.5 721.8L155.0 721.9L154.7 722.0L153.5 723.2L152.6 723.5L152.0 723.8L150.5 725.0L149.1 723.5L149.0 722.7L148.8 722.0L148.9 720.5L149.0 720.4L150.0 719.0L150.1 717.5L150.1 716.0L150.1 714.5L150.1 713.0L150.1 711.5L150.1 710.0L150.1 708.5L150.1 707.0L150.1 705.5L150.1 704.0L150.1 702.5L150.1 701.0L150.1 699.5L150.1 698.0L150.1 696.5L150.1 695.0L150.1 693.5L150.1 692.0L150.1 690.5L150.0 689.0L149.0 687.6L148.9 687.5L148.8 686.0L149.0 685.3ZM152.0 693.3L151.0 693.5L151.0 695.0L151.0 696.5L151.0 698.0L151.0 699.5L151.0 701.0L151.0 702.5L151.0 704.0L151.0 705.5L151.0 707.0L151.0 708.5L151.0 710.0L151.0 711.5L151.0 713.0L151.0 714.5L152.0 714.7L152.1 714.5L152.1 713.0L152.1 711.5L152.1 710.0L152.1 708.5L152.1 707.0L152.1 705.5L152.1 704.0L152.1 702.5L152.1 701.0L152.1 699.5L152.1 698.0L152.1 696.5L152.1 695.0L152.1 693.5ZM191.0 693.3L190.9 693.5L190.9 695.0L190.9 696.5L190.9 698.0L190.9 699.5L190.9 701.0L190.9 702.5L190.9 704.0L190.9 705.5L190.9 707.0L190.9 708.5L190.9 710.0L190.9 711.5L190.9 713.0L190.9 714.5L191.0 714.7L192.0 714.5L192.0 713.0L192.0 711.5L192.0 710.0L192.0 708.5L192.0 707.0L192.0 705.5L192.0 704.0L192.0 702.5L192.0 701.0L192.0 699.5L192.0 698.0L192.0 696.5L192.0 695.0L192.0 693.5Z"/>
<path fill="#1b59e4" fill-rule="evenodd" d="M149.9 684.5L150.5 683.9L151.3 684.5L152.0 684.6L153.5 685.3L154.2 686.0L155.0 686.3L156.5 686.4L158.0 686.4L159.5 686.4L161.0 686.5L162.0 687.5L162.5 688.0L164.0 688.0L165.5 688.0L167.0 687.9L168.5 687.9L170.0 687.9L171.5 687.9L173.0 687.9L174.5 687.9L176.0 687.9L177.5 688.0L179.0 688.0L180.5 688.0L181.0 687.5L182.0 686.5L183.5 686.4L185.0 686.4L186.5 686.4L188.0 686.3L188.8 686.0L189.5 685.3L191.0 684.6L191.7 684.5L192.5 683.9L193.1 684.5L193.7 686.0L193.5 687.5L192.5 688.7L192.4 689.0L192.4 690.5L192.4 692.0L191.0 693.1L190.7 693.5L190.8 695.0L190.8 696.5L190.8 698.0L190.8 699.5L190.7 701.0L190.7 702.5L190.7 704.0L190.7 705.5L190.7 707.0L190.8 708.5L190.8 710.0L190.8 711.5L190.8 713.0L190.7 714.5L191.0 714.9L192.4 716.0L192.4 717.5L192.4 719.0L192.5 719.3L193.5 720.5L193.7 722.0L193.1 723.5L192.5 724.1L191.7 723.5L191.0 723.4L189.5 722.7L188.8 722.0L188.0 721.7L186.5 721.6L185.0 721.6L183.5 721.6L182.0 721.5L181.0 720.5L180.5 720.0L179.0 720.0L177.5 720.0L176.0 720.1L174.5 720.1L173.0 720.1L171.5 720.1L170.0 720.1L168.5 720.1L167.0 720.1L165.5 720.0L164.0 720.0L162.5 720.0L162.0 720.5L161.0 721.5L159.5 721.6L158.0 721.6L156.5 721.6L155.0 721.7L154.2 722.0L153.5 722.7L152.0 723.4L151.3 723.5L150.5 724.1L149.9 723.5L149.3 722.0L149.5 720.5L150.5 719.3L150.6 719.0L150.6 717.5L150.6 716.0L152.0 714.9L152.3 714.5L152.2 713.0L152.2 711.5L152.2 710.0L152.2 708.5L152.3 707.0L152.3 705.5L152.3 704.0L152.3 702.5L152.3 701.0L152.2 699.5L152.2 698.0L152.2 696.5L152.2 695.0L152.3 693.5L152.0 693.1L150.6 692.0L150.6 690.5L150.6 689.0L150.5 688.7L149.5 687.5L149.3 686.0Z"/>
<path fill="#1761e7" fill-rule="evenodd" d="M149.7 686.0L150.5 684.6L152.0 684.7L153.5 685.8L153.7 686.0L155.0 686.6L156.5 686.6L158.0 686.6L159.5 686.7L161.0 686.7L161.8 687.5L162.5 688.2L164.0 688.2L165.5 688.2L167.0 688.2L168.5 688.2L170.0 688.2L171.5 688.2L173.0 688.2L174.5 688.2L176.0 688.2L177.5 688.2L179.0 688.2L180.5 688.2L181.2 687.5L182.0 686.7L183.5 686.7L185.0 686.6L186.5 686.6L188.0 686.6L189.3 686.0L189.5 685.8L191.0 684.7L192.5 684.6L193.3 686.0L192.9 687.5L192.5 688.0L192.2 689.0L192.1 690.5L192.1 692.0L191.0 692.9L190.6 693.5L190.6 695.0L190.6 696.5L190.6 698.0L190.6 699.5L190.6 701.0L190.6 702.5L190.6 704.0L190.6 705.5L190.6 707.0L190.6 708.5L190.6 710.0L190.6 711.5L190.6 713.0L190.6 714.5L191.0 715.1L192.1 716.0L192.1 717.5L192.2 719.0L192.5 720.0L192.9 720.5L193.3 722.0L192.5 723.4L191.0 723.3L189.5 722.2L189.3 722.0L188.0 721.4L186.5 721.4L185.0 721.4L183.5 721.3L182.0 721.3L181.2 720.5L180.5 719.8L179.0 719.8L177.5 719.8L176.0 719.8L174.5 719.8L173.0 719.8L171.5 719.8L170.0 719.8L168.5 719.8L167.0 719.8L165.5 719.8L164.0 719.8L162.5 719.8L161.8 720.5L161.0 721.3L159.5 721.3L158.0 721.4L156.5 721.4L155.0 721.4L153.7 722.0L153.5 722.2L152.0 723.3L150.5 723.4L149.7 722.0L150.1 720.5L150.5 720.0L150.8 719.0L150.9 717.5L150.9 716.0L152.0 715.1L152.4 714.5L152.4 713.0L152.4 711.5L152.4 710.0L152.4 708.5L152.4 707.0L152.4 705.5L152.4 704.0L152.4 702.5L152.4 701.0L152.4 699.5L152.4 698.0L152.4 696.5L152.4 695.0L152.4 693.5L152.0 692.9L150.9 692.0L150.9 690.5L150.8 689.0L150.5 688.0L150.1 687.5Z"/>
<path fill="#1967e7" fill-rule="evenodd" d="M150.1 686.0L150.5 685.3L152.0 684.7L153.4 686.0L153.5 686.1L155.0 686.8L156.5 686.8L158.0 686.9L159.5 686.9L161.0 687.0L161.5 687.5L162.5 688.5L164.0 688.5L165.5 688.5L167.0 688.4L168.5 688.4L170.0 688.4L171.5 688.4L173.0 688.4L174.5 688.4L176.0 688.4L177.5 688.5L179.0 688.5L180.5 688.5L181.5 687.5L182.0 687.0L183.5 686.9L185.0 686.9L186.5 686.8L188.0 686.8L189.5 686.1L189.6 686.0L191.0 684.7L192.5 685.3L192.9 686.0L192.5 687.3L192.5 687.5L192.0 689.0L191.9 690.5L191.9 692.0L191.0 692.7L190.4 693.5L190.5 695.0L190.5 696.5L190.5 698.0L190.5 699.5L190.5 701.0L190.5 702.5L190.5 704.0L190.5 705.5L190.5 707.0L190.5 708.5L190.5 710.0L190.5 711.5L190.5 713.0L190.4 714.5L191.0 715.3L191.9 716.0L191.9 717.5L192.0 719.0L192.5 720.5L192.5 720.7L192.9 722.0L192.5 722.7L191.0 723.3L189.6 722.0L189.5 721.9L188.0 721.2L186.5 721.2L185.0 721.1L183.5 721.1L182.0 721.0L181.5 720.5L180.5 719.5L179.0 719.5L177.5 719.5L176.0 719.6L174.5 719.6L173.0 719.6L171.5 719.6L170.0 719.6L168.5 719.6L167.0 719.6L165.5 719.5L164.0 719.5L162.5 719.5L161.5 720.5L161.0 721.0L159.5 721.1L158.0 721.1L156.5 721.2L155.0 721.2L153.5 721.9L153.4 722.0L152.0 723.3L150.5 722.7L150.1 722.0L150.5 720.7L150.5 720.5L151.0 719.0L151.1 717.5L151.1 716.0L152.0 715.3L152.6 714.5L152.5 713.0L152.5 711.5L152.5 710.0L152.5 708.5L152.5 707.0L152.5 705.5L152.5 704.0L152.5 702.5L152.5 701.0L152.5 699.5L152.5 698.0L152.5 696.5L152.5 695.0L152.6 693.5L152.0 692.7L151.1 692.0L151.1 690.5L151.0 689.0L150.5 687.5L150.5 687.3Z"/>
<path fill="#1c6de7" fill-rule="evenodd" d="M150.5 686.0L150.5 685.9L152.0 684.8L153.3 686.0L153.5 686.3L155.0 687.0L156.5 687.1L158.0 687.1L159.5 687.2L161.0 687.2L161.3 687.5L162.5 688.7L164.0 688.7L165.5 688.7L167.0 688.7L168.5 688.7L170.0 688.7L171.5 688.7L173.0 688.7L174.5 688.7L176.0 688.7L177.5 688.7L179.0 688.7L180.5 688.7L181.7 687.5L182.0 687.2L183.5 687.2L185.0 687.1L186.5 687.1L188.0 687.0L189.5 686.3L189.7 686.0L191.0 684.8L192.5 685.9L192.5 686.0L192.5 686.1L192.3 687.5L191.8 689.0L191.7 690.5L191.6 692.0L191.0 692.5L190.3 693.5L190.3 695.0L190.4 696.5L190.4 698.0L190.3 699.5L190.3 701.0L190.3 702.5L190.3 704.0L190.3 705.5L190.3 707.0L190.3 708.5L190.4 710.0L190.4 711.5L190.3 713.0L190.3 714.5L191.0 715.5L191.6 716.0L191.7 717.5L191.8 719.0L192.3 720.5L192.5 721.9L192.5 722.0L192.5 722.1L191.0 723.2L189.7 722.0L189.5 721.7L188.0 721.0L186.5 720.9L185.0 720.9L183.5 720.8L182.0 720.8L181.7 720.5L180.5 719.3L179.0 719.3L177.5 719.3L176.0 719.3L174.5 719.3L173.0 719.3L171.5 719.3L170.0 719.3L168.5 719.3L167.0 719.3L165.5 719.3L164.0 719.3L162.5 719.3L161.3 720.5L161.0 720.8L159.5 720.8L158.0 720.9L156.5 720.9L155.0 721.0L153.5 721.7L153.3 722.0L152.0 723.2L150.5 722.1L150.5 722.0L150.5 721.9L150.7 720.5L151.2 719.0L151.3 717.5L151.4 716.0L152.0 715.5L152.7 714.5L152.7 713.0L152.6 711.5L152.6 710.0L152.7 708.5L152.7 707.0L152.7 705.5L152.7 704.0L152.7 702.5L152.7 701.0L152.7 699.5L152.6 698.0L152.6 696.5L152.7 695.0L152.7 693.5L152.0 692.5L151.4 692.0L151.3 690.5L151.2 689.0L150.7 687.5L150.5 686.1Z"/>
<path fill="#1e72e5" fill-rule="evenodd" d="M150.6 686.0L152.0 684.9L153.2 686.0L153.5 686.6L155.0 687.2L156.5 687.3L158.0 687.3L159.5 687.4L161.0 687.5L161.0 687.5L161.0 688.1L159.5 688.5L158.0 688.7L156.5 688.9L156.3 689.0L155.9 690.5L156.0 692.0L156.1 693.5L156.1 695.0L156.2 696.5L156.3 698.0L156.3 699.5L156.3 701.0L156.3 702.5L156.3 704.0L156.3 705.5L156.3 707.0L156.3 708.5L156.3 710.0L156.2 711.5L156.1 713.0L156.1 714.5L156.0 716.0L155.9 717.5L156.3 719.0L156.5 719.1L158.0 719.3L159.5 719.5L161.0 719.9L161.0 720.5L161.0 720.5L159.5 720.6L158.0 720.7L156.5 720.7L155.0 720.8L153.5 721.4L153.2 722.0L152.0 723.1L150.6 722.0L150.9 720.5L151.5 719.0L151.6 717.5L151.6 716.0L152.0 715.7L152.8 714.5L152.8 713.0L152.8 711.5L152.8 710.0L152.8 708.5L152.8 707.0L152.8 705.5L152.8 704.0L152.8 702.5L152.8 701.0L152.8 699.5L152.8 698.0L152.8 696.5L152.8 695.0L152.8 693.5L152.0 692.3L151.6 692.0L151.6 690.5L151.5 689.0L150.9 687.5ZM189.8 686.0L191.0 684.9L192.4 686.0L192.1 687.5L191.5 689.0L191.4 690.5L191.4 692.0L191.0 692.3L190.2 693.5L190.2 695.0L190.2 696.5L190.2 698.0L190.2 699.5L190.2 701.0L190.2 702.5L190.2 704.0L190.2 705.5L190.2 707.0L190.2 708.5L190.2 710.0L190.2 711.5L190.2 713.0L190.2 714.5L191.0 715.7L191.4 716.0L191.4 717.5L191.5 719.0L192.1 720.5L192.4 722.0L191.0 723.1L189.8 722.0L189.5 721.4L188.0 720.8L186.5 720.7L185.0 720.7L183.5 720.6L182.0 720.5L182.0 720.5L182.0 719.9L183.5 719.5L185.0 719.3L186.5 719.1L186.7 719.0L187.1 717.5L187.0 716.0L186.9 714.5L186.9 713.0L186.8 711.5L186.7 710.0L186.7 708.5L186.7 707.0L186.7 705.5L186.7 704.0L186.7 702.5L186.7 701.0L186.7 699.5L186.7 698.0L186.8 696.5L186.9 695.0L186.9 693.5L187.0 692.0L187.1 690.5L186.7 689.0L186.5 688.9L185.0 688.7L183.5 688.5L182.0 688.1L182.0 687.5L182.0 687.5L183.5 687.4L185.0 687.3L186.5 687.3L188.0 687.2L189.5 686.6ZM162.7 689.0L164.0 689.0L165.5 689.0L167.0 688.9L168.5 688.9L170.0 688.9L171.5 688.9L173.0 688.9L174.5 688.9L176.0 688.9L177.5 689.0L179.0 689.0L180.3 689.0L179.0 689.2L177.5 689.3L176.0 689.5L174.5 689.5L173.0 689.6L171.5 689.6L170.0 689.6L168.5 689.5L167.0 689.5L165.5 689.3L164.0 689.2ZM162.7 719.0L164.0 718.8L165.5 718.7L167.0 718.5L168.5 718.5L170.0 718.4L171.5 718.4L173.0 718.4L174.5 718.5L176.0 718.5L177.5 718.7L179.0 718.8L180.3 719.0L179.0 719.0L177.5 719.0L176.0 719.1L174.5 719.1L173.0 719.1L171.5 719.1L170.0 719.1L168.5 719.1L167.0 719.1L165.5 719.0L164.0 719.0Z"/>
<path fill="#2078e4" fill-rule="evenodd" d="M150.7 686.0L152.0 685.0L153.1 686.0L153.5 686.8L155.0 687.4L156.4 687.5L155.0 688.0L154.7 689.0L154.7 690.5L154.8 692.0L154.9 693.5L154.9 695.0L155.0 696.5L155.0 698.0L155.0 698.3L155.1 699.5L155.1 701.0L155.2 702.5L155.2 704.0L155.2 705.5L155.1 707.0L155.1 708.5L155.0 709.7L155.0 710.0L155.0 711.5L154.9 713.0L154.9 714.5L154.8 716.0L154.7 717.5L154.7 719.0L155.0 720.0L156.4 720.5L155.0 720.6L153.5 721.2L153.1 722.0L152.0 723.0L150.7 722.0L151.1 720.5L151.7 719.0L151.8 717.5L151.9 716.0L152.0 715.9L153.0 714.5L152.9 713.0L152.9 711.5L152.9 710.0L152.9 708.5L153.0 707.0L153.0 705.5L153.0 704.0L153.0 702.5L153.0 701.0L152.9 699.5L152.9 698.0L152.9 696.5L152.9 695.0L153.0 693.5L152.0 692.1L151.9 692.0L151.8 690.5L151.7 689.0L151.1 687.5ZM189.9 686.0L191.0 685.0L192.3 686.0L191.9 687.5L191.3 689.0L191.2 690.5L191.1 692.0L191.0 692.1L190.0 693.5L190.1 695.0L190.1 696.5L190.1 698.0L190.1 699.5L190.0 701.0L190.0 702.5L190.0 704.0L190.0 705.5L190.0 707.0L190.1 708.5L190.1 710.0L190.1 711.5L190.1 713.0L190.0 714.5L191.0 715.9L191.1 716.0L191.2 717.5L191.3 719.0L191.9 720.5L192.3 722.0L191.0 723.0L189.9 722.0L189.5 721.2L188.0 720.6L186.6 720.5L188.0 720.0L188.3 719.0L188.3 717.5L188.2 716.0L188.1 714.5L188.1 713.0L188.0 711.5L188.0 710.0L188.0 709.7L187.9 708.5L187.9 707.0L187.8 705.5L187.8 704.0L187.8 702.5L187.9 701.0L187.9 699.5L188.0 698.3L188.0 698.0L188.0 696.5L188.1 695.0L188.1 693.5L188.2 692.0L188.3 690.5L188.3 689.0L188.0 688.0L186.6 687.5L188.0 687.4L189.5 686.8Z"/>
<path fill="#1f7ee2" fill-rule="evenodd" d="M150.9 686.0L152.0 685.1L153.0 686.0L153.5 687.0L154.7 687.5L154.1 689.0L154.2 690.5L154.4 692.0L154.5 693.5L154.6 695.0L154.6 696.5L154.6 698.0L154.6 699.5L154.6 701.0L154.6 702.5L154.6 704.0L154.6 705.5L154.6 707.0L154.6 708.5L154.6 710.0L154.6 711.5L154.6 713.0L154.5 714.5L154.4 716.0L154.2 717.5L154.1 719.0L154.7 720.5L153.5 721.0L153.0 722.0L152.0 722.9L150.9 722.0L151.2 720.5L151.9 719.0L152.0 717.8L152.1 717.5L152.3 716.0L153.1 714.5L153.1 713.0L153.0 711.5L153.1 710.0L153.1 708.5L153.1 707.0L153.1 705.5L153.1 704.0L153.1 702.5L153.1 701.0L153.1 699.5L153.1 698.0L153.0 696.5L153.1 695.0L153.1 693.5L152.3 692.0L152.1 690.5L152.0 690.2L151.9 689.0L151.2 687.5ZM190.0 686.0L191.0 685.1L192.1 686.0L191.8 687.5L191.1 689.0L191.0 690.2L190.9 690.5L190.7 692.0L189.9 693.5L189.9 695.0L190.0 696.5L189.9 698.0L189.9 699.5L189.9 701.0L189.9 702.5L189.9 704.0L189.9 705.5L189.9 707.0L189.9 708.5L189.9 710.0L190.0 711.5L189.9 713.0L189.9 714.5L190.7 716.0L190.9 717.5L191.0 717.8L191.1 719.0L191.8 720.5L192.1 722.0L191.0 722.9L190.0 722.0L189.5 721.0L188.3 720.5L188.9 719.0L188.8 717.5L188.6 716.0L188.5 714.5L188.4 713.0L188.4 711.5L188.4 710.0L188.4 708.5L188.4 707.0L188.4 705.5L188.4 704.0L188.4 702.5L188.4 701.0L188.4 699.5L188.4 698.0L188.4 696.5L188.4 695.0L188.5 693.5L188.6 692.0L188.8 690.5L188.9 689.0L188.3 687.5L189.5 687.0Z"/>
<path fill="#1c84df" fill-rule="evenodd" d="M151.0 686.0L152.0 685.2L152.9 686.0L153.5 687.2L154.2 687.5L153.6 689.0L153.7 690.5L153.9 692.0L154.1 693.5L154.2 695.0L154.3 696.5L154.3 698.0L154.3 699.5L154.2 701.0L154.2 702.5L154.2 704.0L154.2 705.5L154.2 707.0L154.3 708.5L154.3 710.0L154.3 711.5L154.2 713.0L154.1 714.5L153.9 716.0L153.7 717.5L153.6 719.0L154.2 720.5L153.5 720.8L152.9 722.0L152.0 722.8L151.0 722.0L151.4 720.5L152.0 719.2L153.2 719.0L153.1 717.5L152.9 716.0L153.3 714.5L153.2 713.0L153.2 711.5L153.2 710.0L153.2 708.5L153.2 707.0L153.3 705.5L153.3 704.0L153.3 702.5L153.2 701.0L153.2 699.5L153.2 698.0L153.2 696.5L153.2 695.0L153.3 693.5L152.9 692.0L153.1 690.5L153.2 689.0L152.0 688.8L151.4 687.5ZM190.1 686.0L191.0 685.2L192.0 686.0L191.6 687.5L191.0 688.8L189.8 689.0L189.9 690.5L190.1 692.0L189.7 693.5L189.8 695.0L189.8 696.5L189.8 698.0L189.8 699.5L189.8 701.0L189.7 702.5L189.7 704.0L189.7 705.5L189.8 707.0L189.8 708.5L189.8 710.0L189.8 711.5L189.8 713.0L189.7 714.5L190.1 716.0L189.9 717.5L189.8 719.0L191.0 719.2L191.6 720.5L192.0 722.0L191.0 722.8L190.1 722.0L189.5 720.8L188.8 720.5L189.4 719.0L189.3 717.5L189.1 716.0L188.9 714.5L188.8 713.0L188.7 711.5L188.7 710.0L188.7 708.5L188.8 707.0L188.8 705.5L188.8 704.0L188.8 702.5L188.8 701.0L188.7 699.5L188.7 698.0L188.7 696.5L188.8 695.0L188.9 693.5L189.1 692.0L189.3 690.5L189.4 689.0L188.8 687.5L189.5 687.2Z"/>
<path fill="#1a8ade" fill-rule="evenodd" d="M151.1 686.0L152.0 685.3L152.8 686.0L153.5 687.4L153.8 687.5L153.5 688.1L152.0 688.4L151.6 687.5ZM190.2 686.0L191.0 685.3L191.9 686.0L191.4 687.5L191.0 688.4L189.5 688.1L189.2 687.5L189.5 687.4ZM153.4 693.5L153.5 692.1L153.7 693.5L153.9 695.0L154.0 696.5L154.0 698.0L153.9 699.5L153.8 701.0L153.8 702.5L153.8 704.0L153.8 705.5L153.8 707.0L153.9 708.5L154.0 710.0L154.0 711.5L153.9 713.0L153.7 714.5L153.5 715.9L153.4 714.5L153.4 713.0L153.3 711.5L153.3 710.0L153.4 708.5L153.4 707.0L153.4 705.5L153.4 704.0L153.4 702.5L153.4 701.0L153.4 699.5L153.3 698.0L153.3 696.5L153.4 695.0ZM189.3 693.5L189.5 692.1L189.6 693.5L189.6 695.0L189.7 696.5L189.7 698.0L189.6 699.5L189.6 701.0L189.6 702.5L189.6 704.0L189.6 705.5L189.6 707.0L189.6 708.5L189.7 710.0L189.7 711.5L189.6 713.0L189.6 714.5L189.5 715.9L189.3 714.5L189.1 713.0L189.0 711.5L189.0 710.0L189.1 708.5L189.2 707.0L189.2 705.5L189.2 704.0L189.2 702.5L189.2 701.0L189.1 699.5L189.0 698.0L189.0 696.5L189.1 695.0ZM151.6 720.5L152.0 719.6L153.5 719.9L153.8 720.5L153.5 720.6L152.8 722.0L152.0 722.7L151.1 722.0ZM189.2 720.5L189.5 719.9L191.0 719.6L191.4 720.5L191.9 722.0L191.0 722.7L190.2 722.0L189.5 720.6Z"/>
<path fill="#1691dc" fill-rule="evenodd" d="M151.2 686.0L152.0 685.4L152.7 686.0L153.2 687.5L152.0 688.1L151.7 687.5ZM190.3 686.0L191.0 685.4L191.8 686.0L191.3 687.5L191.0 688.1L189.8 687.5ZM153.5 695.0L153.5 694.9L153.5 695.0L153.7 696.5L153.6 698.0L153.5 699.5L153.5 699.6L153.5 699.5L153.5 698.0L153.4 696.5ZM189.5 695.0L189.5 694.9L189.5 695.0L189.6 696.5L189.5 698.0L189.5 699.5L189.5 699.6L189.5 699.5L189.4 698.0L189.3 696.5ZM153.5 708.5L153.5 708.4L153.5 708.5L153.6 710.0L153.7 711.5L153.5 713.0L153.5 713.1L153.5 713.0L153.4 711.5L153.5 710.0ZM189.5 708.5L189.5 708.4L189.5 708.5L189.5 710.0L189.6 711.5L189.5 713.0L189.5 713.1L189.5 713.0L189.3 711.5L189.4 710.0ZM151.7 720.5L152.0 719.9L153.2 720.5L152.7 722.0L152.0 722.6L151.2 722.0ZM189.8 720.5L191.0 719.9L191.3 720.5L191.8 722.0L191.0 722.6L190.3 722.0Z"/>
<path fill="#1397da" fill-rule="evenodd" d="M151.4 686.0L152.0 685.5L152.5 686.0L152.4 687.5L152.0 687.7L151.9 687.5ZM190.5 686.0L191.0 685.5L191.6 686.0L191.1 687.5L191.0 687.7L190.6 687.5ZM151.9 720.5L152.0 720.3L152.4 720.5L152.5 722.0L152.0 722.5L151.4 722.0ZM190.6 720.5L191.0 720.3L191.1 720.5L191.6 722.0L191.0 722.5L190.5 722.0Z"/>
<path fill="#109cd7" fill-rule="evenodd" d="M151.5 686.0L152.0 685.6L152.4 686.0L152.0 687.3ZM190.6 686.0L191.0 685.6L191.5 686.0L191.0 687.3ZM151.5 722.0L152.0 720.7L152.4 722.0L152.0 722.4ZM190.6 722.0L191.0 720.7L191.5 722.0L191.0 722.4Z"/>
<path fill="#0fa1d3" fill-rule="evenodd" d="M151.6 686.0L152.0 685.7L152.3 686.0L152.0 687.0ZM190.7 686.0L191.0 685.7L191.4 686.0L191.0 687.0ZM151.6 722.0L152.0 721.0L152.3 722.0L152.0 722.3ZM190.7 722.0L191.0 721.0L191.4 722.0L191.0 722.3Z"/>
<path fill="#0ea6cf" fill-rule="evenodd" d="M151.7 686.0L152.0 685.8L152.2 686.0L152.0 686.7ZM190.8 686.0L191.0 685.8L191.3 686.0L191.0 686.7ZM151.7 722.0L152.0 721.3L152.2 722.0L152.0 722.2ZM190.8 722.0L191.0 721.3L191.3 722.0L191.0 722.2Z"/>
<path fill="#0daaca" fill-rule="evenodd" d="M151.9 686.0L152.0 685.9L152.1 686.0L152.0 686.3ZM190.9 686.0L191.0 685.9L191.1 686.0L191.0 686.3ZM151.9 722.0L152.0 721.7L152.1 722.0L152.0 722.1ZM190.9 722.0L191.0 721.7L191.1 722.0L191.0 722.1Z"/>
<path fill="#0faec4" fill-rule="evenodd" d="M152.0 686.0L152.0 686.0L152.0 686.0L152.0 686.0ZM191.0 686.0L191.0 686.0L191.0 686.0L191.0 686.0ZM152.0 722.0L152.0 722.0L152.0 722.0L152.0 722.0ZM191.0 722.0L191.0 722.0L191.0 722.0L191.0 722.0Z"/>
<rect x="50.0" y="593.0" width="243.0" height="222.0" fill="none" stroke="#20204a" stroke-width="0.9" opacity="0.85"/>
<text x="47.8" y="597.3" text-anchor="end" font-family="Liberation Sans" font-size="8.6" fill="#333">300</text>
<text x="47.8" y="634.3" text-anchor="end" font-family="Liberation Sans" font-size="8.6" fill="#333">200</text>
<text x="47.8" y="671.3" text-anchor="end" font-family="Liberation Sans" font-size="8.6" fill="#333">100</text>
<text x="47.8" y="708.3" text-anchor="end" font-family="Liberation Sans" font-size="8.6" fill="#333">0</text>
<text x="47.8" y="745.3" text-anchor="end" font-family="Liberation Sans" font-size="8.6" fill="#333">-100</text>
<text x="47.8" y="782.3" text-anchor="end" font-family="Liberation Sans" font-size="8.6" fill="#333">-200</text>
<text x="47.8" y="819.3" text-anchor="end" font-family="Liberation Sans" font-size="8.6" fill="#333">-300</text>
<text x="50.0" y="828.2" text-anchor="middle" font-family="Liberation Sans" font-size="8.6" fill="#333">-300</text>
<text x="90.5" y="828.2" text-anchor="middle" font-family="Liberation Sans" font-size="8.6" fill="#333">-200</text>
<text x="131.0" y="828.2" text-anchor="middle" font-family="Liberation Sans" font-size="8.6" fill="#333">-100</text>
<text x="171.5" y="828.2" text-anchor="middle" font-family="Liberation Sans" font-size="8.6" fill="#333">0</text>
<text x="212.0" y="828.2" text-anchor="middle" font-family="Liberation Sans" font-size="8.6" fill="#333">100</text>
<text x="252.5" y="828.2" text-anchor="middle" font-family="Liberation Sans" font-size="8.6" fill="#333">200</text>
<text x="293.0" y="828.2" text-anchor="middle" font-family="Liberation Sans" font-size="8.6" fill="#333">300</text>
<text transform="translate(171.5,848.8) scale(1.15,1)" text-anchor="middle" font-family="Liberation Sans" font-size="14" fill="#111">x(nm)</text>
<text transform="translate(15.9,700.6) rotate(-90)" text-anchor="middle" font-family="Liberation Sans" font-size="14" fill="#111">y(nm)</text>
<rect x="309.5" y="593.0" width="17.3" height="222.0" fill="url(#cbg)" stroke="#333" stroke-width="0.9"/>
<text x="329" y="819.0" font-family="Liberation Sans" font-size="8.6" fill="#333">0</text>
<line x1="324.8" y1="792.8" x2="326.8" y2="792.8" stroke="#222" stroke-width="0.8"/>
<text x="329" y="796.8" font-family="Liberation Sans" font-size="8.6" fill="#333">5</text>
<line x1="324.8" y1="770.6" x2="326.8" y2="770.6" stroke="#222" stroke-width="0.8"/>
<text x="329" y="774.6" font-family="Liberation Sans" font-size="8.6" fill="#333">10</text>
<line x1="324.8" y1="748.4" x2="326.8" y2="748.4" stroke="#222" stroke-width="0.8"/>
<text x="329" y="752.4" font-family="Liberation Sans" font-size="8.6" fill="#333">15</text>
<line x1="324.8" y1="726.2" x2="326.8" y2="726.2" stroke="#222" stroke-width="0.8"/>
<text x="329" y="730.2" font-family="Liberation Sans" font-size="8.6" fill="#333">20</text>
<line x1="324.8" y1="704.0" x2="326.8" y2="704.0" stroke="#222" stroke-width="0.8"/>
<text x="329" y="708.0" font-family="Liberation Sans" font-size="8.6" fill="#333">25</text>
<line x1="324.8" y1="681.8" x2="326.8" y2="681.8" stroke="#222" stroke-width="0.8"/>
<text x="329" y="685.8" font-family="Liberation Sans" font-size="8.6" fill="#333">30</text>
<line x1="324.8" y1="659.6" x2="326.8" y2="659.6" stroke="#222" stroke-width="0.8"/>
<text x="329" y="663.6" font-family="Liberation Sans" font-size="8.6" fill="#333">35</text>
<line x1="324.8" y1="637.4" x2="326.8" y2="637.4" stroke="#222" stroke-width="0.8"/>
<text x="329" y="641.4" font-family="Liberation Sans" font-size="8.6" fill="#333">40</text>
<line x1="324.8" y1="615.2" x2="326.8" y2="615.2" stroke="#222" stroke-width="0.8"/>
<text x="329" y="619.2" font-family="Liberation Sans" font-size="8.6" fill="#333">45</text>
<text x="329" y="597.0" font-family="Liberation Sans" font-size="8.6" fill="#333">50</text>
</svg>
</body></html>
